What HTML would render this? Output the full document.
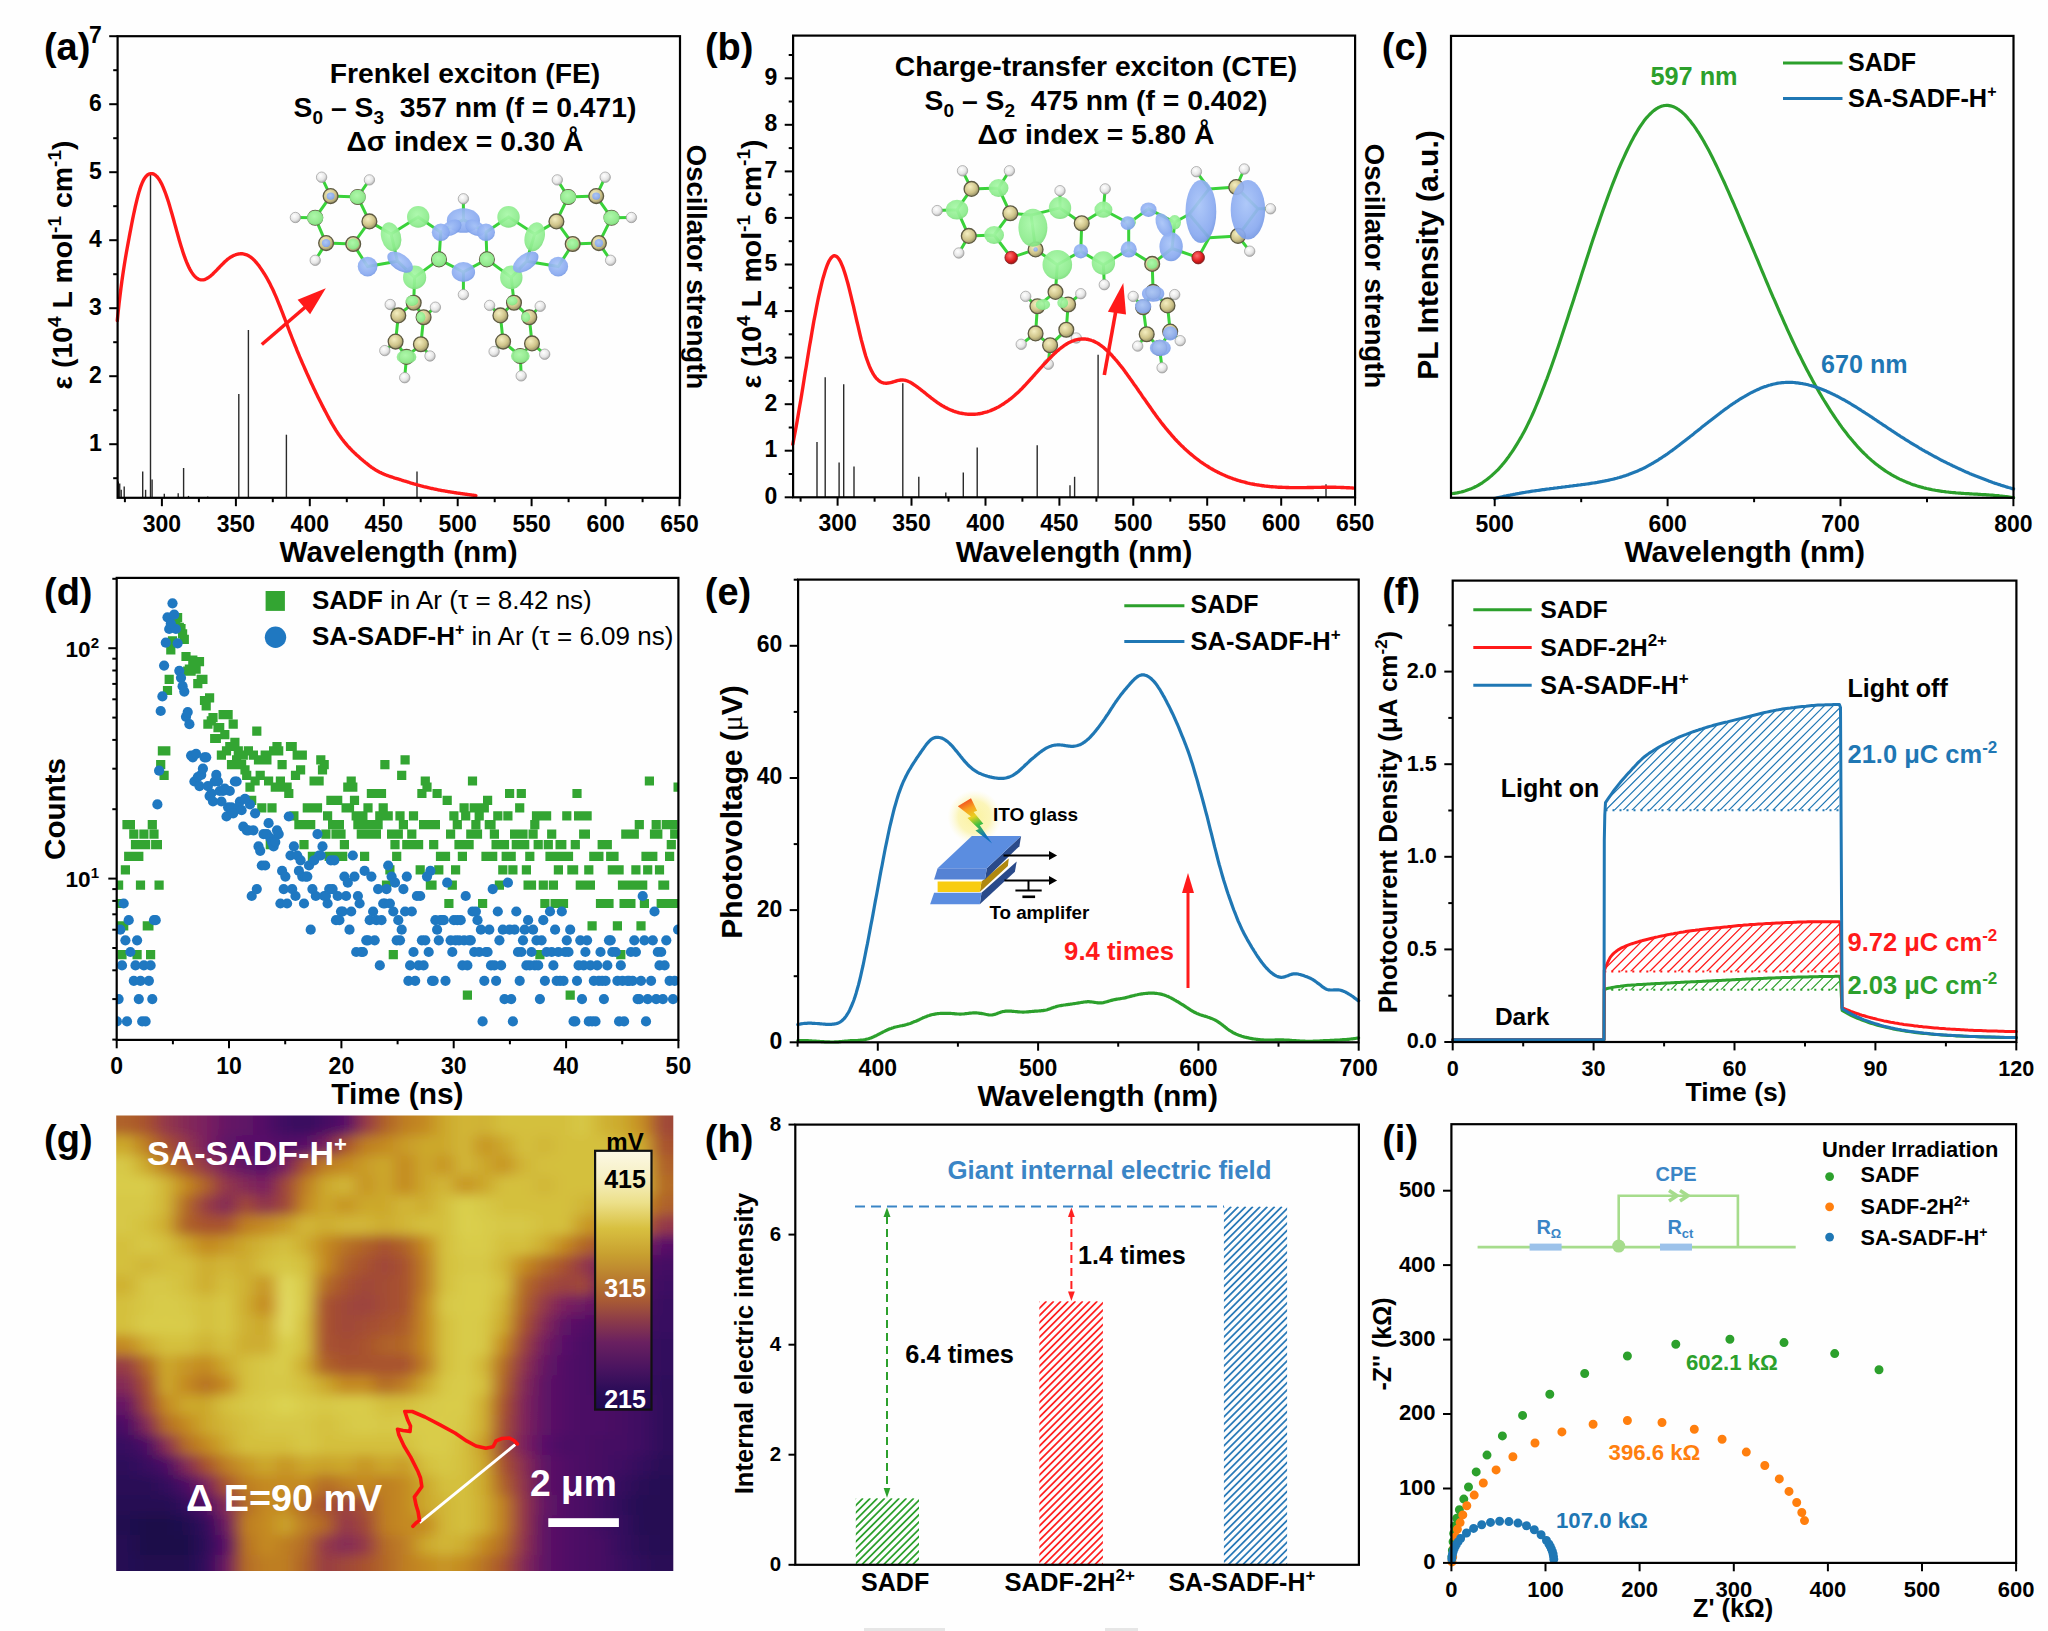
<!DOCTYPE html>
<html><head><meta charset="utf-8"><title>Figure</title>
<style>
html,body{margin:0;padding:0;background:#fff;overflow:hidden;}
svg{display:block;font-family:'Liberation Sans', Arial, sans-serif;}
</style></head>
<body>
<svg xmlns="http://www.w3.org/2000/svg" width="2048" height="1631" viewBox="0 0 2048 1631">
<rect width="2048" height="1631" fill="#fefefe"/>
<defs>
<radialGradient id="gC" cx="0.4" cy="0.35" r="0.7"><stop offset="0" stop-color="#f4eec0"/><stop offset="0.6" stop-color="#cfc48a"/><stop offset="1" stop-color="#8c8660"/></radialGradient>
<radialGradient id="gH" cx="0.4" cy="0.35" r="0.7"><stop offset="0" stop-color="#ffffff"/><stop offset="0.6" stop-color="#e6e6e6"/><stop offset="1" stop-color="#a8a8a8"/></radialGradient>
<radialGradient id="gO" cx="0.4" cy="0.35" r="0.7"><stop offset="0" stop-color="#ff7070"/><stop offset="0.6" stop-color="#e02020"/><stop offset="1" stop-color="#901010"/></radialGradient>
<radialGradient id="gG" cx="0.45" cy="0.4" r="0.65"><stop offset="0" stop-color="#a8f8a8"/><stop offset="0.75" stop-color="#8eec8e"/><stop offset="1" stop-color="#78d878"/></radialGradient>
<radialGradient id="gB" cx="0.45" cy="0.4" r="0.65"><stop offset="0" stop-color="#a8c4f8"/><stop offset="0.75" stop-color="#8aaaf0"/><stop offset="1" stop-color="#7094e0"/></radialGradient>
</defs>
<path d="M330.6,196.1L357.7,197.0M357.7,197.0L369.4,221.4M369.4,221.4L353.2,244.0M353.2,244.0L326.1,243.1M326.1,243.1L315.2,217.8M315.2,217.8L330.6,196.1M369.4,221.4L391.1,234.1M353.2,244.0L367.6,266.6M367.6,266.6L397.4,261.2M397.4,261.2L391.1,234.1M391.1,234.1L418.2,216.9M418.2,216.9L440.8,232.3M440.8,232.3L439.0,259.4M439.0,259.4L414.6,277.4M414.6,277.4L397.4,261.2M440.8,232.3L463.4,219.6M463.4,219.6L486.0,232.3M486.0,232.3L486.9,259.4M486.9,259.4L463.4,272.0M463.4,272.0L439.0,259.4M486.0,232.3L508.5,216.9M508.5,216.9L534.7,234.1M534.7,234.1L526.6,261.2M526.6,261.2L511.3,277.4M511.3,277.4L486.9,259.4M534.7,234.1L556.4,221.4M572.7,244.0L558.2,266.6M558.2,266.6L526.6,261.2M596.2,196.1L568.2,197.0M568.2,197.0L556.4,221.4M556.4,221.4L572.7,244.0M572.7,244.0L598.9,243.1M598.9,243.1L611.5,217.8M611.5,217.8L596.2,196.1M414.6,277.4L413.7,302.7M413.7,302.7L398.3,315.4M413.7,302.7L423.6,317.2M398.3,315.4L395.6,341.6M423.6,317.2L420.9,344.3M395.6,341.6L406.5,356.9M420.9,344.3L406.5,356.9M511.3,277.4L514.0,302.7M514.0,302.7L500.4,315.4M514.0,302.7L529.3,317.2M500.4,315.4L503.1,341.6M529.3,317.2L532.0,343.4M503.1,341.6L520.3,356.0M532.0,343.4L520.3,356.0M330.6,196.1L321.6,177.2M357.7,197.0L369.4,179.9M315.2,217.8L295.4,217.5M326.1,243.1L315.2,260.3M463.4,219.6L463.4,198.8M463.4,272.0L463.4,294.6M568.2,197.0L557.3,179.9M596.2,196.1L605.2,177.2M611.5,217.8L631.4,217.5M598.9,243.1L610.6,260.3M398.3,315.4L390.2,304.5M423.6,317.2L435.4,307.2M395.6,341.6L384.8,350.6M420.9,344.3L430.0,356.0M406.5,356.9L404.7,377.7M500.4,315.4L489.6,305.4M529.3,317.2L540.2,306.3M503.1,341.6L494.1,351.5M532.0,343.4L544.7,354.2M520.3,356.0L521.2,375.9" stroke="#3ad23a" stroke-width="3.0" fill="none" stroke-linecap="round"/>
<circle cx="321.6" cy="177.2" r="5.2" fill="url(#gH)" stroke="#9a9a9a" stroke-width="0.7"/>
<circle cx="369.4" cy="179.9" r="5.2" fill="url(#gH)" stroke="#9a9a9a" stroke-width="0.7"/>
<circle cx="295.4" cy="217.5" r="5.2" fill="url(#gH)" stroke="#9a9a9a" stroke-width="0.7"/>
<circle cx="315.2" cy="260.3" r="5.2" fill="url(#gH)" stroke="#9a9a9a" stroke-width="0.7"/>
<circle cx="463.4" cy="198.8" r="5.2" fill="url(#gH)" stroke="#9a9a9a" stroke-width="0.7"/>
<circle cx="463.4" cy="294.6" r="5.2" fill="url(#gH)" stroke="#9a9a9a" stroke-width="0.7"/>
<circle cx="557.3" cy="179.9" r="5.2" fill="url(#gH)" stroke="#9a9a9a" stroke-width="0.7"/>
<circle cx="605.2" cy="177.2" r="5.2" fill="url(#gH)" stroke="#9a9a9a" stroke-width="0.7"/>
<circle cx="631.4" cy="217.5" r="5.2" fill="url(#gH)" stroke="#9a9a9a" stroke-width="0.7"/>
<circle cx="610.6" cy="260.3" r="5.2" fill="url(#gH)" stroke="#9a9a9a" stroke-width="0.7"/>
<circle cx="390.2" cy="304.5" r="5.2" fill="url(#gH)" stroke="#9a9a9a" stroke-width="0.7"/>
<circle cx="435.4" cy="307.2" r="5.2" fill="url(#gH)" stroke="#9a9a9a" stroke-width="0.7"/>
<circle cx="384.8" cy="350.6" r="5.2" fill="url(#gH)" stroke="#9a9a9a" stroke-width="0.7"/>
<circle cx="430.0" cy="356.0" r="5.2" fill="url(#gH)" stroke="#9a9a9a" stroke-width="0.7"/>
<circle cx="404.7" cy="377.7" r="5.2" fill="url(#gH)" stroke="#9a9a9a" stroke-width="0.7"/>
<circle cx="489.6" cy="305.4" r="5.2" fill="url(#gH)" stroke="#9a9a9a" stroke-width="0.7"/>
<circle cx="540.2" cy="306.3" r="5.2" fill="url(#gH)" stroke="#9a9a9a" stroke-width="0.7"/>
<circle cx="494.1" cy="351.5" r="5.2" fill="url(#gH)" stroke="#9a9a9a" stroke-width="0.7"/>
<circle cx="544.7" cy="354.2" r="5.2" fill="url(#gH)" stroke="#9a9a9a" stroke-width="0.7"/>
<circle cx="521.2" cy="375.9" r="5.2" fill="url(#gH)" stroke="#9a9a9a" stroke-width="0.7"/>
<circle cx="330.6" cy="196.1" r="7.4" fill="url(#gC)" stroke="#5e5a42" stroke-width="1.3"/>
<circle cx="357.7" cy="197.0" r="7.4" fill="url(#gC)" stroke="#5e5a42" stroke-width="1.3"/>
<circle cx="369.4" cy="221.4" r="7.4" fill="url(#gC)" stroke="#5e5a42" stroke-width="1.3"/>
<circle cx="353.2" cy="244.0" r="7.4" fill="url(#gC)" stroke="#5e5a42" stroke-width="1.3"/>
<circle cx="326.1" cy="243.1" r="7.4" fill="url(#gC)" stroke="#5e5a42" stroke-width="1.3"/>
<circle cx="315.2" cy="217.8" r="7.4" fill="url(#gC)" stroke="#5e5a42" stroke-width="1.3"/>
<circle cx="439.0" cy="259.4" r="7.4" fill="url(#gC)" stroke="#5e5a42" stroke-width="1.3"/>
<circle cx="486.9" cy="259.4" r="7.4" fill="url(#gC)" stroke="#5e5a42" stroke-width="1.3"/>
<circle cx="596.2" cy="196.1" r="7.4" fill="url(#gC)" stroke="#5e5a42" stroke-width="1.3"/>
<circle cx="568.2" cy="197.0" r="7.4" fill="url(#gC)" stroke="#5e5a42" stroke-width="1.3"/>
<circle cx="556.4" cy="221.4" r="7.4" fill="url(#gC)" stroke="#5e5a42" stroke-width="1.3"/>
<circle cx="572.7" cy="244.0" r="7.4" fill="url(#gC)" stroke="#5e5a42" stroke-width="1.3"/>
<circle cx="598.9" cy="243.1" r="7.4" fill="url(#gC)" stroke="#5e5a42" stroke-width="1.3"/>
<circle cx="611.5" cy="217.8" r="7.4" fill="url(#gC)" stroke="#5e5a42" stroke-width="1.3"/>
<circle cx="413.7" cy="302.7" r="7.4" fill="url(#gC)" stroke="#5e5a42" stroke-width="1.3"/>
<circle cx="398.3" cy="315.4" r="7.4" fill="url(#gC)" stroke="#5e5a42" stroke-width="1.3"/>
<circle cx="423.6" cy="317.2" r="7.4" fill="url(#gC)" stroke="#5e5a42" stroke-width="1.3"/>
<circle cx="395.6" cy="341.6" r="7.4" fill="url(#gC)" stroke="#5e5a42" stroke-width="1.3"/>
<circle cx="420.9" cy="344.3" r="7.4" fill="url(#gC)" stroke="#5e5a42" stroke-width="1.3"/>
<circle cx="406.5" cy="356.9" r="7.4" fill="url(#gC)" stroke="#5e5a42" stroke-width="1.3"/>
<circle cx="514.0" cy="302.7" r="7.4" fill="url(#gC)" stroke="#5e5a42" stroke-width="1.3"/>
<circle cx="500.4" cy="315.4" r="7.4" fill="url(#gC)" stroke="#5e5a42" stroke-width="1.3"/>
<circle cx="529.3" cy="317.2" r="7.4" fill="url(#gC)" stroke="#5e5a42" stroke-width="1.3"/>
<circle cx="503.1" cy="341.6" r="7.4" fill="url(#gC)" stroke="#5e5a42" stroke-width="1.3"/>
<circle cx="532.0" cy="343.4" r="7.4" fill="url(#gC)" stroke="#5e5a42" stroke-width="1.3"/>
<circle cx="520.3" cy="356.0" r="7.4" fill="url(#gC)" stroke="#5e5a42" stroke-width="1.3"/>
<ellipse cx="418.2" cy="216.9" rx="11.2" ry="10.8" transform="rotate(0 418.2 216.9)" fill="url(#gG)" opacity="0.93"/>
<ellipse cx="508.5" cy="216.9" rx="11.2" ry="10.8" transform="rotate(0 508.5 216.9)" fill="url(#gG)" opacity="0.93"/>
<ellipse cx="391.1" cy="236.8" rx="9.9" ry="14.8" transform="rotate(-15 391.1 236.8)" fill="url(#gG)" opacity="0.93"/>
<ellipse cx="534.7" cy="236.8" rx="9.9" ry="14.8" transform="rotate(15 534.7 236.8)" fill="url(#gG)" opacity="0.93"/>
<ellipse cx="414.6" cy="277.4" rx="11.6" ry="11.9" transform="rotate(0 414.6 277.4)" fill="url(#gG)" opacity="0.93"/>
<ellipse cx="511.3" cy="277.4" rx="11.2" ry="11.9" transform="rotate(0 511.3 277.4)" fill="url(#gG)" opacity="0.93"/>
<ellipse cx="439.0" cy="259.4" rx="7.2" ry="7.2" transform="rotate(0 439.0 259.4)" fill="url(#gG)" opacity="0.93"/>
<ellipse cx="486.9" cy="259.4" rx="7.2" ry="7.2" transform="rotate(0 486.9 259.4)" fill="url(#gG)" opacity="0.93"/>
<ellipse cx="315.2" cy="217.8" rx="8.1" ry="7.2" transform="rotate(0 315.2 217.8)" fill="url(#gG)" opacity="0.93"/>
<ellipse cx="357.7" cy="197.0" rx="8.1" ry="7.2" transform="rotate(0 357.7 197.0)" fill="url(#gG)" opacity="0.93"/>
<ellipse cx="568.2" cy="197.0" rx="8.1" ry="7.2" transform="rotate(0 568.2 197.0)" fill="url(#gG)" opacity="0.93"/>
<ellipse cx="611.5" cy="217.8" rx="8.1" ry="7.2" transform="rotate(0 611.5 217.8)" fill="url(#gG)" opacity="0.93"/>
<ellipse cx="353.2" cy="244.0" rx="5.8" ry="5.4" transform="rotate(0 353.2 244.0)" fill="url(#gG)" opacity="0.93"/>
<ellipse cx="572.7" cy="244.0" rx="5.8" ry="5.4" transform="rotate(0 572.7 244.0)" fill="url(#gG)" opacity="0.93"/>
<ellipse cx="406.5" cy="356.9" rx="9.9" ry="6.9" transform="rotate(0 406.5 356.9)" fill="url(#gG)" opacity="0.93"/>
<ellipse cx="520.3" cy="356.0" rx="9.4" ry="6.9" transform="rotate(0 520.3 356.0)" fill="url(#gG)" opacity="0.93"/>
<ellipse cx="411.9" cy="300.9" rx="6.3" ry="5.1" transform="rotate(0 411.9 300.9)" fill="url(#gG)" opacity="0.93"/>
<ellipse cx="420.9" cy="317.2" rx="4.5" ry="5.4" transform="rotate(0 420.9 317.2)" fill="url(#gG)" opacity="0.93"/>
<ellipse cx="512.2" cy="300.9" rx="5.4" ry="4.5" transform="rotate(0 512.2 300.9)" fill="url(#gG)" opacity="0.93"/>
<ellipse cx="525.7" cy="317.2" rx="4.5" ry="5.1" transform="rotate(0 525.7 317.2)" fill="url(#gG)" opacity="0.93"/>
<ellipse cx="463.4" cy="220.5" rx="16.6" ry="12.3" transform="rotate(0 463.4 220.5)" fill="url(#gB)" opacity="0.93"/>
<ellipse cx="451.6" cy="227.8" rx="10.8" ry="7.2" transform="rotate(-30 451.6 227.8)" fill="url(#gB)" opacity="0.93"/>
<ellipse cx="475.1" cy="227.8" rx="10.8" ry="7.2" transform="rotate(30 475.1 227.8)" fill="url(#gB)" opacity="0.93"/>
<ellipse cx="440.8" cy="232.3" rx="9.0" ry="8.7" transform="rotate(0 440.8 232.3)" fill="url(#gB)" opacity="0.93"/>
<ellipse cx="486.0" cy="232.3" rx="9.0" ry="8.7" transform="rotate(0 486.0 232.3)" fill="url(#gB)" opacity="0.93"/>
<ellipse cx="463.4" cy="272.0" rx="11.7" ry="9.9" transform="rotate(0 463.4 272.0)" fill="url(#gB)" opacity="0.93"/>
<ellipse cx="400.1" cy="262.1" rx="14.5" ry="8.1" transform="rotate(35 400.1 262.1)" fill="url(#gB)" opacity="0.93"/>
<ellipse cx="525.7" cy="262.1" rx="14.5" ry="8.1" transform="rotate(-35 525.7 262.1)" fill="url(#gB)" opacity="0.93"/>
<ellipse cx="367.6" cy="266.6" rx="9.9" ry="9.9" transform="rotate(0 367.6 266.6)" fill="url(#gB)" opacity="0.93"/>
<ellipse cx="558.2" cy="266.6" rx="9.9" ry="9.9" transform="rotate(0 558.2 266.6)" fill="url(#gB)" opacity="0.93"/>
<ellipse cx="330.6" cy="196.1" rx="4.0" ry="3.6" transform="rotate(0 330.6 196.1)" fill="url(#gB)" opacity="0.93"/>
<ellipse cx="326.1" cy="243.1" rx="4.3" ry="4.0" transform="rotate(0 326.1 243.1)" fill="url(#gB)" opacity="0.93"/>
<ellipse cx="596.2" cy="196.1" rx="4.0" ry="3.6" transform="rotate(0 596.2 196.1)" fill="url(#gB)" opacity="0.93"/>
<ellipse cx="598.9" cy="243.1" rx="4.3" ry="4.0" transform="rotate(0 598.9 243.1)" fill="url(#gB)" opacity="0.93"/>
<line x1="118.3" y1="497.8" x2="118.3" y2="481.6" stroke="#2a2a2a" stroke-width="1.4" />
<line x1="119.7" y1="497.8" x2="119.7" y2="483.6" stroke="#2a2a2a" stroke-width="1.4" />
<line x1="121.2" y1="497.8" x2="121.2" y2="489.8" stroke="#2a2a2a" stroke-width="1.4" />
<line x1="124.2" y1="497.8" x2="124.2" y2="486.4" stroke="#2a2a2a" stroke-width="1.4" />
<line x1="142.7" y1="497.8" x2="142.7" y2="471.4" stroke="#2a2a2a" stroke-width="1.4" />
<line x1="145.6" y1="497.8" x2="145.6" y2="489.8" stroke="#2a2a2a" stroke-width="1.4" />
<line x1="150.5" y1="497.8" x2="150.5" y2="174.2" stroke="#2a2a2a" stroke-width="1.4" />
<line x1="152.1" y1="497.8" x2="152.1" y2="479.6" stroke="#2a2a2a" stroke-width="1.4" />
<line x1="164.3" y1="497.8" x2="164.3" y2="493.8" stroke="#2a2a2a" stroke-width="1.4" />
<line x1="178.2" y1="497.8" x2="178.2" y2="493.2" stroke="#2a2a2a" stroke-width="1.4" />
<line x1="183.6" y1="497.8" x2="183.6" y2="468" stroke="#2a2a2a" stroke-width="1.4" />
<line x1="188.5" y1="497.8" x2="188.5" y2="495.9" stroke="#2a2a2a" stroke-width="1.4" />
<line x1="207.7" y1="497.8" x2="207.7" y2="496.6" stroke="#2a2a2a" stroke-width="1.4" />
<line x1="238.8" y1="497.8" x2="238.8" y2="393.9" stroke="#2a2a2a" stroke-width="1.4" />
<line x1="248.4" y1="497.8" x2="248.4" y2="330" stroke="#2a2a2a" stroke-width="1.4" />
<line x1="286.4" y1="497.8" x2="286.4" y2="434.7" stroke="#2a2a2a" stroke-width="1.4" />
<line x1="417" y1="497.8" x2="417" y2="471.4" stroke="#2a2a2a" stroke-width="1.4" />
<path d="M117.3,320.5 L118.2,311.7 L119.1,303.4 L120.0,295.7 L120.9,288.5 L121.8,281.7 L122.7,275.4 L123.6,269.4 L124.5,263.7 L125.4,258.3 L126.3,253.0 L127.2,248.0 L128.1,243.1 L129.0,238.2 L129.9,233.4 L130.8,228.7 L131.7,224.0 L132.6,219.4 L133.5,215.0 L134.4,210.8 L135.3,206.7 L136.2,202.8 L137.1,199.1 L138.0,195.6 L138.9,192.4 L139.8,189.4 L140.7,186.7 L141.6,184.3 L142.5,182.2 L143.4,180.3 L144.3,178.7 L145.2,177.4 L146.1,176.3 L147.0,175.4 L147.9,174.7 L148.8,174.1 L149.7,173.8 L150.6,173.6 L151.5,173.6 L152.4,173.7 L153.2,173.9 L154.1,174.3 L155.0,174.9 L155.9,175.6 L156.8,176.5 L157.7,177.5 L158.6,178.7 L159.5,180.0 L160.4,181.6 L161.3,183.3 L162.2,185.1 L163.1,187.1 L164.0,189.3 L164.9,191.6 L165.8,194.0 L166.7,196.6 L167.6,199.3 L168.5,202.1 L169.4,205.0 L170.3,208.1 L171.2,211.2 L172.1,214.3 L173.0,217.5 L173.9,220.8 L174.8,224.1 L175.7,227.3 L176.6,230.6 L177.5,233.8 L178.4,237.0 L179.3,240.2 L180.2,243.2 L181.1,246.2 L182.0,249.1 L182.9,251.9 L183.8,254.6 L184.7,257.2 L185.6,259.6 L186.5,261.9 L187.4,264.0 L188.3,266.0 L189.2,267.9 L190.1,269.6 L191.0,271.2 L191.9,272.6 L192.8,273.9 L193.7,275.1 L194.6,276.1 L195.5,277.0 L196.4,277.8 L197.3,278.4 L198.2,279.0 L199.1,279.4 L200.0,279.7 L200.9,279.9 L201.8,279.9 L202.7,279.9 L203.6,279.8 L204.5,279.6 L205.4,279.2 L206.3,278.8 L207.2,278.3 L208.1,277.8 L209.0,277.2 L209.9,276.5 L210.8,275.8 L211.7,275.0 L212.6,274.2 L213.5,273.3 L214.4,272.4 L215.3,271.5 L216.2,270.6 L217.1,269.7 L218.0,268.7 L218.9,267.8 L219.8,266.8 L220.7,265.9 L221.6,265.0 L222.5,264.1 L223.4,263.2 L224.3,262.3 L225.1,261.5 L226.0,260.7 L226.9,259.9 L227.8,259.2 L228.7,258.5 L229.6,257.8 L230.5,257.2 L231.4,256.7 L232.3,256.2 L233.2,255.7 L234.1,255.3 L235.0,255.0 L235.9,254.6 L236.8,254.4 L237.7,254.2 L238.6,254.0 L239.5,253.9 L240.4,253.8 L241.3,253.8 L242.2,253.8 L243.1,253.9 L244.0,254.1 L244.9,254.3 L245.8,254.6 L246.7,254.9 L247.6,255.3 L248.5,255.8 L249.4,256.3 L250.3,256.9 L251.2,257.5 L252.1,258.3 L253.0,259.1 L253.9,259.9 L254.8,260.8 L255.7,261.8 L256.6,262.9 L257.5,264.0 L258.4,265.1 L259.3,266.3 L260.2,267.6 L261.1,268.9 L262.0,270.2 L262.9,271.6 L263.8,273.0 L264.7,274.4 L265.6,275.9 L266.5,277.4 L267.4,279.0 L268.3,280.7 L269.2,282.3 L270.1,284.1 L271.0,285.9 L271.9,287.7 L272.8,289.6 L273.7,291.5 L274.6,293.6 L275.5,295.6 L276.4,297.7 L277.3,299.9 L278.2,302.1 L279.1,304.3 L280.0,306.5 L280.9,308.8 L281.8,311.1 L282.7,313.4 L283.6,315.8 L284.5,318.1 L285.4,320.5 L286.3,322.9 L287.2,325.2 L288.1,327.6 L289.0,330.0 L289.9,332.3 L290.8,334.6 L291.7,337.0 L292.6,339.3 L293.5,341.5 L294.4,343.8 L295.3,346.0 L296.2,348.2 L297.0,350.4 L297.9,352.5 L298.8,354.7 L299.7,356.8 L300.6,358.9 L301.5,361.0 L302.4,363.1 L303.3,365.1 L304.2,367.2 L305.1,369.2 L306.0,371.2 L306.9,373.3 L307.8,375.3 L308.7,377.3 L309.6,379.2 L310.5,381.2 L311.4,383.2 L312.3,385.1 L313.2,387.0 L314.1,388.9 L315.0,390.8 L315.9,392.7 L316.8,394.5 L317.7,396.4 L318.6,398.2 L319.5,400.0 L320.4,401.8 L321.3,403.6 L322.2,405.4 L323.1,407.1 L324.0,408.9 L324.9,410.6 L325.8,412.3 L326.7,414.0 L327.6,415.7 L328.5,417.4 L329.4,419.1 L330.3,420.7 L331.2,422.3 L332.1,423.9 L333.0,425.4 L333.9,426.9 L334.8,428.4 L335.7,429.9 L336.6,431.3 L337.5,432.6 L338.4,434.0 L339.3,435.3 L340.2,436.5 L341.1,437.8 L342.0,439.0 L342.9,440.1 L343.8,441.3 L344.7,442.4 L345.6,443.5 L346.5,444.5 L347.4,445.6 L348.3,446.6 L349.2,447.5 L350.1,448.5 L351.0,449.4 L351.9,450.4 L352.8,451.2 L353.7,452.1 L354.6,453.0 L355.5,453.8 L356.4,454.7 L357.3,455.5 L358.2,456.3 L359.1,457.1 L360.0,457.9 L360.9,458.7 L361.8,459.5 L362.7,460.2 L363.6,461.0 L364.5,461.7 L365.4,462.5 L366.3,463.2 L367.2,463.9 L368.1,464.6 L368.9,465.3 L369.8,466.0 L370.7,466.6 L371.6,467.3 L372.5,467.9 L373.4,468.5 L374.3,469.1 L375.2,469.7 L376.1,470.2 L377.0,470.7 L377.9,471.2 L378.8,471.7 L379.7,472.2 L380.6,472.6 L381.5,473.1 L382.4,473.5 L383.3,473.9 L384.2,474.3 L385.1,474.6 L386.0,475.0 L386.9,475.3 L387.8,475.7 L388.7,476.0 L389.6,476.3 L390.5,476.6 L391.4,476.9 L392.3,477.2 L393.2,477.5 L394.1,477.8 L395.0,478.1 L395.9,478.3 L396.8,478.6 L397.7,478.9 L398.6,479.2 L399.5,479.5 L400.4,479.7 L401.3,480.0 L402.2,480.3 L403.1,480.6 L404.0,480.9 L404.9,481.1 L405.8,481.4 L406.7,481.7 L407.6,482.0 L408.5,482.2 L409.4,482.5 L410.3,482.8 L411.2,483.1 L412.1,483.3 L413.0,483.6 L413.9,483.9 L414.8,484.1 L415.7,484.4 L416.6,484.6 L417.5,484.9 L418.4,485.1 L419.3,485.4 L420.2,485.6 L421.1,485.9 L422.0,486.1 L422.9,486.3 L423.8,486.6 L424.7,486.8 L425.6,487.0 L426.5,487.2 L427.4,487.5 L428.3,487.7 L429.2,487.9 L430.1,488.1 L431.0,488.3 L431.9,488.5 L432.8,488.7 L433.7,488.9 L434.6,489.1 L435.5,489.2 L436.4,489.4 L437.3,489.6 L438.2,489.8 L439.1,490.0 L440.0,490.1 L440.8,490.3 L441.7,490.5 L442.6,490.6 L443.5,490.8 L444.4,490.9 L445.3,491.1 L446.2,491.3 L447.1,491.4 L448.0,491.6 L448.9,491.7 L449.8,491.9 L450.7,492.0 L451.6,492.1 L452.5,492.3 L453.4,492.4 L454.3,492.6 L455.2,492.7 L456.1,492.8 L457.0,493.0 L457.9,493.1 L458.8,493.2 L459.7,493.4 L460.6,493.5 L461.5,493.6 L462.4,493.7 L463.3,493.9 L464.2,494.0 L465.1,494.1 L466.0,494.2 L466.9,494.4 L467.8,494.5 L468.7,494.6 L469.6,494.7 L470.5,494.9 L471.4,495.0 L472.3,495.1 L473.2,495.2 L474.1,495.4 L475.0,495.5 L475.9,495.6" fill="none" stroke="#ff1a1a" stroke-width="3.4" stroke-linejoin="round" stroke-linecap="round" />
<rect x="117.6" y="36.2" width="562.4" height="461.6" fill="none" stroke="#000" stroke-width="2.2"/>
<line x1="161.9" y1="497.8" x2="161.9" y2="506.2" stroke="#000" stroke-width="2" />
<line x1="235.9" y1="497.8" x2="235.9" y2="506.2" stroke="#000" stroke-width="2" />
<line x1="309.8" y1="497.8" x2="309.8" y2="506.2" stroke="#000" stroke-width="2" />
<line x1="383.8" y1="497.8" x2="383.8" y2="506.2" stroke="#000" stroke-width="2" />
<line x1="457.7" y1="497.8" x2="457.7" y2="506.2" stroke="#000" stroke-width="2" />
<line x1="531.6" y1="497.8" x2="531.6" y2="506.2" stroke="#000" stroke-width="2" />
<line x1="605.6" y1="497.8" x2="605.6" y2="506.2" stroke="#000" stroke-width="2" />
<line x1="679.5" y1="497.8" x2="679.5" y2="506.2" stroke="#000" stroke-width="2" />
<line x1="124.9" y1="497.8" x2="124.9" y2="502.2" stroke="#000" stroke-width="2" />
<line x1="198.9" y1="497.8" x2="198.9" y2="502.2" stroke="#000" stroke-width="2" />
<line x1="272.8" y1="497.8" x2="272.8" y2="502.2" stroke="#000" stroke-width="2" />
<line x1="346.8" y1="497.8" x2="346.8" y2="502.2" stroke="#000" stroke-width="2" />
<line x1="420.7" y1="497.8" x2="420.7" y2="502.2" stroke="#000" stroke-width="2" />
<line x1="494.7" y1="497.8" x2="494.7" y2="502.2" stroke="#000" stroke-width="2" />
<line x1="568.6" y1="497.8" x2="568.6" y2="502.2" stroke="#000" stroke-width="2" />
<line x1="642.6" y1="497.8" x2="642.6" y2="502.2" stroke="#000" stroke-width="2" />
<text x="161.9" y="531.5" font-size="23" text-anchor="middle" font-weight="bold" fill="#000" >300</text>
<text x="235.9" y="531.5" font-size="23" text-anchor="middle" font-weight="bold" fill="#000" >350</text>
<text x="309.8" y="531.5" font-size="23" text-anchor="middle" font-weight="bold" fill="#000" >400</text>
<text x="383.8" y="531.5" font-size="23" text-anchor="middle" font-weight="bold" fill="#000" >450</text>
<text x="457.7" y="531.5" font-size="23" text-anchor="middle" font-weight="bold" fill="#000" >500</text>
<text x="531.6" y="531.5" font-size="23" text-anchor="middle" font-weight="bold" fill="#000" >550</text>
<text x="605.6" y="531.5" font-size="23" text-anchor="middle" font-weight="bold" fill="#000" >600</text>
<text x="679.5" y="531.5" font-size="23" text-anchor="middle" font-weight="bold" fill="#000" >650</text>
<line x1="109.2" y1="444.2" x2="117.6" y2="444.2" stroke="#000" stroke-width="2" />
<line x1="109.2" y1="376.2" x2="117.6" y2="376.2" stroke="#000" stroke-width="2" />
<line x1="109.2" y1="308.2" x2="117.6" y2="308.2" stroke="#000" stroke-width="2" />
<line x1="109.2" y1="240.2" x2="117.6" y2="240.2" stroke="#000" stroke-width="2" />
<line x1="109.2" y1="172.2" x2="117.6" y2="172.2" stroke="#000" stroke-width="2" />
<line x1="109.2" y1="104.2" x2="117.6" y2="104.2" stroke="#000" stroke-width="2" />
<line x1="109.2" y1="36.2" x2="117.6" y2="36.2" stroke="#000" stroke-width="2" />
<line x1="113.2" y1="478.2" x2="117.6" y2="478.2" stroke="#000" stroke-width="2" />
<line x1="113.2" y1="410.2" x2="117.6" y2="410.2" stroke="#000" stroke-width="2" />
<line x1="113.2" y1="342.2" x2="117.6" y2="342.2" stroke="#000" stroke-width="2" />
<line x1="113.2" y1="274.2" x2="117.6" y2="274.2" stroke="#000" stroke-width="2" />
<line x1="113.2" y1="206.2" x2="117.6" y2="206.2" stroke="#000" stroke-width="2" />
<line x1="113.2" y1="138.2" x2="117.6" y2="138.2" stroke="#000" stroke-width="2" />
<line x1="113.2" y1="70.2" x2="117.6" y2="70.2" stroke="#000" stroke-width="2" />
<text x="101.8" y="450.6" font-size="23" text-anchor="end" font-weight="bold" fill="#000" >1</text>
<text x="101.8" y="382.6" font-size="23" text-anchor="end" font-weight="bold" fill="#000" >2</text>
<text x="101.8" y="314.6" font-size="23" text-anchor="end" font-weight="bold" fill="#000" >3</text>
<text x="101.8" y="246.6" font-size="23" text-anchor="end" font-weight="bold" fill="#000" >4</text>
<text x="101.8" y="178.6" font-size="23" text-anchor="end" font-weight="bold" fill="#000" >5</text>
<text x="101.8" y="110.6" font-size="23" text-anchor="end" font-weight="bold" fill="#000" >6</text>
<text x="101.8" y="42.6" font-size="23" text-anchor="end" font-weight="bold" fill="#000" >7</text>
<text x="43.9" y="60" font-size="38" text-anchor="start" font-weight="bold" fill="#000" >(a)</text>
<text x="398.5" y="562" font-size="29.7" text-anchor="middle" font-weight="bold" fill="#000" >Wavelength (nm)</text>
<text transform="translate(72,265) rotate(-90)" font-size="28.5" font-weight="bold" text-anchor="middle">ε (10<tspan dy="-11" font-size="19">4</tspan><tspan dy="11"> L mol</tspan><tspan dy="-11" font-size="19">-1</tspan><tspan dy="11"> cm</tspan><tspan dy="-11" font-size="19">-1</tspan><tspan dy="11">)</tspan></text>
<text x="0" y="0" transform="translate(687,267) rotate(90)" font-size="27.5" text-anchor="middle" font-weight="bold" fill="#000">Oscillator strength</text>
<text x="465" y="82.6" font-size="28.3" text-anchor="middle" font-weight="bold" fill="#000" >Frenkel exciton (FE)</text>
<text x="465" y="117" font-size="28.3" font-weight="bold" text-anchor="middle">S<tspan dy="7" font-size="19">0</tspan><tspan dy="-7"> – S</tspan><tspan dy="7" font-size="19">3</tspan><tspan dy="-7">&#160; 357 nm (f = 0.471)</tspan></text>
<text x="465" y="151" font-size="28.3" text-anchor="middle" font-weight="bold" fill="#000" >Δσ index = 0.30 Å</text>
<line x1="261.8" y1="344.5" x2="306" y2="306.5" stroke="#ff1a1a" stroke-width="3.6"/>
<polygon points="325.8,288.2 297.6,299.7 310.1,314.3" fill="#ff1a1a"/>
<path d="M971.5,188.9L998.6,188.0M998.6,188.0L1010.3,213.3M1010.3,213.3L994.1,235.0M994.1,235.0L968.8,235.9M968.8,235.9L957.0,209.7M957.0,209.7L971.5,188.9M1010.3,213.3L1031.1,215.1M994.1,235.0L1011.2,257.6M1011.2,257.6L1035.6,249.4M1035.6,249.4L1031.1,215.1M1031.1,215.1L1060.0,207.9M1060.0,207.9L1081.7,223.2M1081.7,223.2L1080.8,251.2M1080.8,251.2L1057.3,264.8M1057.3,264.8L1035.6,249.4M1081.7,223.2L1103.4,209.7M1103.4,209.7L1128.7,223.2M1128.7,223.2L1128.7,249.4M1128.7,249.4L1103.4,264.8M1103.4,264.8L1080.8,251.2M1128.7,223.2L1148.5,208.8M1148.5,208.8L1174.7,222.3M1174.7,222.3L1172.0,248.5M1172.0,248.5L1152.2,263.9M1152.2,263.9L1128.7,249.4M1174.7,222.3L1189.2,214.2M1172.0,248.5L1198.2,257.6M1198.2,257.6L1209.1,237.7M1209.1,188.9L1236.2,187.1M1236.2,187.1L1257.9,208.8M1257.9,208.8L1238.0,235.9M1238.0,235.9L1209.1,237.7M1209.1,237.7L1189.2,214.2M1189.2,214.2L1209.1,188.9M1057.3,264.8L1055.5,291.9M1055.5,291.9L1037.4,306.3M1055.5,291.9L1068.1,304.5M1037.4,306.3L1035.6,333.4M1068.1,304.5L1066.3,329.8M1035.6,333.4L1050.1,345.2M1066.3,329.8L1050.1,345.2M1152.2,263.9L1153.1,291.9M1153.1,291.9L1143.1,307.2M1153.1,291.9L1167.5,305.4M1143.1,307.2L1146.7,334.3M1167.5,305.4L1170.2,331.6M1146.7,334.3L1159.4,347.9M1170.2,331.6L1159.4,347.9M971.5,188.9L962.5,170.8M998.6,188.0L1009.4,170.8M957.0,209.7L937.2,210.6M968.8,235.9L958.8,253.0M1060.0,207.9L1060.0,190.7M1103.4,209.7L1105.2,188.9M1103.4,264.8L1104.3,284.7M1209.1,188.9L1196.4,171.7M1236.2,187.1L1244.3,169.0M1257.9,208.8L1270.5,208.8M1238.0,235.9L1249.7,251.2M1037.4,306.3L1025.7,296.4M1068.1,304.5L1080.8,293.7M1035.6,333.4L1021.2,344.3M1066.3,329.8L1076.3,338.0M1050.1,345.2L1048.3,364.2M1143.1,307.2L1133.2,296.4M1167.5,305.4L1174.7,294.6M1146.7,334.3L1137.7,346.1M1170.2,331.6L1180.2,340.7M1159.4,347.9L1162.1,367.8" stroke="#3ad23a" stroke-width="3.0" fill="none" stroke-linecap="round"/>
<circle cx="962.5" cy="170.8" r="5.2" fill="url(#gH)" stroke="#9a9a9a" stroke-width="0.7"/>
<circle cx="1009.4" cy="170.8" r="5.2" fill="url(#gH)" stroke="#9a9a9a" stroke-width="0.7"/>
<circle cx="937.2" cy="210.6" r="5.2" fill="url(#gH)" stroke="#9a9a9a" stroke-width="0.7"/>
<circle cx="958.8" cy="253.0" r="5.2" fill="url(#gH)" stroke="#9a9a9a" stroke-width="0.7"/>
<circle cx="1060.0" cy="190.7" r="5.2" fill="url(#gH)" stroke="#9a9a9a" stroke-width="0.7"/>
<circle cx="1105.2" cy="188.9" r="5.2" fill="url(#gH)" stroke="#9a9a9a" stroke-width="0.7"/>
<circle cx="1104.3" cy="284.7" r="5.2" fill="url(#gH)" stroke="#9a9a9a" stroke-width="0.7"/>
<circle cx="1196.4" cy="171.7" r="5.2" fill="url(#gH)" stroke="#9a9a9a" stroke-width="0.7"/>
<circle cx="1244.3" cy="169.0" r="5.2" fill="url(#gH)" stroke="#9a9a9a" stroke-width="0.7"/>
<circle cx="1270.5" cy="208.8" r="5.2" fill="url(#gH)" stroke="#9a9a9a" stroke-width="0.7"/>
<circle cx="1249.7" cy="251.2" r="5.2" fill="url(#gH)" stroke="#9a9a9a" stroke-width="0.7"/>
<circle cx="1025.7" cy="296.4" r="5.2" fill="url(#gH)" stroke="#9a9a9a" stroke-width="0.7"/>
<circle cx="1080.8" cy="293.7" r="5.2" fill="url(#gH)" stroke="#9a9a9a" stroke-width="0.7"/>
<circle cx="1021.2" cy="344.3" r="5.2" fill="url(#gH)" stroke="#9a9a9a" stroke-width="0.7"/>
<circle cx="1076.3" cy="338.0" r="5.2" fill="url(#gH)" stroke="#9a9a9a" stroke-width="0.7"/>
<circle cx="1048.3" cy="364.2" r="5.2" fill="url(#gH)" stroke="#9a9a9a" stroke-width="0.7"/>
<circle cx="1133.2" cy="296.4" r="5.2" fill="url(#gH)" stroke="#9a9a9a" stroke-width="0.7"/>
<circle cx="1174.7" cy="294.6" r="5.2" fill="url(#gH)" stroke="#9a9a9a" stroke-width="0.7"/>
<circle cx="1137.7" cy="346.1" r="5.2" fill="url(#gH)" stroke="#9a9a9a" stroke-width="0.7"/>
<circle cx="1180.2" cy="340.7" r="5.2" fill="url(#gH)" stroke="#9a9a9a" stroke-width="0.7"/>
<circle cx="1162.1" cy="367.8" r="5.2" fill="url(#gH)" stroke="#9a9a9a" stroke-width="0.7"/>
<circle cx="971.5" cy="188.9" r="7.4" fill="url(#gC)" stroke="#5e5a42" stroke-width="1.3"/>
<circle cx="1010.3" cy="213.3" r="7.4" fill="url(#gC)" stroke="#5e5a42" stroke-width="1.3"/>
<circle cx="968.8" cy="235.9" r="7.4" fill="url(#gC)" stroke="#5e5a42" stroke-width="1.3"/>
<circle cx="1011.2" cy="257.6" r="6.3" fill="url(#gO)" stroke="#7a2020" stroke-width="0.8"/>
<circle cx="1035.6" cy="249.4" r="7.4" fill="url(#gC)" stroke="#5e5a42" stroke-width="1.3"/>
<circle cx="1081.7" cy="223.2" r="7.4" fill="url(#gC)" stroke="#5e5a42" stroke-width="1.3"/>
<circle cx="1152.2" cy="263.9" r="7.4" fill="url(#gC)" stroke="#5e5a42" stroke-width="1.3"/>
<circle cx="1236.2" cy="187.1" r="7.4" fill="url(#gC)" stroke="#5e5a42" stroke-width="1.3"/>
<circle cx="1238.0" cy="235.9" r="7.4" fill="url(#gC)" stroke="#5e5a42" stroke-width="1.3"/>
<circle cx="1198.2" cy="257.6" r="6.3" fill="url(#gO)" stroke="#7a2020" stroke-width="0.8"/>
<circle cx="1055.5" cy="291.9" r="7.4" fill="url(#gC)" stroke="#5e5a42" stroke-width="1.3"/>
<circle cx="1037.4" cy="306.3" r="7.4" fill="url(#gC)" stroke="#5e5a42" stroke-width="1.3"/>
<circle cx="1068.1" cy="304.5" r="7.4" fill="url(#gC)" stroke="#5e5a42" stroke-width="1.3"/>
<circle cx="1035.6" cy="333.4" r="7.4" fill="url(#gC)" stroke="#5e5a42" stroke-width="1.3"/>
<circle cx="1066.3" cy="329.8" r="7.4" fill="url(#gC)" stroke="#5e5a42" stroke-width="1.3"/>
<circle cx="1050.1" cy="345.2" r="7.4" fill="url(#gC)" stroke="#5e5a42" stroke-width="1.3"/>
<circle cx="1153.1" cy="291.9" r="7.4" fill="url(#gC)" stroke="#5e5a42" stroke-width="1.3"/>
<circle cx="1143.1" cy="307.2" r="7.4" fill="url(#gC)" stroke="#5e5a42" stroke-width="1.3"/>
<circle cx="1167.5" cy="305.4" r="7.4" fill="url(#gC)" stroke="#5e5a42" stroke-width="1.3"/>
<circle cx="1146.7" cy="334.3" r="7.4" fill="url(#gC)" stroke="#5e5a42" stroke-width="1.3"/>
<circle cx="1170.2" cy="331.6" r="7.4" fill="url(#gC)" stroke="#5e5a42" stroke-width="1.3"/>
<circle cx="1159.4" cy="347.9" r="7.4" fill="url(#gC)" stroke="#5e5a42" stroke-width="1.3"/>
<ellipse cx="998.6" cy="188.0" rx="9.9" ry="9.0" transform="rotate(0 998.6 188.0)" fill="url(#gG)" opacity="0.93"/>
<ellipse cx="957.0" cy="209.7" rx="11.2" ry="9.9" transform="rotate(0 957.0 209.7)" fill="url(#gG)" opacity="0.93"/>
<ellipse cx="994.1" cy="235.0" rx="9.9" ry="9.0" transform="rotate(0 994.1 235.0)" fill="url(#gG)" opacity="0.93"/>
<ellipse cx="1032.9" cy="227.8" rx="14.5" ry="19.0" transform="rotate(0 1032.9 227.8)" fill="url(#gG)" opacity="0.93"/>
<ellipse cx="1060.0" cy="207.9" rx="11.2" ry="11.2" transform="rotate(0 1060.0 207.9)" fill="url(#gG)" opacity="0.93"/>
<ellipse cx="1103.4" cy="209.7" rx="9.0" ry="8.1" transform="rotate(0 1103.4 209.7)" fill="url(#gG)" opacity="0.93"/>
<ellipse cx="1057.3" cy="264.8" rx="14.8" ry="14.8" transform="rotate(0 1057.3 264.8)" fill="url(#gG)" opacity="0.93"/>
<ellipse cx="1103.4" cy="263.0" rx="11.7" ry="11.7" transform="rotate(0 1103.4 263.0)" fill="url(#gG)" opacity="0.93"/>
<ellipse cx="1174.7" cy="222.3" rx="6.3" ry="7.2" transform="rotate(0 1174.7 222.3)" fill="url(#gG)" opacity="0.93"/>
<ellipse cx="1130.5" cy="222.3" rx="5.4" ry="5.4" transform="rotate(0 1130.5 222.3)" fill="url(#gG)" opacity="0.93"/>
<ellipse cx="1042.9" cy="304.5" rx="7.2" ry="5.4" transform="rotate(0 1042.9 304.5)" fill="url(#gG)" opacity="0.93"/>
<ellipse cx="1062.7" cy="302.7" rx="5.4" ry="5.4" transform="rotate(0 1062.7 302.7)" fill="url(#gG)" opacity="0.93"/>
<ellipse cx="1152.2" cy="263.9" rx="5.4" ry="5.1" transform="rotate(0 1152.2 263.9)" fill="url(#gG)" opacity="0.93"/>
<ellipse cx="1148.5" cy="209.7" rx="8.1" ry="7.2" transform="rotate(0 1148.5 209.7)" fill="url(#gB)" opacity="0.93"/>
<ellipse cx="1163.9" cy="225.0" rx="7.2" ry="12.6" transform="rotate(-25 1163.9 225.0)" fill="url(#gB)" opacity="0.93"/>
<ellipse cx="1171.1" cy="246.7" rx="11.7" ry="14.5" transform="rotate(0 1171.1 246.7)" fill="url(#gB)" opacity="0.93"/>
<ellipse cx="1200.9" cy="211.5" rx="15.4" ry="31.6" transform="rotate(0 1200.9 211.5)" fill="url(#gB)" opacity="0.93"/>
<ellipse cx="1247.9" cy="209.7" rx="17.2" ry="29.8" transform="rotate(0 1247.9 209.7)" fill="url(#gB)" opacity="0.93"/>
<ellipse cx="1080.8" cy="251.2" rx="7.2" ry="7.2" transform="rotate(0 1080.8 251.2)" fill="url(#gB)" opacity="0.93"/>
<ellipse cx="1128.7" cy="249.4" rx="8.1" ry="8.1" transform="rotate(0 1128.7 249.4)" fill="url(#gB)" opacity="0.93"/>
<ellipse cx="1127.8" cy="223.2" rx="7.2" ry="6.9" transform="rotate(0 1127.8 223.2)" fill="url(#gB)" opacity="0.93"/>
<ellipse cx="1035.6" cy="249.4" rx="2.2" ry="2.2" transform="rotate(0 1035.6 249.4)" fill="url(#gB)" opacity="0.93"/>
<ellipse cx="1153.1" cy="293.7" rx="11.2" ry="8.1" transform="rotate(0 1153.1 293.7)" fill="url(#gB)" opacity="0.93"/>
<ellipse cx="1143.1" cy="306.3" rx="8.1" ry="7.2" transform="rotate(0 1143.1 306.3)" fill="url(#gB)" opacity="0.93"/>
<ellipse cx="1170.2" cy="333.4" rx="7.2" ry="7.2" transform="rotate(0 1170.2 333.4)" fill="url(#gB)" opacity="0.93"/>
<ellipse cx="1160.3" cy="347.9" rx="10.5" ry="8.1" transform="rotate(0 1160.3 347.9)" fill="url(#gB)" opacity="0.93"/>
<line x1="817" y1="497.3" x2="817" y2="441.9" stroke="#2a2a2a" stroke-width="1.4" />
<line x1="825.2" y1="497.3" x2="825.2" y2="377.2" stroke="#2a2a2a" stroke-width="1.4" />
<line x1="839.1" y1="497.3" x2="839.1" y2="462.4" stroke="#2a2a2a" stroke-width="1.4" />
<line x1="843.7" y1="497.3" x2="843.7" y2="384.2" stroke="#2a2a2a" stroke-width="1.4" />
<line x1="854" y1="497.3" x2="854" y2="466.6" stroke="#2a2a2a" stroke-width="1.4" />
<line x1="902.8" y1="497.3" x2="902.8" y2="383.2" stroke="#2a2a2a" stroke-width="1.4" />
<line x1="918.8" y1="497.3" x2="918.8" y2="476.8" stroke="#2a2a2a" stroke-width="1.4" />
<line x1="945.8" y1="497.3" x2="945.8" y2="492.6" stroke="#2a2a2a" stroke-width="1.4" />
<line x1="963.3" y1="497.3" x2="963.3" y2="472.6" stroke="#2a2a2a" stroke-width="1.4" />
<line x1="977.2" y1="497.3" x2="977.2" y2="447.5" stroke="#2a2a2a" stroke-width="1.4" />
<line x1="1037.2" y1="497.3" x2="1037.2" y2="445.2" stroke="#2a2a2a" stroke-width="1.4" />
<line x1="1070" y1="497.3" x2="1070" y2="485.2" stroke="#2a2a2a" stroke-width="1.4" />
<line x1="1074.6" y1="497.3" x2="1074.6" y2="476.8" stroke="#2a2a2a" stroke-width="1.4" />
<line x1="1098.1" y1="497.3" x2="1098.1" y2="354.8" stroke="#2a2a2a" stroke-width="1.4" />
<line x1="1326" y1="497.3" x2="1326" y2="484.3" stroke="#2a2a2a" stroke-width="1.4" />
<path d="M792.8,444.2 L793.9,438.5 L795.0,432.6 L796.2,426.5 L797.3,420.2 L798.4,413.7 L799.5,407.2 L800.7,400.5 L801.8,393.7 L802.9,386.9 L804.0,380.0 L805.1,373.1 L806.3,366.2 L807.4,359.3 L808.5,352.5 L809.6,345.8 L810.8,339.1 L811.9,332.5 L813.0,326.1 L814.1,319.8 L815.3,313.8 L816.4,307.9 L817.5,302.2 L818.6,296.8 L819.8,291.6 L820.9,286.8 L822.0,282.2 L823.1,277.9 L824.3,273.9 L825.4,270.3 L826.5,267.1 L827.6,264.2 L828.7,261.7 L829.9,259.7 L831.0,258.0 L832.1,256.8 L833.2,256.0 L834.4,255.8 L835.5,255.9 L836.6,256.5 L837.7,257.5 L838.9,259.0 L840.0,260.8 L841.1,263.1 L842.2,265.7 L843.4,268.7 L844.5,272.0 L845.6,275.6 L846.7,279.4 L847.9,283.5 L849.0,287.8 L850.1,292.3 L851.2,296.9 L852.3,301.6 L853.5,306.4 L854.6,311.3 L855.7,316.2 L856.8,321.0 L858.0,325.9 L859.1,330.7 L860.2,335.3 L861.3,339.9 L862.5,344.3 L863.6,348.5 L864.7,352.5 L865.8,356.2 L867.0,359.7 L868.1,362.8 L869.2,365.7 L870.3,368.3 L871.5,370.7 L872.6,372.8 L873.7,374.7 L874.8,376.4 L875.9,377.8 L877.1,379.1 L878.2,380.1 L879.3,381.0 L880.4,381.7 L881.6,382.3 L882.7,382.7 L883.8,383.0 L884.9,383.1 L886.1,383.2 L887.2,383.2 L888.3,383.0 L889.4,382.9 L890.6,382.6 L891.7,382.3 L892.8,382.0 L893.9,381.7 L895.1,381.3 L896.2,381.0 L897.3,380.7 L898.4,380.4 L899.6,380.2 L900.7,380.0 L901.8,380.0 L902.9,380.0 L904.0,380.1 L905.2,380.3 L906.3,380.6 L907.4,381.0 L908.5,381.5 L909.7,382.0 L910.8,382.6 L911.9,383.3 L913.0,384.0 L914.2,384.8 L915.3,385.5 L916.4,386.3 L917.5,387.1 L918.7,388.0 L919.8,388.8 L920.9,389.7 L922.0,390.6 L923.2,391.5 L924.3,392.4 L925.4,393.3 L926.5,394.2 L927.6,395.1 L928.8,396.0 L929.9,396.9 L931.0,397.8 L932.1,398.6 L933.3,399.5 L934.4,400.4 L935.5,401.2 L936.6,402.0 L937.8,402.8 L938.9,403.5 L940.0,404.3 L941.1,405.0 L942.3,405.7 L943.4,406.3 L944.5,407.0 L945.6,407.6 L946.8,408.1 L947.9,408.7 L949.0,409.2 L950.1,409.7 L951.2,410.2 L952.4,410.6 L953.5,411.1 L954.6,411.5 L955.7,411.8 L956.9,412.2 L958.0,412.5 L959.1,412.8 L960.2,413.1 L961.4,413.3 L962.5,413.5 L963.6,413.7 L964.7,413.9 L965.9,414.0 L967.0,414.1 L968.1,414.2 L969.2,414.3 L970.4,414.3 L971.5,414.3 L972.6,414.3 L973.7,414.3 L974.9,414.2 L976.0,414.1 L977.1,414.0 L978.2,413.8 L979.3,413.7 L980.5,413.5 L981.6,413.3 L982.7,413.0 L983.8,412.7 L985.0,412.4 L986.1,412.1 L987.2,411.8 L988.3,411.4 L989.5,411.0 L990.6,410.6 L991.7,410.1 L992.8,409.6 L994.0,409.1 L995.1,408.6 L996.2,408.1 L997.3,407.5 L998.5,406.9 L999.6,406.3 L1000.7,405.6 L1001.8,404.9 L1002.9,404.2 L1004.1,403.5 L1005.2,402.7 L1006.3,401.9 L1007.4,401.1 L1008.6,400.3 L1009.7,399.4 L1010.8,398.6 L1011.9,397.7 L1013.1,396.7 L1014.2,395.8 L1015.3,394.8 L1016.4,393.8 L1017.6,392.7 L1018.7,391.7 L1019.8,390.6 L1020.9,389.5 L1022.1,388.4 L1023.2,387.2 L1024.3,386.0 L1025.4,384.9 L1026.5,383.7 L1027.7,382.4 L1028.8,381.2 L1029.9,380.0 L1031.0,378.7 L1032.2,377.5 L1033.3,376.2 L1034.4,375.0 L1035.5,373.7 L1036.7,372.4 L1037.8,371.2 L1038.9,369.9 L1040.0,368.7 L1041.2,367.4 L1042.3,366.2 L1043.4,364.9 L1044.5,363.7 L1045.7,362.5 L1046.8,361.3 L1047.9,360.1 L1049.0,358.9 L1050.2,357.8 L1051.3,356.7 L1052.4,355.5 L1053.5,354.5 L1054.6,353.4 L1055.8,352.4 L1056.9,351.3 L1058.0,350.4 L1059.1,349.4 L1060.3,348.5 L1061.4,347.6 L1062.5,346.8 L1063.6,346.0 L1064.8,345.2 L1065.9,344.5 L1067.0,343.8 L1068.1,343.1 L1069.3,342.5 L1070.4,342.0 L1071.5,341.5 L1072.6,341.0 L1073.8,340.6 L1074.9,340.2 L1076.0,339.9 L1077.1,339.6 L1078.2,339.4 L1079.4,339.2 L1080.5,339.1 L1081.6,339.0 L1082.7,339.0 L1083.9,339.0 L1085.0,339.0 L1086.1,339.2 L1087.2,339.3 L1088.4,339.5 L1089.5,339.8 L1090.6,340.1 L1091.7,340.5 L1092.9,340.9 L1094.0,341.4 L1095.1,341.9 L1096.2,342.5 L1097.4,343.1 L1098.5,343.8 L1099.6,344.5 L1100.7,345.3 L1101.8,346.1 L1103.0,347.0 L1104.1,347.9 L1105.2,348.9 L1106.3,349.9 L1107.5,351.0 L1108.6,352.0 L1109.7,353.2 L1110.8,354.3 L1112.0,355.5 L1113.1,356.8 L1114.2,358.0 L1115.3,359.3 L1116.5,360.6 L1117.6,362.0 L1118.7,363.4 L1119.8,364.8 L1121.0,366.2 L1122.1,367.6 L1123.2,369.1 L1124.3,370.6 L1125.4,372.1 L1126.6,373.6 L1127.7,375.2 L1128.8,376.7 L1129.9,378.3 L1131.1,379.9 L1132.2,381.5 L1133.3,383.1 L1134.4,384.7 L1135.6,386.3 L1136.7,387.9 L1137.8,389.5 L1138.9,391.2 L1140.1,392.8 L1141.2,394.4 L1142.3,396.1 L1143.4,397.7 L1144.6,399.3 L1145.7,400.9 L1146.8,402.5 L1147.9,404.1 L1149.1,405.7 L1150.2,407.3 L1151.3,408.9 L1152.4,410.5 L1153.5,412.1 L1154.7,413.6 L1155.8,415.2 L1156.9,416.7 L1158.0,418.2 L1159.2,419.7 L1160.3,421.2 L1161.4,422.7 L1162.5,424.1 L1163.7,425.6 L1164.8,427.0 L1165.9,428.4 L1167.0,429.7 L1168.2,431.1 L1169.3,432.4 L1170.4,433.7 L1171.5,435.0 L1172.7,436.3 L1173.8,437.5 L1174.9,438.8 L1176.0,440.0 L1177.1,441.2 L1178.3,442.3 L1179.4,443.5 L1180.5,444.6 L1181.6,445.7 L1182.8,446.8 L1183.9,447.9 L1185.0,448.9 L1186.1,450.0 L1187.3,451.0 L1188.4,452.0 L1189.5,453.0 L1190.6,453.9 L1191.8,454.9 L1192.9,455.8 L1194.0,456.7 L1195.1,457.6 L1196.3,458.5 L1197.4,459.3 L1198.5,460.2 L1199.6,461.0 L1200.7,461.8 L1201.9,462.6 L1203.0,463.4 L1204.1,464.1 L1205.2,464.9 L1206.4,465.6 L1207.5,466.3 L1208.6,467.0 L1209.7,467.7 L1210.9,468.4 L1212.0,469.0 L1213.1,469.7 L1214.2,470.3 L1215.4,470.9 L1216.5,471.5 L1217.6,472.1 L1218.7,472.6 L1219.9,473.2 L1221.0,473.7 L1222.1,474.3 L1223.2,474.8 L1224.4,475.3 L1225.5,475.8 L1226.6,476.2 L1227.7,476.7 L1228.8,477.2 L1230.0,477.6 L1231.1,478.0 L1232.2,478.4 L1233.3,478.8 L1234.5,479.2 L1235.6,479.6 L1236.7,480.0 L1237.8,480.3 L1239.0,480.7 L1240.1,481.0 L1241.2,481.3 L1242.3,481.6 L1243.5,481.9 L1244.6,482.2 L1245.7,482.5 L1246.8,482.8 L1248.0,483.1 L1249.1,483.3 L1250.2,483.6 L1251.3,483.8 L1252.4,484.0 L1253.6,484.2 L1254.7,484.5 L1255.8,484.7 L1256.9,484.9 L1258.1,485.0 L1259.2,485.2 L1260.3,485.4 L1261.4,485.5 L1262.6,485.7 L1263.7,485.8 L1264.8,486.0 L1265.9,486.1 L1267.1,486.2 L1268.2,486.4 L1269.3,486.5 L1270.4,486.6 L1271.6,486.7 L1272.7,486.8 L1273.8,486.9 L1274.9,486.9 L1276.0,487.0 L1277.2,487.1 L1278.3,487.2 L1279.4,487.2 L1280.5,487.3 L1281.7,487.3 L1282.8,487.4 L1283.9,487.4 L1285.0,487.4 L1286.2,487.5 L1287.3,487.5 L1288.4,487.5 L1289.5,487.6 L1290.7,487.6 L1291.8,487.6 L1292.9,487.6 L1294.0,487.6 L1295.2,487.6 L1296.3,487.6 L1297.4,487.6 L1298.5,487.6 L1299.6,487.6 L1300.8,487.6 L1301.9,487.6 L1303.0,487.6 L1304.1,487.6 L1305.3,487.6 L1306.4,487.6 L1307.5,487.5 L1308.6,487.5 L1309.8,487.5 L1310.9,487.5 L1312.0,487.5 L1313.1,487.5 L1314.3,487.4 L1315.4,487.4 L1316.5,487.4 L1317.6,487.4 L1318.8,487.4 L1319.9,487.4 L1321.0,487.4 L1322.1,487.3 L1323.3,487.3 L1324.4,487.3 L1325.5,487.3 L1326.6,487.3 L1327.7,487.3 L1328.9,487.3 L1330.0,487.3 L1331.1,487.3 L1332.2,487.3 L1333.4,487.3 L1334.5,487.3 L1335.6,487.3 L1336.7,487.4 L1337.9,487.4 L1339.0,487.4 L1340.1,487.4 L1341.2,487.5 L1342.4,487.5 L1343.5,487.5 L1344.6,487.6 L1345.7,487.6 L1346.9,487.7 L1348.0,487.7 L1349.1,487.8 L1350.2,487.9 L1351.3,487.9 L1352.5,488.0 L1353.6,488.1" fill="none" stroke="#ff1a1a" stroke-width="3.4" stroke-linejoin="round" stroke-linecap="round" />
<rect x="793.1" y="35.6" width="562" height="461.7" fill="none" stroke="#000" stroke-width="2.2"/>
<line x1="837.6" y1="497.3" x2="837.6" y2="505.7" stroke="#000" stroke-width="2" />
<line x1="911.5" y1="497.3" x2="911.5" y2="505.7" stroke="#000" stroke-width="2" />
<line x1="985.5" y1="497.3" x2="985.5" y2="505.7" stroke="#000" stroke-width="2" />
<line x1="1059.4" y1="497.3" x2="1059.4" y2="505.7" stroke="#000" stroke-width="2" />
<line x1="1133.3" y1="497.3" x2="1133.3" y2="505.7" stroke="#000" stroke-width="2" />
<line x1="1207.2" y1="497.3" x2="1207.2" y2="505.7" stroke="#000" stroke-width="2" />
<line x1="1281.2" y1="497.3" x2="1281.2" y2="505.7" stroke="#000" stroke-width="2" />
<line x1="1355.1" y1="497.3" x2="1355.1" y2="505.7" stroke="#000" stroke-width="2" />
<line x1="800.6" y1="497.3" x2="800.6" y2="501.7" stroke="#000" stroke-width="2" />
<line x1="874.6" y1="497.3" x2="874.6" y2="501.7" stroke="#000" stroke-width="2" />
<line x1="948.5" y1="497.3" x2="948.5" y2="501.7" stroke="#000" stroke-width="2" />
<line x1="1022.4" y1="497.3" x2="1022.4" y2="501.7" stroke="#000" stroke-width="2" />
<line x1="1096.4" y1="497.3" x2="1096.4" y2="501.7" stroke="#000" stroke-width="2" />
<line x1="1170.3" y1="497.3" x2="1170.3" y2="501.7" stroke="#000" stroke-width="2" />
<line x1="1244.2" y1="497.3" x2="1244.2" y2="501.7" stroke="#000" stroke-width="2" />
<line x1="1318.1" y1="497.3" x2="1318.1" y2="501.7" stroke="#000" stroke-width="2" />
<text x="837.6" y="531" font-size="23" text-anchor="middle" font-weight="bold" fill="#000" >300</text>
<text x="911.5" y="531" font-size="23" text-anchor="middle" font-weight="bold" fill="#000" >350</text>
<text x="985.5" y="531" font-size="23" text-anchor="middle" font-weight="bold" fill="#000" >400</text>
<text x="1059.4" y="531" font-size="23" text-anchor="middle" font-weight="bold" fill="#000" >450</text>
<text x="1133.3" y="531" font-size="23" text-anchor="middle" font-weight="bold" fill="#000" >500</text>
<text x="1207.2" y="531" font-size="23" text-anchor="middle" font-weight="bold" fill="#000" >550</text>
<text x="1281.2" y="531" font-size="23" text-anchor="middle" font-weight="bold" fill="#000" >600</text>
<text x="1355.1" y="531" font-size="23" text-anchor="middle" font-weight="bold" fill="#000" >650</text>
<line x1="784.7" y1="497.3" x2="793.1" y2="497.3" stroke="#000" stroke-width="2" />
<line x1="784.7" y1="450.7" x2="793.1" y2="450.7" stroke="#000" stroke-width="2" />
<line x1="784.7" y1="404.2" x2="793.1" y2="404.2" stroke="#000" stroke-width="2" />
<line x1="784.7" y1="357.6" x2="793.1" y2="357.6" stroke="#000" stroke-width="2" />
<line x1="784.7" y1="311.1" x2="793.1" y2="311.1" stroke="#000" stroke-width="2" />
<line x1="784.7" y1="264.5" x2="793.1" y2="264.5" stroke="#000" stroke-width="2" />
<line x1="784.7" y1="217.9" x2="793.1" y2="217.9" stroke="#000" stroke-width="2" />
<line x1="784.7" y1="171.4" x2="793.1" y2="171.4" stroke="#000" stroke-width="2" />
<line x1="784.7" y1="124.8" x2="793.1" y2="124.8" stroke="#000" stroke-width="2" />
<line x1="784.7" y1="78.3" x2="793.1" y2="78.3" stroke="#000" stroke-width="2" />
<line x1="788.7" y1="474" x2="793.1" y2="474" stroke="#000" stroke-width="2" />
<line x1="788.7" y1="427.5" x2="793.1" y2="427.5" stroke="#000" stroke-width="2" />
<line x1="788.7" y1="380.9" x2="793.1" y2="380.9" stroke="#000" stroke-width="2" />
<line x1="788.7" y1="334.3" x2="793.1" y2="334.3" stroke="#000" stroke-width="2" />
<line x1="788.7" y1="287.8" x2="793.1" y2="287.8" stroke="#000" stroke-width="2" />
<line x1="788.7" y1="241.2" x2="793.1" y2="241.2" stroke="#000" stroke-width="2" />
<line x1="788.7" y1="194.7" x2="793.1" y2="194.7" stroke="#000" stroke-width="2" />
<line x1="788.7" y1="148.1" x2="793.1" y2="148.1" stroke="#000" stroke-width="2" />
<line x1="788.7" y1="101.5" x2="793.1" y2="101.5" stroke="#000" stroke-width="2" />
<line x1="788.7" y1="55" x2="793.1" y2="55" stroke="#000" stroke-width="2" />
<text x="777.3" y="503.7" font-size="23" text-anchor="end" font-weight="bold" fill="#000" >0</text>
<text x="777.3" y="457.1" font-size="23" text-anchor="end" font-weight="bold" fill="#000" >1</text>
<text x="777.3" y="410.6" font-size="23" text-anchor="end" font-weight="bold" fill="#000" >2</text>
<text x="777.3" y="364" font-size="23" text-anchor="end" font-weight="bold" fill="#000" >3</text>
<text x="777.3" y="317.5" font-size="23" text-anchor="end" font-weight="bold" fill="#000" >4</text>
<text x="777.3" y="270.9" font-size="23" text-anchor="end" font-weight="bold" fill="#000" >5</text>
<text x="777.3" y="224.3" font-size="23" text-anchor="end" font-weight="bold" fill="#000" >6</text>
<text x="777.3" y="177.8" font-size="23" text-anchor="end" font-weight="bold" fill="#000" >7</text>
<text x="777.3" y="131.2" font-size="23" text-anchor="end" font-weight="bold" fill="#000" >8</text>
<text x="777.3" y="84.7" font-size="23" text-anchor="end" font-weight="bold" fill="#000" >9</text>
<text x="704.9" y="60" font-size="38" text-anchor="start" font-weight="bold" fill="#000" >(b)</text>
<text x="1074" y="562" font-size="29.5" text-anchor="middle" font-weight="bold" fill="#000" >Wavelength (nm)</text>
<text transform="translate(760.5,264) rotate(-90)" font-size="28.5" font-weight="bold" text-anchor="middle">ε (10<tspan dy="-11" font-size="19">4</tspan><tspan dy="11"> L mol</tspan><tspan dy="-11" font-size="19">-1</tspan><tspan dy="11"> cm</tspan><tspan dy="-11" font-size="19">-1</tspan><tspan dy="11">)</tspan></text>
<text x="0" y="0" transform="translate(1364.6,266) rotate(90)" font-size="27.5" text-anchor="middle" font-weight="bold" fill="#000">Oscillator strength</text>
<text x="1096" y="75.5" font-size="28.3" text-anchor="middle" font-weight="bold" fill="#000" >Charge-transfer exciton (CTE)</text>
<text x="1096" y="110" font-size="28.3" font-weight="bold" text-anchor="middle">S<tspan dy="7" font-size="19">0</tspan><tspan dy="-7"> – S</tspan><tspan dy="7" font-size="19">2</tspan><tspan dy="-7">&#160; 475 nm (f = 0.402)</tspan></text>
<text x="1096" y="144" font-size="28.3" text-anchor="middle" font-weight="bold" fill="#000" >Δσ index = 5.80 Å</text>
<line x1="1104.3" y1="375" x2="1116" y2="310" stroke="#ff1a1a" stroke-width="3.6"/>
<polygon points="1123.3,282.9 1107.9,311.8 1126,314.5" fill="#ff1a1a"/>
<path d="M1452.8,493.5 L1454.2,493.3 L1455.6,493.1 L1457.0,492.9 L1458.4,492.6 L1459.8,492.3 L1461.2,492.0 L1462.6,491.6 L1464.0,491.2 L1465.4,490.8 L1466.8,490.3 L1468.2,489.8 L1469.6,489.3 L1471.1,488.7 L1472.5,488.1 L1473.9,487.5 L1475.3,486.8 L1476.7,486.1 L1478.1,485.3 L1479.5,484.5 L1480.9,483.7 L1482.3,482.8 L1483.7,481.8 L1485.1,480.8 L1486.5,479.8 L1487.9,478.7 L1489.3,477.6 L1490.7,476.4 L1492.1,475.2 L1493.5,473.9 L1494.9,472.6 L1496.4,471.2 L1497.8,469.8 L1499.2,468.3 L1500.6,466.7 L1502.0,465.1 L1503.4,463.4 L1504.8,461.7 L1506.2,459.9 L1507.6,458.1 L1509.0,456.2 L1510.4,454.2 L1511.8,452.2 L1513.2,450.1 L1514.6,447.9 L1516.0,445.7 L1517.4,443.4 L1518.8,441.0 L1520.2,438.6 L1521.7,436.1 L1523.1,433.5 L1524.5,430.9 L1525.9,428.2 L1527.3,425.4 L1528.7,422.5 L1530.1,419.6 L1531.5,416.6 L1532.9,413.5 L1534.3,410.3 L1535.7,407.0 L1537.1,403.7 L1538.5,400.3 L1539.9,396.9 L1541.3,393.3 L1542.7,389.7 L1544.1,386.1 L1545.5,382.4 L1547.0,378.6 L1548.4,374.8 L1549.8,370.9 L1551.2,367.0 L1552.6,363.0 L1554.0,359.0 L1555.4,354.9 L1556.8,350.8 L1558.2,346.7 L1559.6,342.5 L1561.0,338.3 L1562.4,334.1 L1563.8,329.8 L1565.2,325.5 L1566.6,321.2 L1568.0,316.9 L1569.4,312.6 L1570.8,308.2 L1572.3,303.8 L1573.7,299.5 L1575.1,295.1 L1576.5,290.7 L1577.9,286.3 L1579.3,281.9 L1580.7,277.5 L1582.1,273.1 L1583.5,268.8 L1584.9,264.4 L1586.3,260.1 L1587.7,255.7 L1589.1,251.4 L1590.5,247.1 L1591.9,242.8 L1593.3,238.6 L1594.7,234.4 L1596.1,230.2 L1597.6,226.0 L1599.0,221.9 L1600.4,217.8 L1601.8,213.8 L1603.2,209.8 L1604.6,205.9 L1606.0,202.0 L1607.4,198.1 L1608.8,194.3 L1610.2,190.5 L1611.6,186.8 L1613.0,183.2 L1614.4,179.6 L1615.8,176.1 L1617.2,172.6 L1618.6,169.2 L1620.0,165.9 L1621.4,162.6 L1622.9,159.4 L1624.3,156.3 L1625.7,153.3 L1627.1,150.3 L1628.5,147.4 L1629.9,144.6 L1631.3,141.8 L1632.7,139.2 L1634.1,136.6 L1635.5,134.1 L1636.9,131.7 L1638.3,129.4 L1639.7,127.2 L1641.1,125.1 L1642.5,123.1 L1643.9,121.1 L1645.3,119.3 L1646.7,117.6 L1648.2,116.0 L1649.6,114.5 L1651.0,113.1 L1652.4,111.8 L1653.8,110.6 L1655.2,109.6 L1656.6,108.6 L1658.0,107.8 L1659.4,107.1 L1660.8,106.5 L1662.2,106.0 L1663.6,105.7 L1665.0,105.5 L1666.4,105.4 L1667.8,105.4 L1669.2,105.6 L1670.6,105.9 L1672.0,106.3 L1673.5,106.8 L1674.9,107.4 L1676.3,108.1 L1677.7,109.0 L1679.1,109.9 L1680.5,111.0 L1681.9,112.1 L1683.3,113.4 L1684.7,114.7 L1686.1,116.2 L1687.5,117.7 L1688.9,119.4 L1690.3,121.1 L1691.7,122.9 L1693.1,124.7 L1694.5,126.7 L1695.9,128.7 L1697.3,130.8 L1698.8,133.0 L1700.2,135.3 L1701.6,137.6 L1703.0,140.0 L1704.4,142.4 L1705.8,145.0 L1707.2,147.5 L1708.6,150.1 L1710.0,152.8 L1711.4,155.5 L1712.8,158.3 L1714.2,161.1 L1715.6,164.0 L1717.0,166.9 L1718.4,169.9 L1719.8,172.9 L1721.2,175.9 L1722.6,178.9 L1724.1,182.0 L1725.5,185.1 L1726.9,188.3 L1728.3,191.4 L1729.7,194.6 L1731.1,197.8 L1732.5,201.0 L1733.9,204.2 L1735.3,207.5 L1736.7,210.7 L1738.1,214.0 L1739.5,217.3 L1740.9,220.6 L1742.3,223.9 L1743.7,227.2 L1745.1,230.6 L1746.5,233.9 L1747.9,237.2 L1749.4,240.6 L1750.8,243.9 L1752.2,247.3 L1753.6,250.7 L1755.0,254.0 L1756.4,257.4 L1757.8,260.7 L1759.2,264.1 L1760.6,267.5 L1762.0,270.8 L1763.4,274.2 L1764.8,277.5 L1766.2,280.8 L1767.6,284.2 L1769.0,287.5 L1770.4,290.8 L1771.8,294.1 L1773.2,297.4 L1774.7,300.6 L1776.1,303.9 L1777.5,307.1 L1778.9,310.3 L1780.3,313.6 L1781.7,316.7 L1783.1,319.9 L1784.5,323.1 L1785.9,326.2 L1787.3,329.3 L1788.7,332.4 L1790.1,335.4 L1791.5,338.5 L1792.9,341.5 L1794.3,344.4 L1795.7,347.4 L1797.1,350.3 L1798.5,353.2 L1800.0,356.1 L1801.4,358.9 L1802.8,361.7 L1804.2,364.5 L1805.6,367.2 L1807.0,369.9 L1808.4,372.6 L1809.8,375.2 L1811.2,377.8 L1812.6,380.4 L1814.0,383.0 L1815.4,385.5 L1816.8,388.0 L1818.2,390.5 L1819.6,392.9 L1821.0,395.3 L1822.4,397.7 L1823.8,400.0 L1825.3,402.3 L1826.7,404.6 L1828.1,406.9 L1829.5,409.1 L1830.9,411.3 L1832.3,413.4 L1833.7,415.5 L1835.1,417.6 L1836.5,419.7 L1837.9,421.7 L1839.3,423.7 L1840.7,425.6 L1842.1,427.6 L1843.5,429.5 L1844.9,431.3 L1846.3,433.1 L1847.7,434.9 L1849.1,436.7 L1850.6,438.4 L1852.0,440.1 L1853.4,441.8 L1854.8,443.4 L1856.2,445.0 L1857.6,446.6 L1859.0,448.1 L1860.4,449.6 L1861.8,451.1 L1863.2,452.5 L1864.6,453.9 L1866.0,455.2 L1867.4,456.6 L1868.8,457.9 L1870.2,459.1 L1871.6,460.4 L1873.0,461.6 L1874.4,462.7 L1875.9,463.9 L1877.3,465.0 L1878.7,466.1 L1880.1,467.1 L1881.5,468.2 L1882.9,469.1 L1884.3,470.1 L1885.7,471.1 L1887.1,472.0 L1888.5,472.9 L1889.9,473.7 L1891.3,474.6 L1892.7,475.4 L1894.1,476.2 L1895.5,476.9 L1896.9,477.7 L1898.3,478.4 L1899.7,479.1 L1901.2,479.8 L1902.6,480.4 L1904.0,481.0 L1905.4,481.6 L1906.8,482.2 L1908.2,482.8 L1909.6,483.3 L1911.0,483.9 L1912.4,484.4 L1913.8,484.9 L1915.2,485.3 L1916.6,485.8 L1918.0,486.2 L1919.4,486.6 L1920.8,487.0 L1922.2,487.4 L1923.6,487.8 L1925.0,488.1 L1926.5,488.5 L1927.9,488.8 L1929.3,489.1 L1930.7,489.4 L1932.1,489.7 L1933.5,490.0 L1934.9,490.2 L1936.3,490.5 L1937.7,490.7 L1939.1,490.9 L1940.5,491.1 L1941.9,491.3 L1943.3,491.5 L1944.7,491.7 L1946.1,491.9 L1947.5,492.0 L1948.9,492.2 L1950.3,492.3 L1951.8,492.5 L1953.2,492.6 L1954.6,492.7 L1956.0,492.9 L1957.4,493.0 L1958.8,493.1 L1960.2,493.2 L1961.6,493.3 L1963.0,493.4 L1964.4,493.5 L1965.8,493.6 L1967.2,493.7 L1968.6,493.7 L1970.0,493.8 L1971.4,493.9 L1972.8,494.0 L1974.2,494.1 L1975.6,494.1 L1977.1,494.2 L1978.5,494.3 L1979.9,494.4 L1981.3,494.5 L1982.7,494.6 L1984.1,494.6 L1985.5,494.7 L1986.9,494.8 L1988.3,494.9 L1989.7,495.0 L1991.1,495.1 L1992.5,495.2 L1993.9,495.3 L1995.3,495.5 L1996.7,495.6 L1998.1,495.7 L1999.5,495.9 L2000.9,496.0 L2002.4,496.2 L2003.8,496.3 L2005.2,496.5 L2006.6,496.7 L2008.0,496.9 L2009.4,497.1 L2010.8,497.3 L2012.2,497.5 L2013.6,497.7" fill="none" stroke="#2ca02c" stroke-width="3.2" stroke-linejoin="round" stroke-linecap="round" />
<path d="M1494.5,498.6 L1495.8,498.2 L1497.1,497.9 L1498.4,497.6 L1499.7,497.3 L1501.0,497.0 L1502.3,496.7 L1503.6,496.4 L1504.9,496.1 L1506.2,495.9 L1507.5,495.6 L1508.8,495.3 L1510.1,495.1 L1511.4,494.8 L1512.7,494.6 L1514.0,494.3 L1515.3,494.1 L1516.6,493.8 L1517.9,493.6 L1519.2,493.4 L1520.5,493.1 L1521.9,492.9 L1523.2,492.7 L1524.5,492.5 L1525.8,492.2 L1527.1,492.0 L1528.4,491.8 L1529.7,491.6 L1531.0,491.4 L1532.3,491.2 L1533.6,491.0 L1534.9,490.8 L1536.2,490.6 L1537.5,490.5 L1538.8,490.3 L1540.1,490.1 L1541.4,489.9 L1542.7,489.7 L1544.0,489.6 L1545.3,489.4 L1546.6,489.2 L1547.9,489.0 L1549.2,488.9 L1550.5,488.7 L1551.8,488.5 L1553.1,488.4 L1554.4,488.2 L1555.7,488.0 L1557.0,487.9 L1558.3,487.7 L1559.6,487.5 L1560.9,487.4 L1562.2,487.2 L1563.5,487.0 L1564.8,486.9 L1566.1,486.7 L1567.4,486.5 L1568.7,486.4 L1570.0,486.2 L1571.3,486.0 L1572.6,485.9 L1573.9,485.7 L1575.2,485.5 L1576.5,485.4 L1577.8,485.2 L1579.1,485.0 L1580.4,484.9 L1581.7,484.7 L1583.0,484.5 L1584.3,484.3 L1585.6,484.2 L1586.9,484.0 L1588.2,483.8 L1589.5,483.6 L1590.8,483.4 L1592.1,483.2 L1593.4,483.0 L1594.7,482.8 L1596.0,482.6 L1597.3,482.4 L1598.6,482.1 L1599.9,481.9 L1601.2,481.7 L1602.5,481.4 L1603.8,481.2 L1605.1,480.9 L1606.4,480.6 L1607.7,480.4 L1609.0,480.1 L1610.3,479.8 L1611.6,479.5 L1612.9,479.2 L1614.2,478.9 L1615.5,478.5 L1616.8,478.2 L1618.1,477.8 L1619.4,477.5 L1620.7,477.1 L1622.0,476.7 L1623.3,476.3 L1624.6,475.9 L1625.9,475.5 L1627.2,475.0 L1628.5,474.6 L1629.8,474.1 L1631.1,473.6 L1632.4,473.1 L1633.7,472.6 L1635.0,472.1 L1636.3,471.6 L1637.6,471.0 L1638.9,470.4 L1640.2,469.8 L1641.5,469.2 L1642.8,468.6 L1644.1,468.0 L1645.4,467.3 L1646.7,466.6 L1648.0,465.9 L1649.3,465.2 L1650.6,464.5 L1651.9,463.7 L1653.2,463.0 L1654.5,462.2 L1655.8,461.4 L1657.1,460.6 L1658.4,459.8 L1659.7,458.9 L1661.0,458.1 L1662.3,457.2 L1663.6,456.3 L1665.0,455.5 L1666.3,454.6 L1667.6,453.7 L1668.9,452.7 L1670.2,451.8 L1671.5,450.9 L1672.8,449.9 L1674.1,449.0 L1675.4,448.0 L1676.7,447.0 L1678.0,446.0 L1679.3,445.1 L1680.6,444.1 L1681.9,443.1 L1683.2,442.1 L1684.5,441.1 L1685.8,440.0 L1687.1,439.0 L1688.4,438.0 L1689.7,437.0 L1691.0,435.9 L1692.3,434.9 L1693.6,433.9 L1694.9,432.8 L1696.2,431.8 L1697.5,430.8 L1698.8,429.7 L1700.1,428.7 L1701.4,427.6 L1702.7,426.6 L1704.0,425.6 L1705.3,424.5 L1706.6,423.5 L1707.9,422.5 L1709.2,421.4 L1710.5,420.4 L1711.8,419.4 L1713.1,418.4 L1714.4,417.4 L1715.7,416.4 L1717.0,415.4 L1718.3,414.4 L1719.6,413.4 L1720.9,412.4 L1722.2,411.5 L1723.5,410.5 L1724.8,409.5 L1726.1,408.6 L1727.4,407.7 L1728.7,406.7 L1730.0,405.8 L1731.3,404.9 L1732.6,404.0 L1733.9,403.1 L1735.2,402.3 L1736.5,401.4 L1737.8,400.6 L1739.1,399.7 L1740.4,398.9 L1741.7,398.1 L1743.0,397.3 L1744.3,396.6 L1745.6,395.8 L1746.9,395.1 L1748.2,394.3 L1749.5,393.6 L1750.8,392.9 L1752.1,392.3 L1753.4,391.6 L1754.7,391.0 L1756.0,390.4 L1757.3,389.8 L1758.6,389.2 L1759.9,388.6 L1761.2,388.1 L1762.5,387.6 L1763.8,387.1 L1765.1,386.6 L1766.4,386.2 L1767.7,385.7 L1769.0,385.3 L1770.3,385.0 L1771.6,384.6 L1772.9,384.3 L1774.2,384.0 L1775.5,383.7 L1776.8,383.4 L1778.1,383.2 L1779.4,383.0 L1780.7,382.8 L1782.0,382.7 L1783.3,382.6 L1784.6,382.5 L1785.9,382.4 L1787.2,382.4 L1788.5,382.4 L1789.8,382.4 L1791.1,382.4 L1792.4,382.4 L1793.7,382.5 L1795.0,382.6 L1796.3,382.8 L1797.6,382.9 L1798.9,383.1 L1800.2,383.3 L1801.5,383.5 L1802.8,383.7 L1804.1,384.0 L1805.4,384.2 L1806.8,384.5 L1808.1,384.8 L1809.4,385.2 L1810.7,385.5 L1812.0,385.9 L1813.3,386.3 L1814.6,386.7 L1815.9,387.1 L1817.2,387.6 L1818.5,388.0 L1819.8,388.5 L1821.1,389.0 L1822.4,389.5 L1823.7,390.0 L1825.0,390.6 L1826.3,391.1 L1827.6,391.7 L1828.9,392.3 L1830.2,392.9 L1831.5,393.5 L1832.8,394.1 L1834.1,394.7 L1835.4,395.4 L1836.7,396.0 L1838.0,396.7 L1839.3,397.4 L1840.6,398.1 L1841.9,398.8 L1843.2,399.5 L1844.5,400.2 L1845.8,401.0 L1847.1,401.7 L1848.4,402.5 L1849.7,403.2 L1851.0,404.0 L1852.3,404.8 L1853.6,405.6 L1854.9,406.4 L1856.2,407.2 L1857.5,408.0 L1858.8,408.8 L1860.1,409.6 L1861.4,410.5 L1862.7,411.3 L1864.0,412.1 L1865.3,413.0 L1866.6,413.8 L1867.9,414.7 L1869.2,415.5 L1870.5,416.4 L1871.8,417.2 L1873.1,418.1 L1874.4,419.0 L1875.7,419.8 L1877.0,420.7 L1878.3,421.6 L1879.6,422.5 L1880.9,423.3 L1882.2,424.2 L1883.5,425.1 L1884.8,425.9 L1886.1,426.8 L1887.4,427.7 L1888.7,428.6 L1890.0,429.4 L1891.3,430.3 L1892.6,431.1 L1893.9,432.0 L1895.2,432.9 L1896.5,433.7 L1897.8,434.6 L1899.1,435.4 L1900.4,436.3 L1901.7,437.1 L1903.0,437.9 L1904.3,438.7 L1905.6,439.6 L1906.9,440.4 L1908.2,441.2 L1909.5,442.0 L1910.8,442.8 L1912.1,443.6 L1913.4,444.4 L1914.7,445.2 L1916.0,445.9 L1917.3,446.7 L1918.6,447.5 L1919.9,448.3 L1921.2,449.0 L1922.5,449.8 L1923.8,450.5 L1925.1,451.3 L1926.4,452.0 L1927.7,452.7 L1929.0,453.5 L1930.3,454.2 L1931.6,454.9 L1932.9,455.6 L1934.2,456.3 L1935.5,457.0 L1936.8,457.7 L1938.1,458.4 L1939.4,459.1 L1940.7,459.8 L1942.0,460.5 L1943.3,461.1 L1944.6,461.8 L1945.9,462.4 L1947.2,463.1 L1948.6,463.7 L1949.9,464.4 L1951.2,465.0 L1952.5,465.7 L1953.8,466.3 L1955.1,466.9 L1956.4,467.5 L1957.7,468.1 L1959.0,468.7 L1960.3,469.3 L1961.6,469.9 L1962.9,470.5 L1964.2,471.1 L1965.5,471.7 L1966.8,472.2 L1968.1,472.8 L1969.4,473.4 L1970.7,473.9 L1972.0,474.5 L1973.3,475.0 L1974.6,475.5 L1975.9,476.1 L1977.2,476.6 L1978.5,477.1 L1979.8,477.6 L1981.1,478.1 L1982.4,478.6 L1983.7,479.1 L1985.0,479.6 L1986.3,480.1 L1987.6,480.6 L1988.9,481.1 L1990.2,481.5 L1991.5,482.0 L1992.8,482.5 L1994.1,482.9 L1995.4,483.4 L1996.7,483.8 L1998.0,484.2 L1999.3,484.6 L2000.6,485.1 L2001.9,485.5 L2003.2,485.9 L2004.5,486.3 L2005.8,486.7 L2007.1,487.1 L2008.4,487.5 L2009.7,487.8 L2011.0,488.2 L2012.3,488.6 L2013.6,488.9" fill="none" stroke="#1f77b4" stroke-width="3.2" stroke-linejoin="round" stroke-linecap="round" />
<rect x="1451" y="35.9" width="562.5" height="461.9" fill="none" stroke="#000" stroke-width="2.2"/>
<line x1="1494.7" y1="497.8" x2="1494.7" y2="506.2" stroke="#000" stroke-width="2" />
<line x1="1667.6" y1="497.8" x2="1667.6" y2="506.2" stroke="#000" stroke-width="2" />
<line x1="1840.5" y1="497.8" x2="1840.5" y2="506.2" stroke="#000" stroke-width="2" />
<line x1="2013.4" y1="497.8" x2="2013.4" y2="506.2" stroke="#000" stroke-width="2" />
<line x1="1581.2" y1="497.8" x2="1581.2" y2="502.2" stroke="#000" stroke-width="2" />
<line x1="1754.1" y1="497.8" x2="1754.1" y2="502.2" stroke="#000" stroke-width="2" />
<line x1="1927" y1="497.8" x2="1927" y2="502.2" stroke="#000" stroke-width="2" />
<text x="1494.7" y="531.5" font-size="23" text-anchor="middle" font-weight="bold" fill="#000" >500</text>
<text x="1667.6" y="531.5" font-size="23" text-anchor="middle" font-weight="bold" fill="#000" >600</text>
<text x="1840.5" y="531.5" font-size="23" text-anchor="middle" font-weight="bold" fill="#000" >700</text>
<text x="2013.4" y="531.5" font-size="23" text-anchor="middle" font-weight="bold" fill="#000" >800</text>
<text x="1381.8" y="60" font-size="38" text-anchor="start" font-weight="bold" fill="#000" >(c)</text>
<text x="1744.7" y="562" font-size="30" text-anchor="middle" font-weight="bold" fill="#000" >Wavelength (nm)</text>
<text x="0" y="0" transform="translate(1438.4,255) rotate(-90)" font-size="30" text-anchor="middle" font-weight="bold" fill="#000">PL Intensity (a.u.)</text>
<text x="1694" y="85.3" font-size="25.3" text-anchor="middle" font-weight="bold" fill="#2ca02c" >597 nm</text>
<text x="1864.3" y="373.4" font-size="25.1" text-anchor="middle" font-weight="bold" fill="#1f77b4" >670 nm</text>
<line x1="1783" y1="62.9" x2="1842.5" y2="62.9" stroke="#2ca02c" stroke-width="3" />
<line x1="1783" y1="98.5" x2="1842.5" y2="98.5" stroke="#1f77b4" stroke-width="3" />
<text x="1848" y="71.1" font-size="25" text-anchor="start" font-weight="bold" fill="#000" >SADF</text>
<text x="1848" y="106.7" font-size="25.3" font-weight="bold">SA-SADF-H<tspan dy="-10" font-size="16">+</tspan></text>
<g clip-path="url(#dclip)"><path d="M112.3,921.2h9.2v9.2h-9.2zM119.1,921.2h9.2v9.2h-9.2zM142.7,921.2h9.2v9.2h-9.2zM144.3,921.2h9.2v9.2h-9.2zM587.5,921.2h9.2v9.2h-9.2zM612.8,921.2h9.2v9.2h-9.2zM636.4,921.2h9.2v9.2h-9.2zM114.0,880.6h9.2v9.2h-9.2zM135.9,880.6h9.2v9.2h-9.2zM154.5,880.6h9.2v9.2h-9.2zM381.9,880.6h9.2v9.2h-9.2zM425.8,880.6h9.2v9.2h-9.2zM427.4,880.6h9.2v9.2h-9.2zM447.7,880.6h9.2v9.2h-9.2zM494.8,880.6h9.2v9.2h-9.2zM523.5,880.6h9.2v9.2h-9.2zM526.9,880.6h9.2v9.2h-9.2zM538.7,880.6h9.2v9.2h-9.2zM548.8,880.6h9.2v9.2h-9.2zM575.7,880.6h9.2v9.2h-9.2zM577.4,880.6h9.2v9.2h-9.2zM585.8,880.6h9.2v9.2h-9.2zM617.9,880.6h9.2v9.2h-9.2zM624.6,880.6h9.2v9.2h-9.2zM628.0,880.6h9.2v9.2h-9.2zM633.0,880.6h9.2v9.2h-9.2zM638.1,880.6h9.2v9.2h-9.2zM658.3,880.6h9.2v9.2h-9.2zM660.0,880.6h9.2v9.2h-9.2zM115.7,898.9h9.2v9.2h-9.2zM444.3,898.9h9.2v9.2h-9.2zM478.0,898.9h9.2v9.2h-9.2zM540.3,898.9h9.2v9.2h-9.2zM550.5,898.9h9.2v9.2h-9.2zM558.9,898.9h9.2v9.2h-9.2zM595.9,898.9h9.2v9.2h-9.2zM599.3,898.9h9.2v9.2h-9.2zM604.4,898.9h9.2v9.2h-9.2zM619.5,898.9h9.2v9.2h-9.2zM626.3,898.9h9.2v9.2h-9.2zM639.8,898.9h9.2v9.2h-9.2zM656.6,898.9h9.2v9.2h-9.2zM663.4,898.9h9.2v9.2h-9.2zM671.8,898.9h9.2v9.2h-9.2zM117.4,950.0h9.2v9.2h-9.2zM132.5,950.0h9.2v9.2h-9.2zM146.0,950.0h9.2v9.2h-9.2zM388.7,950.0h9.2v9.2h-9.2zM535.3,950.0h9.2v9.2h-9.2zM616.2,950.0h9.2v9.2h-9.2zM120.8,865.2h9.2v9.2h-9.2zM385.3,865.2h9.2v9.2h-9.2zM415.6,865.2h9.2v9.2h-9.2zM434.2,865.2h9.2v9.2h-9.2zM451.0,865.2h9.2v9.2h-9.2zM498.2,865.2h9.2v9.2h-9.2zM508.3,865.2h9.2v9.2h-9.2zM521.8,865.2h9.2v9.2h-9.2zM553.8,865.2h9.2v9.2h-9.2zM567.3,865.2h9.2v9.2h-9.2zM569.0,865.2h9.2v9.2h-9.2zM584.2,865.2h9.2v9.2h-9.2zM607.7,865.2h9.2v9.2h-9.2zM611.1,865.2h9.2v9.2h-9.2zM614.5,865.2h9.2v9.2h-9.2zM631.3,865.2h9.2v9.2h-9.2zM643.1,865.2h9.2v9.2h-9.2zM654.9,865.2h9.2v9.2h-9.2zM122.4,820.0h9.2v9.2h-9.2zM125.8,820.0h9.2v9.2h-9.2zM147.7,820.0h9.2v9.2h-9.2zM294.3,820.0h9.2v9.2h-9.2zM301.1,820.0h9.2v9.2h-9.2zM306.1,820.0h9.2v9.2h-9.2zM328.0,820.0h9.2v9.2h-9.2zM334.8,820.0h9.2v9.2h-9.2zM353.3,820.0h9.2v9.2h-9.2zM355.0,820.0h9.2v9.2h-9.2zM361.7,820.0h9.2v9.2h-9.2zM370.1,820.0h9.2v9.2h-9.2zM373.5,820.0h9.2v9.2h-9.2zM398.8,820.0h9.2v9.2h-9.2zM419.0,820.0h9.2v9.2h-9.2zM424.1,820.0h9.2v9.2h-9.2zM430.8,820.0h9.2v9.2h-9.2zM452.7,820.0h9.2v9.2h-9.2zM471.3,820.0h9.2v9.2h-9.2zM484.7,820.0h9.2v9.2h-9.2zM486.4,820.0h9.2v9.2h-9.2zM530.2,820.0h9.2v9.2h-9.2zM634.7,820.0h9.2v9.2h-9.2zM651.6,820.0h9.2v9.2h-9.2zM661.7,820.0h9.2v9.2h-9.2zM668.4,820.0h9.2v9.2h-9.2zM124.1,851.8h9.2v9.2h-9.2zM127.5,851.8h9.2v9.2h-9.2zM134.2,851.8h9.2v9.2h-9.2zM307.8,851.8h9.2v9.2h-9.2zM324.6,851.8h9.2v9.2h-9.2zM329.7,851.8h9.2v9.2h-9.2zM338.1,851.8h9.2v9.2h-9.2zM360.0,851.8h9.2v9.2h-9.2zM392.1,851.8h9.2v9.2h-9.2zM435.9,851.8h9.2v9.2h-9.2zM437.5,851.8h9.2v9.2h-9.2zM439.2,851.8h9.2v9.2h-9.2zM440.9,851.8h9.2v9.2h-9.2zM457.8,851.8h9.2v9.2h-9.2zM481.4,851.8h9.2v9.2h-9.2zM488.1,851.8h9.2v9.2h-9.2zM501.6,851.8h9.2v9.2h-9.2zM506.6,851.8h9.2v9.2h-9.2zM525.2,851.8h9.2v9.2h-9.2zM545.4,851.8h9.2v9.2h-9.2zM552.1,851.8h9.2v9.2h-9.2zM560.6,851.8h9.2v9.2h-9.2zM563.9,851.8h9.2v9.2h-9.2zM589.2,851.8h9.2v9.2h-9.2zM590.9,851.8h9.2v9.2h-9.2zM592.6,851.8h9.2v9.2h-9.2zM594.3,851.8h9.2v9.2h-9.2zM606.1,851.8h9.2v9.2h-9.2zM609.4,851.8h9.2v9.2h-9.2zM641.4,851.8h9.2v9.2h-9.2zM648.2,851.8h9.2v9.2h-9.2zM665.0,851.8h9.2v9.2h-9.2zM129.2,829.5h9.2v9.2h-9.2zM139.3,829.5h9.2v9.2h-9.2zM149.4,829.5h9.2v9.2h-9.2zM321.3,829.5h9.2v9.2h-9.2zM331.4,829.5h9.2v9.2h-9.2zM336.4,829.5h9.2v9.2h-9.2zM356.7,829.5h9.2v9.2h-9.2zM365.1,829.5h9.2v9.2h-9.2zM371.8,829.5h9.2v9.2h-9.2zM387.0,829.5h9.2v9.2h-9.2zM393.7,829.5h9.2v9.2h-9.2zM407.2,829.5h9.2v9.2h-9.2zM446.0,829.5h9.2v9.2h-9.2zM466.2,829.5h9.2v9.2h-9.2zM472.9,829.5h9.2v9.2h-9.2zM489.8,829.5h9.2v9.2h-9.2zM510.0,829.5h9.2v9.2h-9.2zM513.4,829.5h9.2v9.2h-9.2zM518.4,829.5h9.2v9.2h-9.2zM528.5,829.5h9.2v9.2h-9.2zM547.1,829.5h9.2v9.2h-9.2zM579.1,829.5h9.2v9.2h-9.2zM580.8,829.5h9.2v9.2h-9.2zM621.2,829.5h9.2v9.2h-9.2zM622.9,829.5h9.2v9.2h-9.2zM629.7,829.5h9.2v9.2h-9.2zM649.9,829.5h9.2v9.2h-9.2zM653.2,829.5h9.2v9.2h-9.2zM670.1,829.5h9.2v9.2h-9.2zM130.9,840.0h9.2v9.2h-9.2zM137.6,840.0h9.2v9.2h-9.2zM141.0,840.0h9.2v9.2h-9.2zM151.1,840.0h9.2v9.2h-9.2zM152.8,840.0h9.2v9.2h-9.2zM265.7,840.0h9.2v9.2h-9.2zM299.4,840.0h9.2v9.2h-9.2zM339.8,840.0h9.2v9.2h-9.2zM390.4,840.0h9.2v9.2h-9.2zM402.2,840.0h9.2v9.2h-9.2zM403.8,840.0h9.2v9.2h-9.2zM405.5,840.0h9.2v9.2h-9.2zM410.6,840.0h9.2v9.2h-9.2zM412.3,840.0h9.2v9.2h-9.2zM414.0,840.0h9.2v9.2h-9.2zM429.1,840.0h9.2v9.2h-9.2zM454.4,840.0h9.2v9.2h-9.2zM456.1,840.0h9.2v9.2h-9.2zM464.5,840.0h9.2v9.2h-9.2zM491.5,840.0h9.2v9.2h-9.2zM496.5,840.0h9.2v9.2h-9.2zM499.9,840.0h9.2v9.2h-9.2zM511.7,840.0h9.2v9.2h-9.2zM520.1,840.0h9.2v9.2h-9.2zM533.6,840.0h9.2v9.2h-9.2zM543.7,840.0h9.2v9.2h-9.2zM555.5,840.0h9.2v9.2h-9.2zM557.2,840.0h9.2v9.2h-9.2zM570.7,840.0h9.2v9.2h-9.2zM597.6,840.0h9.2v9.2h-9.2zM601.0,840.0h9.2v9.2h-9.2zM602.7,840.0h9.2v9.2h-9.2zM666.7,840.0h9.2v9.2h-9.2zM156.1,760.1h9.2v9.2h-9.2zM226.9,760.1h9.2v9.2h-9.2zM235.3,760.1h9.2v9.2h-9.2zM237.0,760.1h9.2v9.2h-9.2zM277.5,760.1h9.2v9.2h-9.2zM319.6,760.1h9.2v9.2h-9.2zM380.3,760.1h9.2v9.2h-9.2zM157.8,746.2h9.2v9.2h-9.2zM161.2,746.2h9.2v9.2h-9.2zM221.9,746.2h9.2v9.2h-9.2zM233.7,746.2h9.2v9.2h-9.2zM243.8,746.2h9.2v9.2h-9.2zM269.0,746.2h9.2v9.2h-9.2zM274.1,746.2h9.2v9.2h-9.2zM159.5,770.7h9.2v9.2h-9.2zM242.1,770.7h9.2v9.2h-9.2zM255.6,770.7h9.2v9.2h-9.2zM290.9,770.7h9.2v9.2h-9.2zM397.1,770.7h9.2v9.2h-9.2zM162.9,685.9h9.2v9.2h-9.2zM164.6,674.7h9.2v9.2h-9.2zM196.6,674.7h9.2v9.2h-9.2zM198.3,674.7h9.2v9.2h-9.2zM166.2,645.3h9.2v9.2h-9.2zM167.9,636.2h9.2v9.2h-9.2zM169.6,617.7h9.2v9.2h-9.2zM171.3,620.2h9.2v9.2h-9.2zM173.0,613.0h9.2v9.2h-9.2zM174.7,622.7h9.2v9.2h-9.2zM176.4,624.0h9.2v9.2h-9.2zM178.0,629.2h9.2v9.2h-9.2zM179.7,634.8h9.2v9.2h-9.2zM181.4,651.9h9.2v9.2h-9.2zM183.1,666.5h9.2v9.2h-9.2zM186.5,666.5h9.2v9.2h-9.2zM184.8,664.5h9.2v9.2h-9.2zM191.5,664.5h9.2v9.2h-9.2zM188.2,655.4h9.2v9.2h-9.2zM189.8,658.9h9.2v9.2h-9.2zM193.2,679.0h9.2v9.2h-9.2zM194.9,657.1h9.2v9.2h-9.2zM199.9,695.9h9.2v9.2h-9.2zM201.6,701.3h9.2v9.2h-9.2zM203.3,719.6h9.2v9.2h-9.2zM228.6,719.6h9.2v9.2h-9.2zM205.0,693.3h9.2v9.2h-9.2zM206.7,716.3h9.2v9.2h-9.2zM208.4,713.1h9.2v9.2h-9.2zM210.1,733.9h9.2v9.2h-9.2zM211.7,733.9h9.2v9.2h-9.2zM213.4,723.0h9.2v9.2h-9.2zM215.1,723.0h9.2v9.2h-9.2zM216.8,750.6h9.2v9.2h-9.2zM238.7,750.6h9.2v9.2h-9.2zM248.8,750.6h9.2v9.2h-9.2zM260.6,750.6h9.2v9.2h-9.2zM292.6,750.6h9.2v9.2h-9.2zM297.7,750.6h9.2v9.2h-9.2zM218.5,710.0h9.2v9.2h-9.2zM223.5,710.0h9.2v9.2h-9.2zM220.2,730.1h9.2v9.2h-9.2zM225.2,741.9h9.2v9.2h-9.2zM272.4,741.9h9.2v9.2h-9.2zM285.9,741.9h9.2v9.2h-9.2zM287.6,741.9h9.2v9.2h-9.2zM230.3,737.8h9.2v9.2h-9.2zM232.0,755.3h9.2v9.2h-9.2zM253.9,755.3h9.2v9.2h-9.2zM258.9,755.3h9.2v9.2h-9.2zM262.3,755.3h9.2v9.2h-9.2zM316.2,755.3h9.2v9.2h-9.2zM400.5,755.3h9.2v9.2h-9.2zM240.4,765.3h9.2v9.2h-9.2zM296.0,765.3h9.2v9.2h-9.2zM317.9,765.3h9.2v9.2h-9.2zM245.4,782.5h9.2v9.2h-9.2zM270.7,782.5h9.2v9.2h-9.2zM279.1,782.5h9.2v9.2h-9.2zM280.8,782.5h9.2v9.2h-9.2zM282.5,782.5h9.2v9.2h-9.2zM343.2,782.5h9.2v9.2h-9.2zM348.2,782.5h9.2v9.2h-9.2zM422.4,782.5h9.2v9.2h-9.2zM673.5,782.5h9.2v9.2h-9.2zM247.1,795.8h9.2v9.2h-9.2zM326.3,795.8h9.2v9.2h-9.2zM333.1,795.8h9.2v9.2h-9.2zM349.9,795.8h9.2v9.2h-9.2zM442.6,795.8h9.2v9.2h-9.2zM483.0,795.8h9.2v9.2h-9.2zM250.5,776.4h9.2v9.2h-9.2zM264.0,776.4h9.2v9.2h-9.2zM275.8,776.4h9.2v9.2h-9.2zM309.5,776.4h9.2v9.2h-9.2zM311.2,776.4h9.2v9.2h-9.2zM314.5,776.4h9.2v9.2h-9.2zM346.6,776.4h9.2v9.2h-9.2zM420.7,776.4h9.2v9.2h-9.2zM467.9,776.4h9.2v9.2h-9.2zM644.8,776.4h9.2v9.2h-9.2zM252.2,726.5h9.2v9.2h-9.2zM257.2,803.3h9.2v9.2h-9.2zM267.4,803.3h9.2v9.2h-9.2zM302.7,803.3h9.2v9.2h-9.2zM304.4,803.3h9.2v9.2h-9.2zM312.9,803.3h9.2v9.2h-9.2zM341.5,803.3h9.2v9.2h-9.2zM344.9,803.3h9.2v9.2h-9.2zM363.4,803.3h9.2v9.2h-9.2zM378.6,803.3h9.2v9.2h-9.2zM459.5,803.3h9.2v9.2h-9.2zM469.6,803.3h9.2v9.2h-9.2zM476.3,803.3h9.2v9.2h-9.2zM479.7,803.3h9.2v9.2h-9.2zM515.1,803.3h9.2v9.2h-9.2zM284.2,788.9h9.2v9.2h-9.2zM366.8,788.9h9.2v9.2h-9.2zM368.5,788.9h9.2v9.2h-9.2zM376.9,788.9h9.2v9.2h-9.2zM417.3,788.9h9.2v9.2h-9.2zM432.5,788.9h9.2v9.2h-9.2zM505.0,788.9h9.2v9.2h-9.2zM516.7,788.9h9.2v9.2h-9.2zM572.4,788.9h9.2v9.2h-9.2zM289.3,811.3h9.2v9.2h-9.2zM323.0,811.3h9.2v9.2h-9.2zM351.6,811.3h9.2v9.2h-9.2zM358.3,811.3h9.2v9.2h-9.2zM375.2,811.3h9.2v9.2h-9.2zM383.6,811.3h9.2v9.2h-9.2zM395.4,811.3h9.2v9.2h-9.2zM408.9,811.3h9.2v9.2h-9.2zM449.3,811.3h9.2v9.2h-9.2zM461.1,811.3h9.2v9.2h-9.2zM474.6,811.3h9.2v9.2h-9.2zM493.2,811.3h9.2v9.2h-9.2zM503.3,811.3h9.2v9.2h-9.2zM531.9,811.3h9.2v9.2h-9.2zM537.0,811.3h9.2v9.2h-9.2zM542.0,811.3h9.2v9.2h-9.2zM562.2,811.3h9.2v9.2h-9.2zM574.0,811.3h9.2v9.2h-9.2zM582.5,811.3h9.2v9.2h-9.2zM462.8,990.5h9.2v9.2h-9.2zM565.6,990.5h9.2v9.2h-9.2z" fill="#33a532"/>
<g fill="#1f78c1"><rect x="111.8" y="1016.3" width="10.2" height="10.2" rx="5.1"/><rect x="121.9" y="1016.3" width="10.2" height="10.2" rx="5.1"/><rect x="137.1" y="1016.3" width="10.2" height="10.2" rx="5.1"/><rect x="140.5" y="1016.3" width="10.2" height="10.2" rx="5.1"/><rect x="477.5" y="1016.3" width="10.2" height="10.2" rx="5.1"/><rect x="507.8" y="1016.3" width="10.2" height="10.2" rx="5.1"/><rect x="568.5" y="1016.3" width="10.2" height="10.2" rx="5.1"/><rect x="570.2" y="1016.3" width="10.2" height="10.2" rx="5.1"/><rect x="583.7" y="1016.3" width="10.2" height="10.2" rx="5.1"/><rect x="587.0" y="1016.3" width="10.2" height="10.2" rx="5.1"/><rect x="590.4" y="1016.3" width="10.2" height="10.2" rx="5.1"/><rect x="614.0" y="1016.3" width="10.2" height="10.2" rx="5.1"/><rect x="619.0" y="1016.3" width="10.2" height="10.2" rx="5.1"/><rect x="640.9" y="1016.3" width="10.2" height="10.2" rx="5.1"/><rect x="113.5" y="994.0" width="10.2" height="10.2" rx="5.1"/><rect x="133.7" y="994.0" width="10.2" height="10.2" rx="5.1"/><rect x="147.2" y="994.0" width="10.2" height="10.2" rx="5.1"/><rect x="499.4" y="994.0" width="10.2" height="10.2" rx="5.1"/><rect x="506.1" y="994.0" width="10.2" height="10.2" rx="5.1"/><rect x="534.8" y="994.0" width="10.2" height="10.2" rx="5.1"/><rect x="576.9" y="994.0" width="10.2" height="10.2" rx="5.1"/><rect x="598.8" y="994.0" width="10.2" height="10.2" rx="5.1"/><rect x="632.5" y="994.0" width="10.2" height="10.2" rx="5.1"/><rect x="634.2" y="994.0" width="10.2" height="10.2" rx="5.1"/><rect x="642.6" y="994.0" width="10.2" height="10.2" rx="5.1"/><rect x="651.1" y="994.0" width="10.2" height="10.2" rx="5.1"/><rect x="657.8" y="994.0" width="10.2" height="10.2" rx="5.1"/><rect x="667.9" y="994.0" width="10.2" height="10.2" rx="5.1"/><rect x="115.2" y="924.6" width="10.2" height="10.2" rx="5.1"/><rect x="305.6" y="924.6" width="10.2" height="10.2" rx="5.1"/><rect x="344.4" y="924.6" width="10.2" height="10.2" rx="5.1"/><rect x="396.6" y="924.6" width="10.2" height="10.2" rx="5.1"/><rect x="432.0" y="924.6" width="10.2" height="10.2" rx="5.1"/><rect x="475.8" y="924.6" width="10.2" height="10.2" rx="5.1"/><rect x="484.2" y="924.6" width="10.2" height="10.2" rx="5.1"/><rect x="497.7" y="924.6" width="10.2" height="10.2" rx="5.1"/><rect x="504.5" y="924.6" width="10.2" height="10.2" rx="5.1"/><rect x="509.5" y="924.6" width="10.2" height="10.2" rx="5.1"/><rect x="519.6" y="924.6" width="10.2" height="10.2" rx="5.1"/><rect x="528.0" y="924.6" width="10.2" height="10.2" rx="5.1"/><rect x="550.0" y="924.6" width="10.2" height="10.2" rx="5.1"/><rect x="565.1" y="924.6" width="10.2" height="10.2" rx="5.1"/><rect x="673.0" y="924.6" width="10.2" height="10.2" rx="5.1"/><rect x="116.9" y="960.3" width="10.2" height="10.2" rx="5.1"/><rect x="130.4" y="960.3" width="10.2" height="10.2" rx="5.1"/><rect x="138.8" y="960.3" width="10.2" height="10.2" rx="5.1"/><rect x="145.5" y="960.3" width="10.2" height="10.2" rx="5.1"/><rect x="374.7" y="960.3" width="10.2" height="10.2" rx="5.1"/><rect x="405.0" y="960.3" width="10.2" height="10.2" rx="5.1"/><rect x="413.5" y="960.3" width="10.2" height="10.2" rx="5.1"/><rect x="418.5" y="960.3" width="10.2" height="10.2" rx="5.1"/><rect x="457.3" y="960.3" width="10.2" height="10.2" rx="5.1"/><rect x="462.3" y="960.3" width="10.2" height="10.2" rx="5.1"/><rect x="485.9" y="960.3" width="10.2" height="10.2" rx="5.1"/><rect x="489.3" y="960.3" width="10.2" height="10.2" rx="5.1"/><rect x="496.0" y="960.3" width="10.2" height="10.2" rx="5.1"/><rect x="521.3" y="960.3" width="10.2" height="10.2" rx="5.1"/><rect x="524.7" y="960.3" width="10.2" height="10.2" rx="5.1"/><rect x="529.7" y="960.3" width="10.2" height="10.2" rx="5.1"/><rect x="533.1" y="960.3" width="10.2" height="10.2" rx="5.1"/><rect x="548.3" y="960.3" width="10.2" height="10.2" rx="5.1"/><rect x="573.5" y="960.3" width="10.2" height="10.2" rx="5.1"/><rect x="578.6" y="960.3" width="10.2" height="10.2" rx="5.1"/><rect x="585.3" y="960.3" width="10.2" height="10.2" rx="5.1"/><rect x="592.1" y="960.3" width="10.2" height="10.2" rx="5.1"/><rect x="602.2" y="960.3" width="10.2" height="10.2" rx="5.1"/><rect x="615.7" y="960.3" width="10.2" height="10.2" rx="5.1"/><rect x="654.4" y="960.3" width="10.2" height="10.2" rx="5.1"/><rect x="659.5" y="960.3" width="10.2" height="10.2" rx="5.1"/><rect x="118.6" y="898.4" width="10.2" height="10.2" rx="5.1"/><rect x="275.3" y="898.4" width="10.2" height="10.2" rx="5.1"/><rect x="282.0" y="898.4" width="10.2" height="10.2" rx="5.1"/><rect x="298.9" y="898.4" width="10.2" height="10.2" rx="5.1"/><rect x="322.5" y="898.4" width="10.2" height="10.2" rx="5.1"/><rect x="354.5" y="898.4" width="10.2" height="10.2" rx="5.1"/><rect x="378.1" y="898.4" width="10.2" height="10.2" rx="5.1"/><rect x="379.8" y="898.4" width="10.2" height="10.2" rx="5.1"/><rect x="384.8" y="898.4" width="10.2" height="10.2" rx="5.1"/><rect x="120.3" y="935.2" width="10.2" height="10.2" rx="5.1"/><rect x="132.0" y="935.2" width="10.2" height="10.2" rx="5.1"/><rect x="361.2" y="935.2" width="10.2" height="10.2" rx="5.1"/><rect x="362.9" y="935.2" width="10.2" height="10.2" rx="5.1"/><rect x="369.6" y="935.2" width="10.2" height="10.2" rx="5.1"/><rect x="391.6" y="935.2" width="10.2" height="10.2" rx="5.1"/><rect x="394.9" y="935.2" width="10.2" height="10.2" rx="5.1"/><rect x="416.8" y="935.2" width="10.2" height="10.2" rx="5.1"/><rect x="420.2" y="935.2" width="10.2" height="10.2" rx="5.1"/><rect x="433.7" y="935.2" width="10.2" height="10.2" rx="5.1"/><rect x="445.5" y="935.2" width="10.2" height="10.2" rx="5.1"/><rect x="450.5" y="935.2" width="10.2" height="10.2" rx="5.1"/><rect x="453.9" y="935.2" width="10.2" height="10.2" rx="5.1"/><rect x="459.0" y="935.2" width="10.2" height="10.2" rx="5.1"/><rect x="464.0" y="935.2" width="10.2" height="10.2" rx="5.1"/><rect x="465.7" y="935.2" width="10.2" height="10.2" rx="5.1"/><rect x="494.3" y="935.2" width="10.2" height="10.2" rx="5.1"/><rect x="517.9" y="935.2" width="10.2" height="10.2" rx="5.1"/><rect x="531.4" y="935.2" width="10.2" height="10.2" rx="5.1"/><rect x="536.5" y="935.2" width="10.2" height="10.2" rx="5.1"/><rect x="561.7" y="935.2" width="10.2" height="10.2" rx="5.1"/><rect x="575.2" y="935.2" width="10.2" height="10.2" rx="5.1"/><rect x="582.0" y="935.2" width="10.2" height="10.2" rx="5.1"/><rect x="603.9" y="935.2" width="10.2" height="10.2" rx="5.1"/><rect x="605.6" y="935.2" width="10.2" height="10.2" rx="5.1"/><rect x="629.2" y="935.2" width="10.2" height="10.2" rx="5.1"/><rect x="639.3" y="935.2" width="10.2" height="10.2" rx="5.1"/><rect x="647.7" y="935.2" width="10.2" height="10.2" rx="5.1"/><rect x="661.2" y="935.2" width="10.2" height="10.2" rx="5.1"/><rect x="123.6" y="915.1" width="10.2" height="10.2" rx="5.1"/><rect x="148.9" y="915.1" width="10.2" height="10.2" rx="5.1"/><rect x="150.6" y="915.1" width="10.2" height="10.2" rx="5.1"/><rect x="330.9" y="915.1" width="10.2" height="10.2" rx="5.1"/><rect x="334.3" y="915.1" width="10.2" height="10.2" rx="5.1"/><rect x="364.6" y="915.1" width="10.2" height="10.2" rx="5.1"/><rect x="371.3" y="915.1" width="10.2" height="10.2" rx="5.1"/><rect x="376.4" y="915.1" width="10.2" height="10.2" rx="5.1"/><rect x="393.2" y="915.1" width="10.2" height="10.2" rx="5.1"/><rect x="430.3" y="915.1" width="10.2" height="10.2" rx="5.1"/><rect x="435.4" y="915.1" width="10.2" height="10.2" rx="5.1"/><rect x="437.0" y="915.1" width="10.2" height="10.2" rx="5.1"/><rect x="438.7" y="915.1" width="10.2" height="10.2" rx="5.1"/><rect x="448.8" y="915.1" width="10.2" height="10.2" rx="5.1"/><rect x="452.2" y="915.1" width="10.2" height="10.2" rx="5.1"/><rect x="455.6" y="915.1" width="10.2" height="10.2" rx="5.1"/><rect x="472.4" y="915.1" width="10.2" height="10.2" rx="5.1"/><rect x="523.0" y="915.1" width="10.2" height="10.2" rx="5.1"/><rect x="538.2" y="915.1" width="10.2" height="10.2" rx="5.1"/><rect x="125.3" y="946.9" width="10.2" height="10.2" rx="5.1"/><rect x="351.1" y="946.9" width="10.2" height="10.2" rx="5.1"/><rect x="356.2" y="946.9" width="10.2" height="10.2" rx="5.1"/><rect x="357.8" y="946.9" width="10.2" height="10.2" rx="5.1"/><rect x="408.4" y="946.9" width="10.2" height="10.2" rx="5.1"/><rect x="423.6" y="946.9" width="10.2" height="10.2" rx="5.1"/><rect x="447.2" y="946.9" width="10.2" height="10.2" rx="5.1"/><rect x="469.1" y="946.9" width="10.2" height="10.2" rx="5.1"/><rect x="474.1" y="946.9" width="10.2" height="10.2" rx="5.1"/><rect x="480.9" y="946.9" width="10.2" height="10.2" rx="5.1"/><rect x="482.5" y="946.9" width="10.2" height="10.2" rx="5.1"/><rect x="512.9" y="946.9" width="10.2" height="10.2" rx="5.1"/><rect x="516.2" y="946.9" width="10.2" height="10.2" rx="5.1"/><rect x="526.4" y="946.9" width="10.2" height="10.2" rx="5.1"/><rect x="541.5" y="946.9" width="10.2" height="10.2" rx="5.1"/><rect x="546.6" y="946.9" width="10.2" height="10.2" rx="5.1"/><rect x="553.3" y="946.9" width="10.2" height="10.2" rx="5.1"/><rect x="560.1" y="946.9" width="10.2" height="10.2" rx="5.1"/><rect x="563.4" y="946.9" width="10.2" height="10.2" rx="5.1"/><rect x="580.3" y="946.9" width="10.2" height="10.2" rx="5.1"/><rect x="595.4" y="946.9" width="10.2" height="10.2" rx="5.1"/><rect x="607.2" y="946.9" width="10.2" height="10.2" rx="5.1"/><rect x="610.6" y="946.9" width="10.2" height="10.2" rx="5.1"/><rect x="625.8" y="946.9" width="10.2" height="10.2" rx="5.1"/><rect x="630.8" y="946.9" width="10.2" height="10.2" rx="5.1"/><rect x="652.7" y="946.9" width="10.2" height="10.2" rx="5.1"/><rect x="656.1" y="946.9" width="10.2" height="10.2" rx="5.1"/><rect x="128.7" y="975.7" width="10.2" height="10.2" rx="5.1"/><rect x="135.4" y="975.7" width="10.2" height="10.2" rx="5.1"/><rect x="143.8" y="975.7" width="10.2" height="10.2" rx="5.1"/><rect x="403.3" y="975.7" width="10.2" height="10.2" rx="5.1"/><rect x="410.1" y="975.7" width="10.2" height="10.2" rx="5.1"/><rect x="426.9" y="975.7" width="10.2" height="10.2" rx="5.1"/><rect x="428.6" y="975.7" width="10.2" height="10.2" rx="5.1"/><rect x="440.4" y="975.7" width="10.2" height="10.2" rx="5.1"/><rect x="479.2" y="975.7" width="10.2" height="10.2" rx="5.1"/><rect x="491.0" y="975.7" width="10.2" height="10.2" rx="5.1"/><rect x="514.6" y="975.7" width="10.2" height="10.2" rx="5.1"/><rect x="539.8" y="975.7" width="10.2" height="10.2" rx="5.1"/><rect x="551.6" y="975.7" width="10.2" height="10.2" rx="5.1"/><rect x="555.0" y="975.7" width="10.2" height="10.2" rx="5.1"/><rect x="558.4" y="975.7" width="10.2" height="10.2" rx="5.1"/><rect x="571.9" y="975.7" width="10.2" height="10.2" rx="5.1"/><rect x="588.7" y="975.7" width="10.2" height="10.2" rx="5.1"/><rect x="593.8" y="975.7" width="10.2" height="10.2" rx="5.1"/><rect x="597.1" y="975.7" width="10.2" height="10.2" rx="5.1"/><rect x="600.5" y="975.7" width="10.2" height="10.2" rx="5.1"/><rect x="612.3" y="975.7" width="10.2" height="10.2" rx="5.1"/><rect x="617.4" y="975.7" width="10.2" height="10.2" rx="5.1"/><rect x="622.4" y="975.7" width="10.2" height="10.2" rx="5.1"/><rect x="624.1" y="975.7" width="10.2" height="10.2" rx="5.1"/><rect x="627.5" y="975.7" width="10.2" height="10.2" rx="5.1"/><rect x="635.9" y="975.7" width="10.2" height="10.2" rx="5.1"/><rect x="646.0" y="975.7" width="10.2" height="10.2" rx="5.1"/><rect x="664.5" y="975.7" width="10.2" height="10.2" rx="5.1"/><rect x="669.6" y="975.7" width="10.2" height="10.2" rx="5.1"/><rect x="152.3" y="799.3" width="10.2" height="10.2" rx="5.1"/><rect x="244.9" y="799.3" width="10.2" height="10.2" rx="5.1"/><rect x="154.0" y="765.6" width="10.2" height="10.2" rx="5.1"/><rect x="155.6" y="705.9" width="10.2" height="10.2" rx="5.1"/><rect x="157.3" y="691.3" width="10.2" height="10.2" rx="5.1"/><rect x="159.0" y="660.5" width="10.2" height="10.2" rx="5.1"/><rect x="160.7" y="637.6" width="10.2" height="10.2" rx="5.1"/><rect x="162.4" y="612.2" width="10.2" height="10.2" rx="5.1"/><rect x="164.1" y="623.9" width="10.2" height="10.2" rx="5.1"/><rect x="170.8" y="623.9" width="10.2" height="10.2" rx="5.1"/><rect x="165.7" y="618.6" width="10.2" height="10.2" rx="5.1"/><rect x="167.4" y="598.2" width="10.2" height="10.2" rx="5.1"/><rect x="169.1" y="609.6" width="10.2" height="10.2" rx="5.1"/><rect x="172.5" y="638.2" width="10.2" height="10.2" rx="5.1"/><rect x="174.2" y="665.7" width="10.2" height="10.2" rx="5.1"/><rect x="175.9" y="672.7" width="10.2" height="10.2" rx="5.1"/><rect x="177.5" y="681.1" width="10.2" height="10.2" rx="5.1"/><rect x="179.2" y="686.5" width="10.2" height="10.2" rx="5.1"/><rect x="180.9" y="711.7" width="10.2" height="10.2" rx="5.1"/><rect x="182.6" y="707.0" width="10.2" height="10.2" rx="5.1"/><rect x="184.3" y="719.1" width="10.2" height="10.2" rx="5.1"/><rect x="186.0" y="750.5" width="10.2" height="10.2" rx="5.1"/><rect x="187.7" y="752.2" width="10.2" height="10.2" rx="5.1"/><rect x="199.4" y="752.2" width="10.2" height="10.2" rx="5.1"/><rect x="201.1" y="752.2" width="10.2" height="10.2" rx="5.1"/><rect x="189.3" y="776.4" width="10.2" height="10.2" rx="5.1"/><rect x="209.6" y="776.4" width="10.2" height="10.2" rx="5.1"/><rect x="212.9" y="776.4" width="10.2" height="10.2" rx="5.1"/><rect x="229.8" y="776.4" width="10.2" height="10.2" rx="5.1"/><rect x="231.5" y="776.4" width="10.2" height="10.2" rx="5.1"/><rect x="191.0" y="748.7" width="10.2" height="10.2" rx="5.1"/><rect x="192.7" y="771.9" width="10.2" height="10.2" rx="5.1"/><rect x="194.4" y="781.0" width="10.2" height="10.2" rx="5.1"/><rect x="202.8" y="781.0" width="10.2" height="10.2" rx="5.1"/><rect x="196.1" y="769.8" width="10.2" height="10.2" rx="5.1"/><rect x="211.2" y="769.8" width="10.2" height="10.2" rx="5.1"/><rect x="197.8" y="763.6" width="10.2" height="10.2" rx="5.1"/><rect x="204.5" y="791.0" width="10.2" height="10.2" rx="5.1"/><rect x="206.2" y="788.4" width="10.2" height="10.2" rx="5.1"/><rect x="207.9" y="796.4" width="10.2" height="10.2" rx="5.1"/><rect x="216.3" y="796.4" width="10.2" height="10.2" rx="5.1"/><rect x="234.8" y="796.4" width="10.2" height="10.2" rx="5.1"/><rect x="214.6" y="785.9" width="10.2" height="10.2" rx="5.1"/><rect x="218.0" y="785.9" width="10.2" height="10.2" rx="5.1"/><rect x="224.7" y="785.9" width="10.2" height="10.2" rx="5.1"/><rect x="219.7" y="783.4" width="10.2" height="10.2" rx="5.1"/><rect x="221.4" y="811.4" width="10.2" height="10.2" rx="5.1"/><rect x="283.7" y="811.4" width="10.2" height="10.2" rx="5.1"/><rect x="223.0" y="802.2" width="10.2" height="10.2" rx="5.1"/><rect x="226.4" y="802.2" width="10.2" height="10.2" rx="5.1"/><rect x="233.2" y="802.2" width="10.2" height="10.2" rx="5.1"/><rect x="228.1" y="808.2" width="10.2" height="10.2" rx="5.1"/><rect x="250.0" y="808.2" width="10.2" height="10.2" rx="5.1"/><rect x="236.5" y="805.1" width="10.2" height="10.2" rx="5.1"/><rect x="238.2" y="821.6" width="10.2" height="10.2" rx="5.1"/><rect x="239.9" y="793.7" width="10.2" height="10.2" rx="5.1"/><rect x="241.6" y="825.2" width="10.2" height="10.2" rx="5.1"/><rect x="243.3" y="825.2" width="10.2" height="10.2" rx="5.1"/><rect x="248.3" y="825.2" width="10.2" height="10.2" rx="5.1"/><rect x="271.9" y="825.2" width="10.2" height="10.2" rx="5.1"/><rect x="246.6" y="890.9" width="10.2" height="10.2" rx="5.1"/><rect x="290.4" y="890.9" width="10.2" height="10.2" rx="5.1"/><rect x="310.7" y="890.9" width="10.2" height="10.2" rx="5.1"/><rect x="319.1" y="890.9" width="10.2" height="10.2" rx="5.1"/><rect x="320.8" y="890.9" width="10.2" height="10.2" rx="5.1"/><rect x="332.6" y="890.9" width="10.2" height="10.2" rx="5.1"/><rect x="341.0" y="890.9" width="10.2" height="10.2" rx="5.1"/><rect x="352.8" y="890.9" width="10.2" height="10.2" rx="5.1"/><rect x="411.8" y="890.9" width="10.2" height="10.2" rx="5.1"/><rect x="415.1" y="890.9" width="10.2" height="10.2" rx="5.1"/><rect x="460.6" y="890.9" width="10.2" height="10.2" rx="5.1"/><rect x="637.6" y="890.9" width="10.2" height="10.2" rx="5.1"/><rect x="251.7" y="884.0" width="10.2" height="10.2" rx="5.1"/><rect x="278.6" y="884.0" width="10.2" height="10.2" rx="5.1"/><rect x="287.1" y="884.0" width="10.2" height="10.2" rx="5.1"/><rect x="307.3" y="884.0" width="10.2" height="10.2" rx="5.1"/><rect x="324.1" y="884.0" width="10.2" height="10.2" rx="5.1"/><rect x="327.5" y="884.0" width="10.2" height="10.2" rx="5.1"/><rect x="373.0" y="884.0" width="10.2" height="10.2" rx="5.1"/><rect x="381.4" y="884.0" width="10.2" height="10.2" rx="5.1"/><rect x="398.3" y="884.0" width="10.2" height="10.2" rx="5.1"/><rect x="487.6" y="884.0" width="10.2" height="10.2" rx="5.1"/><rect x="253.4" y="841.3" width="10.2" height="10.2" rx="5.1"/><rect x="268.5" y="841.3" width="10.2" height="10.2" rx="5.1"/><rect x="288.8" y="841.3" width="10.2" height="10.2" rx="5.1"/><rect x="317.4" y="841.3" width="10.2" height="10.2" rx="5.1"/><rect x="255.1" y="845.7" width="10.2" height="10.2" rx="5.1"/><rect x="256.7" y="860.4" width="10.2" height="10.2" rx="5.1"/><rect x="260.1" y="860.4" width="10.2" height="10.2" rx="5.1"/><rect x="303.9" y="860.4" width="10.2" height="10.2" rx="5.1"/><rect x="383.1" y="860.4" width="10.2" height="10.2" rx="5.1"/><rect x="258.4" y="829.0" width="10.2" height="10.2" rx="5.1"/><rect x="261.8" y="829.0" width="10.2" height="10.2" rx="5.1"/><rect x="273.6" y="829.0" width="10.2" height="10.2" rx="5.1"/><rect x="312.4" y="829.0" width="10.2" height="10.2" rx="5.1"/><rect x="263.5" y="818.1" width="10.2" height="10.2" rx="5.1"/><rect x="265.2" y="832.9" width="10.2" height="10.2" rx="5.1"/><rect x="266.9" y="837.0" width="10.2" height="10.2" rx="5.1"/><rect x="270.2" y="837.0" width="10.2" height="10.2" rx="5.1"/><rect x="277.0" y="865.8" width="10.2" height="10.2" rx="5.1"/><rect x="293.8" y="865.8" width="10.2" height="10.2" rx="5.1"/><rect x="359.5" y="865.8" width="10.2" height="10.2" rx="5.1"/><rect x="425.3" y="865.8" width="10.2" height="10.2" rx="5.1"/><rect x="280.3" y="871.5" width="10.2" height="10.2" rx="5.1"/><rect x="297.2" y="871.5" width="10.2" height="10.2" rx="5.1"/><rect x="300.6" y="871.5" width="10.2" height="10.2" rx="5.1"/><rect x="302.2" y="871.5" width="10.2" height="10.2" rx="5.1"/><rect x="339.3" y="871.5" width="10.2" height="10.2" rx="5.1"/><rect x="349.4" y="871.5" width="10.2" height="10.2" rx="5.1"/><rect x="366.3" y="871.5" width="10.2" height="10.2" rx="5.1"/><rect x="386.5" y="871.5" width="10.2" height="10.2" rx="5.1"/><rect x="401.7" y="871.5" width="10.2" height="10.2" rx="5.1"/><rect x="421.9" y="871.5" width="10.2" height="10.2" rx="5.1"/><rect x="285.4" y="850.4" width="10.2" height="10.2" rx="5.1"/><rect x="292.1" y="850.4" width="10.2" height="10.2" rx="5.1"/><rect x="314.0" y="850.4" width="10.2" height="10.2" rx="5.1"/><rect x="315.7" y="850.4" width="10.2" height="10.2" rx="5.1"/><rect x="347.7" y="850.4" width="10.2" height="10.2" rx="5.1"/><rect x="295.5" y="855.3" width="10.2" height="10.2" rx="5.1"/><rect x="309.0" y="855.3" width="10.2" height="10.2" rx="5.1"/><rect x="325.8" y="855.3" width="10.2" height="10.2" rx="5.1"/><rect x="329.2" y="855.3" width="10.2" height="10.2" rx="5.1"/><rect x="335.9" y="906.4" width="10.2" height="10.2" rx="5.1"/><rect x="337.6" y="906.4" width="10.2" height="10.2" rx="5.1"/><rect x="346.1" y="906.4" width="10.2" height="10.2" rx="5.1"/><rect x="368.0" y="906.4" width="10.2" height="10.2" rx="5.1"/><rect x="388.2" y="906.4" width="10.2" height="10.2" rx="5.1"/><rect x="400.0" y="906.4" width="10.2" height="10.2" rx="5.1"/><rect x="406.7" y="906.4" width="10.2" height="10.2" rx="5.1"/><rect x="467.4" y="906.4" width="10.2" height="10.2" rx="5.1"/><rect x="470.8" y="906.4" width="10.2" height="10.2" rx="5.1"/><rect x="492.7" y="906.4" width="10.2" height="10.2" rx="5.1"/><rect x="511.2" y="906.4" width="10.2" height="10.2" rx="5.1"/><rect x="544.9" y="906.4" width="10.2" height="10.2" rx="5.1"/><rect x="556.7" y="906.4" width="10.2" height="10.2" rx="5.1"/><rect x="649.4" y="906.4" width="10.2" height="10.2" rx="5.1"/><rect x="342.7" y="877.6" width="10.2" height="10.2" rx="5.1"/><rect x="389.9" y="877.6" width="10.2" height="10.2" rx="5.1"/><rect x="442.1" y="877.6" width="10.2" height="10.2" rx="5.1"/><rect x="502.8" y="877.6" width="10.2" height="10.2" rx="5.1"/></g></g>
<defs><clipPath id="dclip"><rect x="116.7" y="577.9" width="561.6999999999999" height="462.0000000000001"/></clipPath></defs>
<rect x="116.7" y="577.9" width="561.7" height="462" fill="none" stroke="#000" stroke-width="2.2"/>
<line x1="116.7" y1="1039.9" x2="116.7" y2="1048.3" stroke="#000" stroke-width="2" />
<line x1="229" y1="1039.9" x2="229" y2="1048.3" stroke="#000" stroke-width="2" />
<line x1="341.4" y1="1039.9" x2="341.4" y2="1048.3" stroke="#000" stroke-width="2" />
<line x1="453.7" y1="1039.9" x2="453.7" y2="1048.3" stroke="#000" stroke-width="2" />
<line x1="566.1" y1="1039.9" x2="566.1" y2="1048.3" stroke="#000" stroke-width="2" />
<line x1="678.4" y1="1039.9" x2="678.4" y2="1048.3" stroke="#000" stroke-width="2" />
<line x1="172.9" y1="1039.9" x2="172.9" y2="1044.3" stroke="#000" stroke-width="2" />
<line x1="285.2" y1="1039.9" x2="285.2" y2="1044.3" stroke="#000" stroke-width="2" />
<line x1="397.6" y1="1039.9" x2="397.6" y2="1044.3" stroke="#000" stroke-width="2" />
<line x1="509.9" y1="1039.9" x2="509.9" y2="1044.3" stroke="#000" stroke-width="2" />
<line x1="622.2" y1="1039.9" x2="622.2" y2="1044.3" stroke="#000" stroke-width="2" />
<text x="116.7" y="1073.6" font-size="23" text-anchor="middle" font-weight="bold" fill="#000" >0</text>
<text x="229" y="1073.6" font-size="23" text-anchor="middle" font-weight="bold" fill="#000" >10</text>
<text x="341.4" y="1073.6" font-size="23" text-anchor="middle" font-weight="bold" fill="#000" >20</text>
<text x="453.7" y="1073.6" font-size="23" text-anchor="middle" font-weight="bold" fill="#000" >30</text>
<text x="566.1" y="1073.6" font-size="23" text-anchor="middle" font-weight="bold" fill="#000" >40</text>
<text x="678.4" y="1073.6" font-size="23" text-anchor="middle" font-weight="bold" fill="#000" >50</text>
<line x1="108.3" y1="878.6" x2="116.7" y2="878.6" stroke="#000" stroke-width="2" />
<line x1="108.3" y1="648.2" x2="116.7" y2="648.2" stroke="#000" stroke-width="2" />
<line x1="112.3" y1="1039.6" x2="116.7" y2="1039.6" stroke="#000" stroke-width="2" />
<line x1="112.3" y1="999.1" x2="116.7" y2="999.1" stroke="#000" stroke-width="2" />
<line x1="112.3" y1="970.3" x2="116.7" y2="970.3" stroke="#000" stroke-width="2" />
<line x1="112.3" y1="948" x2="116.7" y2="948" stroke="#000" stroke-width="2" />
<line x1="112.3" y1="929.7" x2="116.7" y2="929.7" stroke="#000" stroke-width="2" />
<line x1="112.3" y1="914.3" x2="116.7" y2="914.3" stroke="#000" stroke-width="2" />
<line x1="112.3" y1="900.9" x2="116.7" y2="900.9" stroke="#000" stroke-width="2" />
<line x1="112.3" y1="889.1" x2="116.7" y2="889.1" stroke="#000" stroke-width="2" />
<line x1="112.3" y1="809.2" x2="116.7" y2="809.2" stroke="#000" stroke-width="2" />
<line x1="112.3" y1="768.7" x2="116.7" y2="768.7" stroke="#000" stroke-width="2" />
<line x1="112.3" y1="739.9" x2="116.7" y2="739.9" stroke="#000" stroke-width="2" />
<line x1="112.3" y1="717.6" x2="116.7" y2="717.6" stroke="#000" stroke-width="2" />
<line x1="112.3" y1="699.3" x2="116.7" y2="699.3" stroke="#000" stroke-width="2" />
<line x1="112.3" y1="683.9" x2="116.7" y2="683.9" stroke="#000" stroke-width="2" />
<line x1="112.3" y1="670.5" x2="116.7" y2="670.5" stroke="#000" stroke-width="2" />
<line x1="112.3" y1="658.7" x2="116.7" y2="658.7" stroke="#000" stroke-width="2" />
<line x1="112.3" y1="578.8" x2="116.7" y2="578.8" stroke="#000" stroke-width="2" />
<text x="99" y="887" font-size="22.6" font-weight="bold" text-anchor="end">10<tspan dy="-9" font-size="15">1</tspan></text>
<text x="99" y="656.5" font-size="22.6" font-weight="bold" text-anchor="end">10<tspan dy="-9" font-size="15">2</tspan></text>
<text x="44" y="605" font-size="38" text-anchor="start" font-weight="bold" fill="#000" >(d)</text>
<text x="397.4" y="1104" font-size="29.9" text-anchor="middle" font-weight="bold" fill="#000" >Time (ns)</text>
<text x="0" y="0" transform="translate(64.8,809) rotate(-90)" font-size="29.6" text-anchor="middle" font-weight="bold" fill="#000">Counts</text>
<rect x="265.6" y="591" width="19.3" height="19.9" fill="#33a532"/>
<circle cx="275.5" cy="637.2" r="10.7" fill="#1f78c1"/>
<text x="312" y="609" font-size="26"><tspan font-weight="bold">SADF</tspan> in Ar (τ = 8.42 ns)</text>
<text x="312" y="645" font-size="26"><tspan font-weight="bold">SA-SADF-H<tspan dy="-10" font-size="16">+</tspan></tspan><tspan dy="10"> in Ar (τ = 6.09 ns)</tspan></text>
<path d="M797.8,1040.7 L798.9,1040.7 L800.0,1040.7 L801.2,1040.6 L802.3,1040.6 L803.4,1040.6 L804.5,1040.6 L805.7,1040.7 L806.8,1040.7 L807.9,1040.7 L809.0,1040.8 L810.1,1040.9 L811.3,1040.9 L812.4,1041.0 L813.5,1041.0 L814.6,1041.1 L815.8,1041.2 L816.9,1041.3 L818.0,1041.3 L819.1,1041.4 L820.3,1041.5 L821.4,1041.6 L822.5,1041.6 L823.6,1041.7 L824.8,1041.8 L825.9,1041.8 L827.0,1041.9 L828.1,1041.9 L829.3,1041.9 L830.4,1042.0 L831.5,1042.0 L832.6,1042.0 L833.7,1042.0 L834.9,1041.9 L836.0,1041.9 L837.1,1041.8 L838.2,1041.8 L839.4,1041.7 L840.5,1041.6 L841.6,1041.5 L842.7,1041.4 L843.9,1041.3 L845.0,1041.2 L846.1,1041.1 L847.2,1041.0 L848.4,1040.9 L849.5,1040.8 L850.6,1040.7 L851.7,1040.7 L852.9,1040.6 L854.0,1040.6 L855.1,1040.6 L856.2,1040.5 L857.3,1040.5 L858.5,1040.4 L859.6,1040.3 L860.7,1040.2 L861.8,1040.1 L863.0,1040.0 L864.1,1039.8 L865.2,1039.6 L866.3,1039.3 L867.5,1039.0 L868.6,1038.7 L869.7,1038.3 L870.8,1037.9 L872.0,1037.4 L873.1,1037.0 L874.2,1036.5 L875.3,1035.9 L876.5,1035.4 L877.6,1034.8 L878.7,1034.2 L879.8,1033.7 L880.9,1033.1 L882.1,1032.5 L883.2,1031.9 L884.3,1031.4 L885.4,1030.8 L886.6,1030.3 L887.7,1029.8 L888.8,1029.3 L889.9,1028.8 L891.1,1028.4 L892.2,1028.0 L893.3,1027.7 L894.4,1027.3 L895.6,1027.0 L896.7,1026.8 L897.8,1026.5 L898.9,1026.3 L900.1,1026.0 L901.2,1025.8 L902.3,1025.6 L903.4,1025.3 L904.6,1025.1 L905.7,1024.8 L906.8,1024.5 L907.9,1024.1 L909.0,1023.8 L910.2,1023.4 L911.3,1023.0 L912.4,1022.5 L913.5,1022.1 L914.7,1021.6 L915.8,1021.2 L916.9,1020.7 L918.0,1020.2 L919.2,1019.7 L920.3,1019.1 L921.4,1018.6 L922.5,1018.1 L923.7,1017.6 L924.8,1017.1 L925.9,1016.7 L927.0,1016.2 L928.2,1015.8 L929.3,1015.5 L930.4,1015.1 L931.5,1014.8 L932.6,1014.5 L933.8,1014.3 L934.9,1014.1 L936.0,1013.9 L937.1,1013.7 L938.3,1013.6 L939.4,1013.5 L940.5,1013.4 L941.6,1013.3 L942.8,1013.3 L943.9,1013.3 L945.0,1013.3 L946.1,1013.3 L947.3,1013.3 L948.4,1013.3 L949.5,1013.4 L950.6,1013.4 L951.8,1013.5 L952.9,1013.6 L954.0,1013.7 L955.1,1013.8 L956.2,1013.9 L957.4,1014.0 L958.5,1014.0 L959.6,1014.1 L960.7,1014.1 L961.9,1014.0 L963.0,1014.0 L964.1,1013.9 L965.2,1013.7 L966.4,1013.6 L967.5,1013.5 L968.6,1013.3 L969.7,1013.2 L970.9,1013.1 L972.0,1013.0 L973.1,1012.9 L974.2,1012.9 L975.4,1012.9 L976.5,1012.9 L977.6,1013.0 L978.7,1013.1 L979.9,1013.3 L981.0,1013.4 L982.1,1013.6 L983.2,1013.8 L984.3,1014.0 L985.5,1014.3 L986.6,1014.5 L987.7,1014.7 L988.8,1014.9 L990.0,1015.0 L991.1,1015.0 L992.2,1014.9 L993.3,1014.7 L994.5,1014.4 L995.6,1014.1 L996.7,1013.7 L997.8,1013.2 L999.0,1012.8 L1000.1,1012.4 L1001.2,1012.0 L1002.3,1011.7 L1003.5,1011.5 L1004.6,1011.3 L1005.7,1011.2 L1006.8,1011.1 L1007.9,1011.1 L1009.1,1011.1 L1010.2,1011.1 L1011.3,1011.2 L1012.4,1011.3 L1013.6,1011.4 L1014.7,1011.5 L1015.8,1011.6 L1016.9,1011.7 L1018.1,1011.8 L1019.2,1011.9 L1020.3,1012.0 L1021.4,1012.0 L1022.6,1012.1 L1023.7,1012.1 L1024.8,1012.0 L1025.9,1012.0 L1027.1,1011.9 L1028.2,1011.8 L1029.3,1011.7 L1030.4,1011.6 L1031.5,1011.5 L1032.7,1011.4 L1033.8,1011.3 L1034.9,1011.2 L1036.0,1011.1 L1037.2,1011.1 L1038.3,1011.0 L1039.4,1010.9 L1040.5,1010.8 L1041.7,1010.7 L1042.8,1010.6 L1043.9,1010.4 L1045.0,1010.2 L1046.2,1010.0 L1047.3,1009.7 L1048.4,1009.3 L1049.5,1008.9 L1050.7,1008.5 L1051.8,1008.1 L1052.9,1007.7 L1054.0,1007.3 L1055.2,1007.0 L1056.3,1006.6 L1057.4,1006.3 L1058.5,1006.0 L1059.6,1005.8 L1060.8,1005.6 L1061.9,1005.4 L1063.0,1005.2 L1064.1,1005.0 L1065.3,1004.9 L1066.4,1004.7 L1067.5,1004.6 L1068.6,1004.4 L1069.8,1004.3 L1070.9,1004.1 L1072.0,1004.0 L1073.1,1003.8 L1074.3,1003.6 L1075.4,1003.5 L1076.5,1003.3 L1077.6,1003.1 L1078.8,1002.9 L1079.9,1002.7 L1081.0,1002.5 L1082.1,1002.3 L1083.2,1002.2 L1084.4,1002.0 L1085.5,1001.9 L1086.6,1001.8 L1087.7,1001.7 L1088.9,1001.7 L1090.0,1001.8 L1091.1,1001.9 L1092.2,1002.0 L1093.4,1002.2 L1094.5,1002.3 L1095.6,1002.5 L1096.7,1002.7 L1097.9,1002.8 L1099.0,1002.9 L1100.1,1002.9 L1101.2,1002.9 L1102.4,1002.8 L1103.5,1002.6 L1104.6,1002.3 L1105.7,1002.0 L1106.8,1001.7 L1108.0,1001.4 L1109.1,1001.0 L1110.2,1000.7 L1111.3,1000.4 L1112.5,1000.1 L1113.6,999.8 L1114.7,999.6 L1115.8,999.4 L1117.0,999.2 L1118.1,999.0 L1119.2,998.8 L1120.3,998.7 L1121.5,998.5 L1122.6,998.3 L1123.7,998.1 L1124.8,997.9 L1126.0,997.6 L1127.1,997.3 L1128.2,997.0 L1129.3,996.7 L1130.4,996.4 L1131.6,996.1 L1132.7,995.8 L1133.8,995.6 L1134.9,995.3 L1136.1,995.0 L1137.2,994.8 L1138.3,994.5 L1139.4,994.3 L1140.6,994.1 L1141.7,993.9 L1142.8,993.8 L1143.9,993.6 L1145.1,993.5 L1146.2,993.4 L1147.3,993.3 L1148.4,993.2 L1149.6,993.2 L1150.7,993.1 L1151.8,993.1 L1152.9,993.1 L1154.1,993.2 L1155.2,993.3 L1156.3,993.4 L1157.4,993.5 L1158.5,993.7 L1159.7,993.9 L1160.8,994.1 L1161.9,994.4 L1163.0,994.7 L1164.2,995.0 L1165.3,995.4 L1166.4,995.9 L1167.5,996.3 L1168.7,996.8 L1169.8,997.4 L1170.9,997.9 L1172.0,998.5 L1173.2,999.1 L1174.3,999.8 L1175.4,1000.4 L1176.5,1001.1 L1177.7,1001.7 L1178.8,1002.4 L1179.9,1003.1 L1181.0,1003.8 L1182.1,1004.5 L1183.3,1005.2 L1184.4,1005.9 L1185.5,1006.7 L1186.6,1007.4 L1187.8,1008.1 L1188.9,1008.9 L1190.0,1009.6 L1191.1,1010.3 L1192.3,1011.0 L1193.4,1011.6 L1194.5,1012.3 L1195.6,1012.8 L1196.8,1013.4 L1197.9,1013.8 L1199.0,1014.3 L1200.1,1014.7 L1201.3,1015.1 L1202.4,1015.4 L1203.5,1015.8 L1204.6,1016.1 L1205.7,1016.4 L1206.9,1016.8 L1208.0,1017.2 L1209.1,1017.5 L1210.2,1017.9 L1211.4,1018.4 L1212.5,1018.9 L1213.6,1019.4 L1214.7,1019.9 L1215.9,1020.5 L1217.0,1021.2 L1218.1,1021.9 L1219.2,1022.6 L1220.4,1023.4 L1221.5,1024.3 L1222.6,1025.1 L1223.7,1026.0 L1224.9,1026.9 L1226.0,1027.8 L1227.1,1028.7 L1228.2,1029.5 L1229.4,1030.3 L1230.5,1031.0 L1231.6,1031.7 L1232.7,1032.4 L1233.8,1033.0 L1235.0,1033.5 L1236.1,1034.1 L1237.2,1034.6 L1238.3,1035.0 L1239.5,1035.4 L1240.6,1035.8 L1241.7,1036.2 L1242.8,1036.5 L1244.0,1036.9 L1245.1,1037.2 L1246.2,1037.4 L1247.3,1037.7 L1248.5,1037.9 L1249.6,1038.2 L1250.7,1038.4 L1251.8,1038.6 L1253.0,1038.8 L1254.1,1039.0 L1255.2,1039.1 L1256.3,1039.3 L1257.4,1039.4 L1258.6,1039.6 L1259.7,1039.7 L1260.8,1039.8 L1261.9,1039.9 L1263.1,1039.9 L1264.2,1040.0 L1265.3,1040.0 L1266.4,1040.0 L1267.6,1040.0 L1268.7,1040.0 L1269.8,1040.0 L1270.9,1040.0 L1272.1,1040.0 L1273.2,1040.0 L1274.3,1040.0 L1275.4,1039.9 L1276.6,1039.9 L1277.7,1039.9 L1278.8,1039.9 L1279.9,1039.9 L1281.0,1039.9 L1282.2,1039.9 L1283.3,1039.9 L1284.4,1040.0 L1285.5,1040.0 L1286.7,1040.1 L1287.8,1040.2 L1288.9,1040.2 L1290.0,1040.3 L1291.2,1040.4 L1292.3,1040.5 L1293.4,1040.6 L1294.5,1040.6 L1295.7,1040.7 L1296.8,1040.8 L1297.9,1040.9 L1299.0,1040.9 L1300.2,1041.0 L1301.3,1041.1 L1302.4,1041.1 L1303.5,1041.2 L1304.6,1041.2 L1305.8,1041.3 L1306.9,1041.3 L1308.0,1041.3 L1309.1,1041.3 L1310.3,1041.3 L1311.4,1041.3 L1312.5,1041.3 L1313.6,1041.2 L1314.8,1041.2 L1315.9,1041.1 L1317.0,1041.1 L1318.1,1041.0 L1319.3,1041.0 L1320.4,1040.9 L1321.5,1040.9 L1322.6,1040.8 L1323.8,1040.7 L1324.9,1040.7 L1326.0,1040.6 L1327.1,1040.6 L1328.3,1040.5 L1329.4,1040.5 L1330.5,1040.4 L1331.6,1040.4 L1332.7,1040.3 L1333.9,1040.3 L1335.0,1040.2 L1336.1,1040.2 L1337.2,1040.1 L1338.4,1040.0 L1339.5,1040.0 L1340.6,1039.9 L1341.7,1039.8 L1342.9,1039.7 L1344.0,1039.7 L1345.1,1039.6 L1346.2,1039.5 L1347.4,1039.4 L1348.5,1039.3 L1349.6,1039.2 L1350.7,1039.0 L1351.9,1038.9 L1353.0,1038.8 L1354.1,1038.6 L1355.2,1038.5 L1356.3,1038.3 L1357.5,1038.1 L1358.6,1038.0" fill="none" stroke="#2ca02c" stroke-width="3.2" stroke-linejoin="round" stroke-linecap="round" />
<path d="M797.8,1024.6 L798.9,1024.3 L800.0,1024.1 L801.2,1023.8 L802.3,1023.7 L803.4,1023.5 L804.5,1023.4 L805.7,1023.3 L806.8,1023.3 L807.9,1023.2 L809.0,1023.2 L810.1,1023.2 L811.3,1023.2 L812.4,1023.3 L813.5,1023.3 L814.6,1023.4 L815.8,1023.5 L816.9,1023.5 L818.0,1023.6 L819.1,1023.7 L820.3,1023.8 L821.4,1023.9 L822.5,1024.0 L823.6,1024.1 L824.8,1024.2 L825.9,1024.3 L827.0,1024.3 L828.1,1024.3 L829.3,1024.4 L830.4,1024.3 L831.5,1024.3 L832.6,1024.2 L833.7,1024.1 L834.9,1023.9 L836.0,1023.7 L837.1,1023.4 L838.2,1023.0 L839.4,1022.4 L840.5,1021.8 L841.6,1021.0 L842.7,1020.0 L843.9,1018.9 L845.0,1017.6 L846.1,1016.1 L847.2,1014.4 L848.4,1012.5 L849.5,1010.4 L850.6,1008.0 L851.7,1005.5 L852.9,1002.7 L854.0,999.7 L855.1,996.4 L856.2,992.9 L857.3,989.0 L858.5,984.9 L859.6,980.5 L860.7,975.8 L861.8,970.9 L863.0,965.7 L864.1,960.3 L865.2,954.8 L866.3,949.1 L867.5,943.4 L868.6,937.5 L869.7,931.6 L870.8,925.6 L872.0,919.6 L873.1,913.6 L874.2,907.5 L875.3,901.4 L876.5,895.3 L877.6,889.2 L878.7,883.2 L879.8,877.1 L880.9,871.1 L882.1,865.2 L883.2,859.3 L884.3,853.5 L885.4,847.8 L886.6,842.2 L887.7,836.8 L888.8,831.5 L889.9,826.4 L891.1,821.5 L892.2,816.8 L893.3,812.3 L894.4,808.0 L895.6,804.0 L896.7,800.1 L897.8,796.5 L898.9,793.1 L900.1,789.9 L901.2,786.9 L902.3,784.1 L903.4,781.5 L904.6,779.1 L905.7,776.8 L906.8,774.6 L907.9,772.5 L909.0,770.5 L910.2,768.6 L911.3,766.7 L912.4,764.9 L913.5,763.1 L914.7,761.4 L915.8,759.7 L916.9,757.9 L918.0,756.3 L919.2,754.6 L920.3,753.0 L921.4,751.4 L922.5,749.8 L923.7,748.2 L924.8,746.6 L925.9,745.1 L927.0,743.7 L928.2,742.4 L929.3,741.2 L930.4,740.1 L931.5,739.2 L932.6,738.5 L933.8,738.0 L934.9,737.6 L936.0,737.4 L937.1,737.3 L938.3,737.4 L939.4,737.5 L940.5,737.8 L941.6,738.1 L942.8,738.6 L943.9,739.2 L945.0,739.8 L946.1,740.6 L947.3,741.4 L948.4,742.4 L949.5,743.4 L950.6,744.5 L951.8,745.7 L952.9,746.9 L954.0,748.2 L955.1,749.6 L956.2,750.9 L957.4,752.3 L958.5,753.7 L959.6,755.1 L960.7,756.5 L961.9,757.9 L963.0,759.3 L964.1,760.6 L965.2,761.9 L966.4,763.2 L967.5,764.4 L968.6,765.5 L969.7,766.6 L970.9,767.6 L972.0,768.5 L973.1,769.4 L974.2,770.2 L975.4,771.0 L976.5,771.6 L977.6,772.3 L978.7,772.9 L979.9,773.4 L981.0,773.9 L982.1,774.4 L983.2,774.8 L984.3,775.2 L985.5,775.6 L986.6,775.9 L987.7,776.3 L988.8,776.6 L990.0,776.9 L991.1,777.1 L992.2,777.4 L993.3,777.6 L994.5,777.8 L995.6,778.0 L996.7,778.1 L997.8,778.3 L999.0,778.4 L1000.1,778.4 L1001.2,778.4 L1002.3,778.4 L1003.5,778.3 L1004.6,778.2 L1005.7,778.0 L1006.8,777.7 L1007.9,777.4 L1009.1,777.1 L1010.2,776.6 L1011.3,776.1 L1012.4,775.6 L1013.6,774.9 L1014.7,774.2 L1015.8,773.4 L1016.9,772.6 L1018.1,771.7 L1019.2,770.7 L1020.3,769.7 L1021.4,768.7 L1022.6,767.6 L1023.7,766.6 L1024.8,765.5 L1025.9,764.4 L1027.1,763.4 L1028.2,762.4 L1029.3,761.3 L1030.4,760.3 L1031.5,759.3 L1032.7,758.4 L1033.8,757.4 L1034.9,756.5 L1036.0,755.5 L1037.2,754.6 L1038.3,753.7 L1039.4,752.8 L1040.5,752.0 L1041.7,751.1 L1042.8,750.3 L1043.9,749.6 L1045.0,748.9 L1046.2,748.2 L1047.3,747.6 L1048.4,747.1 L1049.5,746.6 L1050.7,746.2 L1051.8,745.8 L1052.9,745.5 L1054.0,745.3 L1055.2,745.1 L1056.3,745.0 L1057.4,744.9 L1058.5,744.9 L1059.6,744.9 L1060.8,745.0 L1061.9,745.1 L1063.0,745.2 L1064.1,745.4 L1065.3,745.6 L1066.4,745.8 L1067.5,745.9 L1068.6,746.1 L1069.8,746.2 L1070.9,746.3 L1072.0,746.3 L1073.1,746.3 L1074.3,746.2 L1075.4,746.0 L1076.5,745.8 L1077.6,745.5 L1078.8,745.1 L1079.9,744.7 L1081.0,744.2 L1082.1,743.6 L1083.2,742.9 L1084.4,742.2 L1085.5,741.3 L1086.6,740.4 L1087.7,739.4 L1088.9,738.4 L1090.0,737.3 L1091.1,736.1 L1092.2,734.9 L1093.4,733.6 L1094.5,732.3 L1095.6,730.9 L1096.7,729.5 L1097.9,728.1 L1099.0,726.6 L1100.1,725.1 L1101.2,723.6 L1102.4,722.0 L1103.5,720.4 L1104.6,718.8 L1105.7,717.1 L1106.8,715.5 L1108.0,713.8 L1109.1,712.1 L1110.2,710.3 L1111.3,708.6 L1112.5,706.9 L1113.6,705.2 L1114.7,703.5 L1115.8,701.8 L1117.0,700.2 L1118.1,698.6 L1119.2,697.1 L1120.3,695.6 L1121.5,694.1 L1122.6,692.7 L1123.7,691.3 L1124.8,689.9 L1126.0,688.6 L1127.1,687.3 L1128.2,686.0 L1129.3,684.7 L1130.4,683.4 L1131.6,682.1 L1132.7,680.9 L1133.8,679.8 L1134.9,678.7 L1136.1,677.7 L1137.2,676.9 L1138.3,676.1 L1139.4,675.6 L1140.6,675.2 L1141.7,674.9 L1142.8,674.9 L1143.9,674.9 L1145.1,675.2 L1146.2,675.5 L1147.3,676.0 L1148.4,676.7 L1149.6,677.4 L1150.7,678.3 L1151.8,679.3 L1152.9,680.4 L1154.1,681.6 L1155.2,682.9 L1156.3,684.3 L1157.4,685.9 L1158.5,687.6 L1159.7,689.3 L1160.8,691.2 L1161.9,693.1 L1163.0,695.1 L1164.2,697.1 L1165.3,699.2 L1166.4,701.3 L1167.5,703.5 L1168.7,705.7 L1169.8,707.9 L1170.9,710.2 L1172.0,712.5 L1173.2,714.9 L1174.3,717.3 L1175.4,719.9 L1176.5,722.4 L1177.7,725.0 L1178.8,727.7 L1179.9,730.4 L1181.0,733.1 L1182.1,735.8 L1183.3,738.6 L1184.4,741.5 L1185.5,744.3 L1186.6,747.3 L1187.8,750.4 L1188.9,753.5 L1190.0,756.8 L1191.1,760.2 L1192.3,763.8 L1193.4,767.4 L1194.5,771.2 L1195.6,775.0 L1196.8,778.9 L1197.9,782.8 L1199.0,786.8 L1200.1,790.8 L1201.3,794.8 L1202.4,798.9 L1203.5,803.0 L1204.6,807.2 L1205.7,811.4 L1206.9,815.7 L1208.0,820.1 L1209.1,824.6 L1210.2,829.1 L1211.4,833.6 L1212.5,838.2 L1213.6,842.7 L1214.7,847.2 L1215.9,851.6 L1217.0,856.0 L1218.1,860.3 L1219.2,864.5 L1220.4,868.6 L1221.5,872.6 L1222.6,876.5 L1223.7,880.3 L1224.9,883.9 L1226.0,887.5 L1227.1,891.0 L1228.2,894.3 L1229.4,897.6 L1230.5,900.8 L1231.6,903.9 L1232.7,907.0 L1233.8,910.0 L1235.0,912.9 L1236.1,915.8 L1237.2,918.6 L1238.3,921.3 L1239.5,923.9 L1240.6,926.4 L1241.7,928.8 L1242.8,931.1 L1244.0,933.4 L1245.1,935.5 L1246.2,937.6 L1247.3,939.6 L1248.5,941.6 L1249.6,943.5 L1250.7,945.4 L1251.8,947.3 L1253.0,949.1 L1254.1,951.0 L1255.2,952.7 L1256.3,954.5 L1257.4,956.2 L1258.6,957.8 L1259.7,959.5 L1260.8,961.0 L1261.9,962.5 L1263.1,964.0 L1264.2,965.4 L1265.3,966.7 L1266.4,968.0 L1267.6,969.2 L1268.7,970.3 L1269.8,971.4 L1270.9,972.4 L1272.1,973.3 L1273.2,974.1 L1274.3,974.9 L1275.4,975.5 L1276.6,976.1 L1277.7,976.6 L1278.8,976.9 L1279.9,977.2 L1281.0,977.3 L1282.2,977.3 L1283.3,977.1 L1284.4,976.9 L1285.5,976.5 L1286.7,976.1 L1287.8,975.7 L1288.9,975.2 L1290.0,974.8 L1291.2,974.4 L1292.3,974.1 L1293.4,973.9 L1294.5,973.8 L1295.7,973.8 L1296.8,973.9 L1297.9,974.0 L1299.0,974.3 L1300.2,974.5 L1301.3,974.9 L1302.4,975.2 L1303.5,975.6 L1304.6,976.0 L1305.8,976.4 L1306.9,976.8 L1308.0,977.3 L1309.1,977.7 L1310.3,978.2 L1311.4,978.8 L1312.5,979.4 L1313.6,980.1 L1314.8,980.9 L1315.9,981.7 L1317.0,982.5 L1318.1,983.4 L1319.3,984.2 L1320.4,985.1 L1321.5,986.0 L1322.6,986.9 L1323.8,987.7 L1324.9,988.4 L1326.0,989.0 L1327.1,989.4 L1328.3,989.8 L1329.4,989.9 L1330.5,990.0 L1331.6,990.0 L1332.7,990.0 L1333.9,989.9 L1335.0,989.8 L1336.1,989.8 L1337.2,989.8 L1338.4,989.9 L1339.5,990.0 L1340.6,990.3 L1341.7,990.6 L1342.9,991.0 L1344.0,991.4 L1345.1,991.9 L1346.2,992.5 L1347.4,993.1 L1348.5,993.8 L1349.6,994.5 L1350.7,995.2 L1351.9,996.0 L1353.0,996.7 L1354.1,997.6 L1355.2,998.4 L1356.3,999.2 L1357.5,1000.1 L1358.6,1000.9" fill="none" stroke="#1f77b4" stroke-width="3.2" stroke-linejoin="round" stroke-linecap="round" />
<rect x="798.1" y="579.6" width="560.6" height="462.7" fill="none" stroke="#000" stroke-width="2.2"/>
<line x1="877.8" y1="1042.3" x2="877.8" y2="1050.7" stroke="#000" stroke-width="2" />
<line x1="1038.1" y1="1042.3" x2="1038.1" y2="1050.7" stroke="#000" stroke-width="2" />
<line x1="1198.4" y1="1042.3" x2="1198.4" y2="1050.7" stroke="#000" stroke-width="2" />
<line x1="1358.7" y1="1042.3" x2="1358.7" y2="1050.7" stroke="#000" stroke-width="2" />
<line x1="797.6" y1="1042.3" x2="797.6" y2="1046.7" stroke="#000" stroke-width="2" />
<line x1="957.9" y1="1042.3" x2="957.9" y2="1046.7" stroke="#000" stroke-width="2" />
<line x1="1118.2" y1="1042.3" x2="1118.2" y2="1046.7" stroke="#000" stroke-width="2" />
<line x1="1278.5" y1="1042.3" x2="1278.5" y2="1046.7" stroke="#000" stroke-width="2" />
<text x="877.8" y="1076" font-size="23" text-anchor="middle" font-weight="bold" fill="#000" >400</text>
<text x="1038.1" y="1076" font-size="23" text-anchor="middle" font-weight="bold" fill="#000" >500</text>
<text x="1198.4" y="1076" font-size="23" text-anchor="middle" font-weight="bold" fill="#000" >600</text>
<text x="1358.7" y="1076" font-size="23" text-anchor="middle" font-weight="bold" fill="#000" >700</text>
<line x1="789.7" y1="1042.3" x2="798.1" y2="1042.3" stroke="#000" stroke-width="2" />
<line x1="789.7" y1="910.1" x2="798.1" y2="910.1" stroke="#000" stroke-width="2" />
<line x1="789.7" y1="778" x2="798.1" y2="778" stroke="#000" stroke-width="2" />
<line x1="789.7" y1="645.8" x2="798.1" y2="645.8" stroke="#000" stroke-width="2" />
<line x1="793.7" y1="976.2" x2="798.1" y2="976.2" stroke="#000" stroke-width="2" />
<line x1="793.7" y1="844.1" x2="798.1" y2="844.1" stroke="#000" stroke-width="2" />
<line x1="793.7" y1="711.9" x2="798.1" y2="711.9" stroke="#000" stroke-width="2" />
<line x1="793.7" y1="579.7" x2="798.1" y2="579.7" stroke="#000" stroke-width="2" />
<text x="782.3" y="1048.7" font-size="23" text-anchor="end" font-weight="bold" fill="#000" >0</text>
<text x="782.3" y="916.5" font-size="23" text-anchor="end" font-weight="bold" fill="#000" >20</text>
<text x="782.3" y="784.4" font-size="23" text-anchor="end" font-weight="bold" fill="#000" >40</text>
<text x="782.3" y="652.2" font-size="23" text-anchor="end" font-weight="bold" fill="#000" >60</text>
<text x="704.8" y="604.8" font-size="38" text-anchor="start" font-weight="bold" fill="#000" >(e)</text>
<text x="1097.7" y="1105.8" font-size="30" text-anchor="middle" font-weight="bold" fill="#000" >Wavelength (nm)</text>
<text transform="translate(742,812) rotate(-90)" font-size="29.9" font-weight="bold" text-anchor="middle">Photovoltage (<tspan font-family="Liberation Serif" font-weight="normal">μ</tspan>V)</text>
<line x1="1124.3" y1="605.7" x2="1184.4" y2="605.7" stroke="#2ca02c" stroke-width="3" />
<line x1="1124.3" y1="641.4" x2="1184.4" y2="641.4" stroke="#1f77b4" stroke-width="3" />
<text x="1190.5" y="613.2" font-size="25" text-anchor="start" font-weight="bold" fill="#000" >SADF</text>
<text x="1190.5" y="650" font-size="25.5" font-weight="bold">SA-SADF-H<tspan dy="-10" font-size="17">+</tspan></text>
<text x="1119.1" y="960" font-size="25.7" text-anchor="middle" font-weight="bold" fill="#ff1a1a" >9.4 times</text>
<line x1="1188" y1="988" x2="1188" y2="890" stroke="#ff1a1a" stroke-width="3"/>
<polygon points="1188,873 1182,893 1194,893" fill="#ff1a1a"/>
<defs><radialGradient id="glow" cx="0.5" cy="0.5" r="0.5"><stop offset="0" stop-color="#fbf3a0" stop-opacity="1"/><stop offset="0.6" stop-color="#fbf3a8" stop-opacity="0.8"/><stop offset="1" stop-color="#fdf8d0" stop-opacity="0"/></radialGradient><linearGradient id="bolt" x1="0" y1="0" x2="0.35" y2="1"><stop offset="0" stop-color="#ee2020"/><stop offset="0.3" stop-color="#f8a020"/><stop offset="0.5" stop-color="#e8d020"/><stop offset="0.7" stop-color="#40c040"/><stop offset="1" stop-color="#1070c0"/></linearGradient></defs>
<circle cx="974.5" cy="817" r="27" fill="url(#glow)"/>
<polygon points="981.5,892.8 1016.7,861.6 1014.9,871.7 979.8,904.3" fill="#2a4a8a"/>
<polygon points="934.1,892.8 981.5,892.8 979.8,904.3 930.1,904.3" fill="#5b8de0"/>
<polygon points="981.5,881.4 1008.8,858.6 1007.9,866 979.8,892" fill="#b08810"/>
<polygon points="937.6,881.4 981.5,881.4 979.8,892 937.6,892" fill="#f8cc10"/>
<polygon points="986.8,868.2 1021.1,836.1 1019.4,846.2 985,879.6" fill="#2a4a8a"/>
<polygon points="937.6,868.2 986.8,868.2 985,879.6 934.1,879.6" fill="#5582d4"/>
<polygon points="937.6,868.2 971.9,836.1 1021.1,836.1 986.8,868.2" fill="#5b8de0"/>
<polygon points="957.8,806.3 971,798.3 977.1,810.7 973.6,812 983.3,823.8 979.8,825.2 992.1,843.6 975.4,830.4 978.9,829.1 967.5,818.1 971,816.4" fill="url(#bolt)"/>
<path d="M1003.5,855.5H1050M1004.4,880.5H1050M1028.5,880.5V890.6M1015.4,890.6H1041.7" stroke="#000" stroke-width="2" fill="none"/>
<path d="M1022.4,896.8H1035.1" stroke="#000" stroke-width="2.6"/>
<polygon points="1057.1,855.5 1049,851 1049,860" fill="#000"/><polygon points="1057.1,880.5 1049,876 1049,885" fill="#000"/>
<text x="993" y="820.8" font-size="19" text-anchor="start" font-weight="bold" fill="#000" >ITO glass</text>
<text x="989.4" y="918.8" font-size="18.8" text-anchor="start" font-weight="bold" fill="#000" >To amplifer</text>
<defs><clipPath id="hg"><polygon points="1604.3,989.1 1606.3,988.7 1608.3,988.3 1610.2,987.9 1612.2,987.5 1614.2,987.1 1616.2,986.7 1618.1,986.4 1620.1,986.2 1622.1,985.9 1624.1,985.7 1626.0,985.5 1628.0,985.3 1630.0,985.2 1632.0,985.0 1633.9,984.9 1635.9,984.8 1637.9,984.6 1639.9,984.5 1641.8,984.4 1643.8,984.3 1645.8,984.2 1647.8,984.1 1649.7,984.0 1651.7,983.8 1653.7,983.7 1655.7,983.6 1657.6,983.5 1659.6,983.4 1661.6,983.3 1663.6,983.2 1665.5,983.1 1667.5,983.0 1669.5,982.9 1671.5,982.8 1673.4,982.7 1675.4,982.6 1677.4,982.5 1679.4,982.4 1681.3,982.3 1683.3,982.2 1685.3,982.1 1687.3,982.0 1689.3,981.9 1691.2,981.8 1693.2,981.8 1695.2,981.7 1697.2,981.6 1699.1,981.5 1701.1,981.4 1703.1,981.3 1705.1,981.2 1707.0,981.1 1709.0,981.0 1711.0,980.9 1713.0,980.8 1714.9,980.7 1716.9,980.6 1718.9,980.5 1720.9,980.4 1722.8,980.3 1724.8,980.2 1726.8,980.1 1728.8,980.0 1730.7,979.9 1732.7,979.8 1734.7,979.7 1736.7,979.6 1738.6,979.5 1740.6,979.4 1742.6,979.3 1744.6,979.2 1746.5,979.1 1748.5,979.0 1750.5,978.9 1752.5,978.8 1754.4,978.7 1756.4,978.7 1758.4,978.6 1760.4,978.5 1762.4,978.4 1764.3,978.3 1766.3,978.2 1768.3,978.1 1770.3,978.1 1772.2,978.0 1774.2,977.9 1776.2,977.8 1778.2,977.7 1780.1,977.7 1782.1,977.6 1784.1,977.5 1786.1,977.5 1788.0,977.4 1790.0,977.4 1792.0,977.3 1794.0,977.3 1795.9,977.2 1797.9,977.1 1799.9,977.1 1801.9,977.0 1803.8,977.0 1805.8,976.9 1807.8,976.9 1809.8,976.8 1811.7,976.8 1813.7,976.7 1815.7,976.7 1817.7,976.7 1819.6,976.6 1821.6,976.6 1823.6,976.5 1825.6,976.5 1827.5,976.5 1829.5,976.4 1831.5,976.4 1833.5,976.4 1835.4,976.3 1837.4,976.3 1839.4,976.3 1839.4,989.8 1604.3,989.8"/></clipPath></defs>
<path d="M1590.8,989.8L1604.3,976.3M1600.8,989.8L1614.3,976.3M1610.8,989.8L1624.3,976.3M1620.8,989.8L1634.3,976.3M1630.8,989.8L1644.3,976.3M1640.8,989.8L1654.3,976.3M1650.8,989.8L1664.3,976.3M1660.8,989.8L1674.3,976.3M1670.8,989.8L1684.3,976.3M1680.8,989.8L1694.3,976.3M1690.8,989.8L1704.3,976.3M1700.8,989.8L1714.3,976.3M1710.8,989.8L1724.3,976.3M1720.8,989.8L1734.3,976.3M1730.8,989.8L1744.3,976.3M1740.8,989.8L1754.3,976.3M1750.8,989.8L1764.3,976.3M1760.8,989.8L1774.3,976.3M1770.8,989.8L1784.3,976.3M1780.8,989.8L1794.3,976.3M1790.8,989.8L1804.3,976.3M1800.8,989.8L1814.3,976.3M1810.8,989.8L1824.3,976.3M1820.8,989.8L1834.3,976.3M1830.8,989.8L1844.3,976.3" stroke="#2ca02c" stroke-width="1.2" clip-path="url(#hg)"/>
<line x1="1604.3" y1="989.8" x2="1839.4" y2="989.8" stroke="#2ca02c" stroke-width="2" stroke-dasharray="2,5"/>
<defs><clipPath id="hr"><polygon points="1604.3,970.4 1606.3,965.5 1608.3,961.1 1610.2,957.4 1612.2,954.8 1614.2,952.9 1616.2,951.3 1618.1,949.9 1620.1,948.7 1622.1,947.7 1624.1,946.8 1626.0,945.9 1628.0,945.1 1630.0,944.4 1632.0,943.7 1633.9,943.1 1635.9,942.5 1637.9,941.9 1639.9,941.3 1641.8,940.8 1643.8,940.2 1645.8,939.7 1647.8,939.2 1649.7,938.7 1651.7,938.2 1653.7,937.8 1655.7,937.3 1657.6,936.9 1659.6,936.4 1661.6,936.0 1663.6,935.6 1665.5,935.2 1667.5,934.8 1669.5,934.4 1671.5,934.0 1673.4,933.7 1675.4,933.3 1677.4,933.0 1679.4,932.6 1681.3,932.3 1683.3,932.0 1685.3,931.6 1687.3,931.3 1689.3,931.0 1691.2,930.7 1693.2,930.4 1695.2,930.2 1697.2,929.9 1699.1,929.7 1701.1,929.4 1703.1,929.2 1705.1,929.0 1707.0,928.8 1709.0,928.6 1711.0,928.4 1713.0,928.2 1714.9,928.0 1716.9,927.8 1718.9,927.7 1720.9,927.5 1722.8,927.3 1724.8,927.1 1726.8,926.9 1728.8,926.6 1730.7,926.4 1732.7,926.2 1734.7,926.0 1736.7,925.8 1738.6,925.6 1740.6,925.4 1742.6,925.3 1744.6,925.1 1746.5,924.9 1748.5,924.8 1750.5,924.6 1752.5,924.5 1754.4,924.4 1756.4,924.2 1758.4,924.1 1760.4,924.0 1762.4,923.9 1764.3,923.7 1766.3,923.6 1768.3,923.5 1770.3,923.4 1772.2,923.3 1774.2,923.2 1776.2,923.1 1778.2,923.0 1780.1,922.9 1782.1,922.8 1784.1,922.7 1786.1,922.6 1788.0,922.5 1790.0,922.4 1792.0,922.4 1794.0,922.3 1795.9,922.2 1797.9,922.1 1799.9,922.0 1801.9,922.0 1803.8,921.9 1805.8,921.9 1807.8,921.8 1809.8,921.8 1811.7,921.8 1813.7,921.8 1815.7,921.8 1817.7,921.8 1819.6,921.8 1821.6,921.8 1823.6,921.8 1825.6,921.8 1827.5,921.8 1829.5,921.8 1831.5,921.8 1833.5,921.8 1835.4,921.8 1837.4,921.8 1839.4,921.8 1839.4,971.5 1604.3,971.5"/></clipPath></defs>
<path d="M1554.6,971.5L1604.3,921.8M1564.1,971.5L1613.8,921.8M1573.6,971.5L1623.3,921.8M1583.1,971.5L1632.8,921.8M1592.6,971.5L1642.3,921.8M1602.1,971.5L1651.8,921.8M1611.6,971.5L1661.3,921.8M1621.1,971.5L1670.8,921.8M1630.6,971.5L1680.3,921.8M1640.1,971.5L1689.8,921.8M1649.6,971.5L1699.3,921.8M1659.1,971.5L1708.8,921.8M1668.6,971.5L1718.3,921.8M1678.1,971.5L1727.8,921.8M1687.6,971.5L1737.3,921.8M1697.1,971.5L1746.8,921.8M1706.6,971.5L1756.3,921.8M1716.1,971.5L1765.8,921.8M1725.6,971.5L1775.3,921.8M1735.1,971.5L1784.8,921.8M1744.6,971.5L1794.3,921.8M1754.1,971.5L1803.8,921.8M1763.6,971.5L1813.3,921.8M1773.1,971.5L1822.8,921.8M1782.6,971.5L1832.3,921.8M1792.1,971.5L1841.8,921.8M1801.6,971.5L1851.3,921.8M1811.1,971.5L1860.8,921.8M1820.6,971.5L1870.3,921.8M1830.1,971.5L1879.8,921.8M1839.6,971.5L1889.3,921.8" stroke="#ff1a1a" stroke-width="1.2" clip-path="url(#hr)"/>
<line x1="1604.3" y1="971.5" x2="1839.4" y2="971.5" stroke="#ff1a1a" stroke-width="2" stroke-dasharray="2,5"/>
<defs><clipPath id="hb"><polygon points="1605.5,802.6 1607.5,799.6 1609.4,796.8 1611.4,794.0 1613.4,791.2 1615.3,788.6 1617.3,786.1 1619.3,783.6 1621.2,781.3 1623.2,779.0 1625.2,776.7 1627.1,774.5 1629.1,772.4 1631.1,770.2 1633.0,768.1 1635.0,766.0 1636.9,763.9 1638.9,761.9 1640.9,760.0 1642.8,758.2 1644.8,756.5 1646.8,755.0 1648.7,753.6 1650.7,752.2 1652.7,751.0 1654.6,749.8 1656.6,748.6 1658.6,747.4 1660.5,746.3 1662.5,745.2 1664.5,744.2 1666.4,743.1 1668.4,742.1 1670.4,741.2 1672.3,740.2 1674.3,739.3 1676.3,738.4 1678.2,737.5 1680.2,736.7 1682.2,735.9 1684.1,735.1 1686.1,734.4 1688.1,733.6 1690.0,732.9 1692.0,732.2 1693.9,731.5 1695.9,730.8 1697.9,730.2 1699.8,729.5 1701.8,728.9 1703.8,728.2 1705.7,727.6 1707.7,727.0 1709.7,726.4 1711.6,725.9 1713.6,725.3 1715.6,724.8 1717.5,724.3 1719.5,723.8 1721.5,723.3 1723.4,722.8 1725.4,722.3 1727.4,721.9 1729.3,721.4 1731.3,720.9 1733.3,720.4 1735.2,719.9 1737.2,719.4 1739.2,718.9 1741.1,718.5 1743.1,718.0 1745.1,717.5 1747.0,717.0 1749.0,716.5 1751.0,716.0 1752.9,715.5 1754.9,715.0 1756.8,714.5 1758.8,714.0 1760.8,713.5 1762.7,713.0 1764.7,712.5 1766.7,712.1 1768.6,711.7 1770.6,711.3 1772.6,710.9 1774.5,710.5 1776.5,710.1 1778.5,709.8 1780.4,709.4 1782.4,709.1 1784.4,708.8 1786.3,708.5 1788.3,708.2 1790.3,708.0 1792.2,707.7 1794.2,707.5 1796.2,707.2 1798.1,707.0 1800.1,706.8 1802.1,706.6 1804.0,706.4 1806.0,706.2 1808.0,705.9 1809.9,705.7 1811.9,705.5 1813.8,705.4 1815.8,705.2 1817.8,705.1 1819.7,705.0 1821.7,704.9 1823.7,704.9 1825.6,704.8 1827.6,704.8 1829.6,704.7 1831.5,704.7 1833.5,704.6 1835.5,704.6 1837.4,704.6 1839.4,704.6 1839.4,810.3 1605.5,810.3"/></clipPath></defs>
<path d="M1499.8,810.3L1605.5,704.6M1508.6,810.3L1614.3,704.6M1517.4,810.3L1623.1,704.6M1526.2,810.3L1631.9,704.6M1535.0,810.3L1640.7,704.6M1543.8,810.3L1649.5,704.6M1552.6,810.3L1658.3,704.6M1561.4,810.3L1667.1,704.6M1570.2,810.3L1675.9,704.6M1579.0,810.3L1684.7,704.6M1587.8,810.3L1693.5,704.6M1596.6,810.3L1702.3,704.6M1605.4,810.3L1711.1,704.6M1614.2,810.3L1719.9,704.6M1623.0,810.3L1728.7,704.6M1631.8,810.3L1737.5,704.6M1640.6,810.3L1746.3,704.6M1649.4,810.3L1755.1,704.6M1658.2,810.3L1763.9,704.6M1667.0,810.3L1772.7,704.6M1675.8,810.3L1781.5,704.6M1684.6,810.3L1790.3,704.6M1693.4,810.3L1799.1,704.6M1702.2,810.3L1807.9,704.6M1711.0,810.3L1816.7,704.6M1719.8,810.3L1825.5,704.6M1728.6,810.3L1834.3,704.6M1737.4,810.3L1843.1,704.6M1746.2,810.3L1851.9,704.6M1755.0,810.3L1860.7,704.6M1763.8,810.3L1869.5,704.6M1772.6,810.3L1878.3,704.6M1781.4,810.3L1887.1,704.6M1790.2,810.3L1895.9,704.6M1799.0,810.3L1904.7,704.6M1807.8,810.3L1913.5,704.6M1816.6,810.3L1922.3,704.6M1825.4,810.3L1931.1,704.6M1834.2,810.3L1939.9,704.6" stroke="#1f77b4" stroke-width="1.2" clip-path="url(#hb)"/>
<line x1="1605.5" y1="810.3" x2="1839.4" y2="810.3" stroke="#1f77b4" stroke-width="2" stroke-dasharray="2,5"/>
<path d="M1452.7,1039.8 L1457.9,1039.8 L1463.1,1039.8 L1468.2,1039.8 L1473.4,1039.8 L1478.6,1039.8 L1483.8,1039.8 L1489.0,1039.8 L1494.2,1039.8 L1499.3,1039.8 L1504.5,1039.8 L1509.7,1039.8 L1514.9,1039.8 L1520.1,1039.8 L1525.3,1039.8 L1530.4,1039.8 L1535.6,1039.8 L1540.8,1039.8 L1546.0,1039.8 L1551.2,1039.8 L1556.4,1039.8 L1561.5,1039.8 L1566.7,1039.8 L1571.9,1039.8 L1577.1,1039.8 L1582.3,1039.8 L1587.5,1039.8 L1592.6,1039.8 L1597.8,1039.8 L1603.0,1039.8 L1604.0,1039.8 L1604.3,989.1 L1606.3,988.7 L1608.3,988.3 L1610.2,987.9 L1612.2,987.5 L1614.2,987.1 L1616.2,986.7 L1618.1,986.4 L1620.1,986.2 L1622.1,985.9 L1624.1,985.7 L1626.0,985.5 L1628.0,985.3 L1630.0,985.2 L1632.0,985.0 L1633.9,984.9 L1635.9,984.8 L1637.9,984.6 L1639.9,984.5 L1641.8,984.4 L1643.8,984.3 L1645.8,984.2 L1647.8,984.1 L1649.7,984.0 L1651.7,983.8 L1653.7,983.7 L1655.7,983.6 L1657.6,983.5 L1659.6,983.4 L1661.6,983.3 L1663.6,983.2 L1665.5,983.1 L1667.5,983.0 L1669.5,982.9 L1671.5,982.8 L1673.4,982.7 L1675.4,982.6 L1677.4,982.5 L1679.4,982.4 L1681.3,982.3 L1683.3,982.2 L1685.3,982.1 L1687.3,982.0 L1689.3,981.9 L1691.2,981.8 L1693.2,981.8 L1695.2,981.7 L1697.2,981.6 L1699.1,981.5 L1701.1,981.4 L1703.1,981.3 L1705.1,981.2 L1707.0,981.1 L1709.0,981.0 L1711.0,980.9 L1713.0,980.8 L1714.9,980.7 L1716.9,980.6 L1718.9,980.5 L1720.9,980.4 L1722.8,980.3 L1724.8,980.2 L1726.8,980.1 L1728.8,980.0 L1730.7,979.9 L1732.7,979.8 L1734.7,979.7 L1736.7,979.6 L1738.6,979.5 L1740.6,979.4 L1742.6,979.3 L1744.6,979.2 L1746.5,979.1 L1748.5,979.0 L1750.5,978.9 L1752.5,978.8 L1754.4,978.7 L1756.4,978.7 L1758.4,978.6 L1760.4,978.5 L1762.4,978.4 L1764.3,978.3 L1766.3,978.2 L1768.3,978.1 L1770.3,978.1 L1772.2,978.0 L1774.2,977.9 L1776.2,977.8 L1778.2,977.7 L1780.1,977.7 L1782.1,977.6 L1784.1,977.5 L1786.1,977.5 L1788.0,977.4 L1790.0,977.4 L1792.0,977.3 L1794.0,977.3 L1795.9,977.2 L1797.9,977.1 L1799.9,977.1 L1801.9,977.0 L1803.8,977.0 L1805.8,976.9 L1807.8,976.9 L1809.8,976.8 L1811.7,976.8 L1813.7,976.7 L1815.7,976.7 L1817.7,976.7 L1819.6,976.6 L1821.6,976.6 L1823.6,976.5 L1825.6,976.5 L1827.5,976.5 L1829.5,976.4 L1831.5,976.4 L1833.5,976.4 L1835.4,976.3 L1837.4,976.3 L1839.4,976.3 L1840.5,979.3 L1842.1,1010.5 L1844.3,1011.8 L1846.5,1013.0 L1848.7,1014.2 L1850.9,1015.3 L1853.1,1016.3 L1855.3,1017.3 L1857.5,1018.3 L1859.7,1019.2 L1861.9,1020.1 L1864.1,1020.9 L1866.3,1021.7 L1868.6,1022.5 L1870.8,1023.2 L1873.0,1023.9 L1875.2,1024.6 L1877.4,1025.2 L1879.6,1025.8 L1881.8,1026.4 L1884.0,1026.9 L1886.2,1027.4 L1888.4,1027.9 L1890.6,1028.4 L1892.8,1028.9 L1895.0,1029.3 L1897.2,1029.7 L1899.4,1030.1 L1901.6,1030.5 L1903.8,1030.8 L1906.0,1031.2 L1908.3,1031.5 L1910.5,1031.8 L1912.7,1032.1 L1914.9,1032.4 L1917.1,1032.7 L1919.3,1032.9 L1921.5,1033.2 L1923.7,1033.4 L1925.9,1033.6 L1928.1,1033.8 L1930.3,1034.1 L1932.5,1034.2 L1934.7,1034.4 L1936.9,1034.6 L1939.1,1034.8 L1941.3,1034.9 L1943.5,1035.1 L1945.8,1035.2 L1948.0,1035.4 L1950.2,1035.5 L1952.4,1035.6 L1954.6,1035.8 L1956.8,1035.9 L1959.0,1036.0 L1961.2,1036.1 L1963.4,1036.2 L1965.6,1036.3 L1967.8,1036.4 L1970.0,1036.5 L1972.2,1036.6 L1974.4,1036.6 L1976.6,1036.7 L1978.8,1036.8 L1981.0,1036.9 L1983.3,1036.9 L1985.5,1037.0 L1987.7,1037.0 L1989.9,1037.1 L1992.1,1037.2 L1994.3,1037.2 L1996.5,1037.3 L1998.7,1037.3 L2000.9,1037.4 L2003.1,1037.4 L2005.3,1037.4 L2007.5,1037.5 L2009.7,1037.5 L2011.9,1037.5 L2014.1,1037.6 L2016.3,1037.6" fill="none" stroke="#2ca02c" stroke-width="3" stroke-linejoin="round" stroke-linecap="round" />
<path d="M1452.7,1039.8 L1457.9,1039.8 L1463.1,1039.8 L1468.2,1039.8 L1473.4,1039.8 L1478.6,1039.8 L1483.8,1039.8 L1489.0,1039.8 L1494.2,1039.8 L1499.3,1039.8 L1504.5,1039.8 L1509.7,1039.8 L1514.9,1039.8 L1520.1,1039.8 L1525.3,1039.8 L1530.4,1039.8 L1535.6,1039.8 L1540.8,1039.8 L1546.0,1039.8 L1551.2,1039.8 L1556.4,1039.8 L1561.5,1039.8 L1566.7,1039.8 L1571.9,1039.8 L1577.1,1039.8 L1582.3,1039.8 L1587.5,1039.8 L1592.6,1039.8 L1597.8,1039.8 L1603.0,1039.8 L1604.0,1039.8 L1604.3,970.4 L1606.3,965.5 L1608.3,961.1 L1610.2,957.4 L1612.2,954.8 L1614.2,952.9 L1616.2,951.3 L1618.1,949.9 L1620.1,948.7 L1622.1,947.7 L1624.1,946.8 L1626.0,945.9 L1628.0,945.1 L1630.0,944.4 L1632.0,943.7 L1633.9,943.1 L1635.9,942.5 L1637.9,941.9 L1639.9,941.3 L1641.8,940.8 L1643.8,940.2 L1645.8,939.7 L1647.8,939.2 L1649.7,938.7 L1651.7,938.2 L1653.7,937.8 L1655.7,937.3 L1657.6,936.9 L1659.6,936.4 L1661.6,936.0 L1663.6,935.6 L1665.5,935.2 L1667.5,934.8 L1669.5,934.4 L1671.5,934.0 L1673.4,933.7 L1675.4,933.3 L1677.4,933.0 L1679.4,932.6 L1681.3,932.3 L1683.3,932.0 L1685.3,931.6 L1687.3,931.3 L1689.3,931.0 L1691.2,930.7 L1693.2,930.4 L1695.2,930.2 L1697.2,929.9 L1699.1,929.7 L1701.1,929.4 L1703.1,929.2 L1705.1,929.0 L1707.0,928.8 L1709.0,928.6 L1711.0,928.4 L1713.0,928.2 L1714.9,928.0 L1716.9,927.8 L1718.9,927.7 L1720.9,927.5 L1722.8,927.3 L1724.8,927.1 L1726.8,926.9 L1728.8,926.6 L1730.7,926.4 L1732.7,926.2 L1734.7,926.0 L1736.7,925.8 L1738.6,925.6 L1740.6,925.4 L1742.6,925.3 L1744.6,925.1 L1746.5,924.9 L1748.5,924.8 L1750.5,924.6 L1752.5,924.5 L1754.4,924.4 L1756.4,924.2 L1758.4,924.1 L1760.4,924.0 L1762.4,923.9 L1764.3,923.7 L1766.3,923.6 L1768.3,923.5 L1770.3,923.4 L1772.2,923.3 L1774.2,923.2 L1776.2,923.1 L1778.2,923.0 L1780.1,922.9 L1782.1,922.8 L1784.1,922.7 L1786.1,922.6 L1788.0,922.5 L1790.0,922.4 L1792.0,922.4 L1794.0,922.3 L1795.9,922.2 L1797.9,922.1 L1799.9,922.0 L1801.9,922.0 L1803.8,921.9 L1805.8,921.9 L1807.8,921.8 L1809.8,921.8 L1811.7,921.8 L1813.7,921.8 L1815.7,921.8 L1817.7,921.8 L1819.6,921.8 L1821.6,921.8 L1823.6,921.8 L1825.6,921.8 L1827.5,921.8 L1829.5,921.8 L1831.5,921.8 L1833.5,921.8 L1835.4,921.8 L1837.4,921.8 L1839.4,921.8 L1840.5,924.8 L1842.1,1007.7 L1844.3,1008.7 L1846.5,1009.6 L1848.7,1010.5 L1850.9,1011.4 L1853.1,1012.2 L1855.3,1013.0 L1857.5,1013.7 L1859.7,1014.5 L1861.9,1015.2 L1864.1,1015.8 L1866.3,1016.5 L1868.6,1017.1 L1870.8,1017.7 L1873.0,1018.3 L1875.2,1018.8 L1877.4,1019.4 L1879.6,1019.9 L1881.8,1020.4 L1884.0,1020.9 L1886.2,1021.3 L1888.4,1021.7 L1890.6,1022.2 L1892.8,1022.6 L1895.0,1023.0 L1897.2,1023.3 L1899.4,1023.7 L1901.6,1024.0 L1903.8,1024.4 L1906.0,1024.7 L1908.3,1025.0 L1910.5,1025.3 L1912.7,1025.6 L1914.9,1025.9 L1917.1,1026.1 L1919.3,1026.4 L1921.5,1026.6 L1923.7,1026.9 L1925.9,1027.1 L1928.1,1027.3 L1930.3,1027.5 L1932.5,1027.7 L1934.7,1027.9 L1936.9,1028.1 L1939.1,1028.3 L1941.3,1028.4 L1943.5,1028.6 L1945.8,1028.8 L1948.0,1028.9 L1950.2,1029.1 L1952.4,1029.2 L1954.6,1029.3 L1956.8,1029.5 L1959.0,1029.6 L1961.2,1029.7 L1963.4,1029.8 L1965.6,1029.9 L1967.8,1030.1 L1970.0,1030.2 L1972.2,1030.3 L1974.4,1030.4 L1976.6,1030.4 L1978.8,1030.5 L1981.0,1030.6 L1983.3,1030.7 L1985.5,1030.8 L1987.7,1030.9 L1989.9,1030.9 L1992.1,1031.0 L1994.3,1031.1 L1996.5,1031.1 L1998.7,1031.2 L2000.9,1031.2 L2003.1,1031.3 L2005.3,1031.4 L2007.5,1031.4 L2009.7,1031.5 L2011.9,1031.5 L2014.1,1031.6 L2016.3,1031.6" fill="none" stroke="#ff1a1a" stroke-width="3" stroke-linejoin="round" stroke-linecap="round" />
<path d="M1452.7,1039.8 L1457.9,1039.8 L1463.1,1039.8 L1468.2,1039.8 L1473.4,1039.8 L1478.6,1039.8 L1483.8,1039.8 L1489.0,1039.8 L1494.2,1039.8 L1499.3,1039.8 L1504.5,1039.8 L1509.7,1039.8 L1514.9,1039.8 L1520.1,1039.8 L1525.3,1039.8 L1530.4,1039.8 L1535.6,1039.8 L1540.8,1039.8 L1546.0,1039.8 L1551.2,1039.8 L1556.4,1039.8 L1561.5,1039.8 L1566.7,1039.8 L1571.9,1039.8 L1577.1,1039.8 L1582.3,1039.8 L1587.5,1039.8 L1592.6,1039.8 L1597.8,1039.8 L1603.0,1039.8 L1604.0,1039.8 L1604.3,840.0 L1604.8,815.0 L1605.5,802.6 L1607.5,799.6 L1609.4,796.8 L1611.4,794.0 L1613.4,791.2 L1615.3,788.6 L1617.3,786.1 L1619.3,783.6 L1621.2,781.3 L1623.2,779.0 L1625.2,776.7 L1627.1,774.5 L1629.1,772.4 L1631.1,770.2 L1633.0,768.1 L1635.0,766.0 L1636.9,763.9 L1638.9,761.9 L1640.9,760.0 L1642.8,758.2 L1644.8,756.5 L1646.8,755.0 L1648.7,753.6 L1650.7,752.2 L1652.7,751.0 L1654.6,749.8 L1656.6,748.6 L1658.6,747.4 L1660.5,746.3 L1662.5,745.2 L1664.5,744.2 L1666.4,743.1 L1668.4,742.1 L1670.4,741.2 L1672.3,740.2 L1674.3,739.3 L1676.3,738.4 L1678.2,737.5 L1680.2,736.7 L1682.2,735.9 L1684.1,735.1 L1686.1,734.4 L1688.1,733.6 L1690.0,732.9 L1692.0,732.2 L1693.9,731.5 L1695.9,730.8 L1697.9,730.2 L1699.8,729.5 L1701.8,728.9 L1703.8,728.2 L1705.7,727.6 L1707.7,727.0 L1709.7,726.4 L1711.6,725.9 L1713.6,725.3 L1715.6,724.8 L1717.5,724.3 L1719.5,723.8 L1721.5,723.3 L1723.4,722.8 L1725.4,722.3 L1727.4,721.9 L1729.3,721.4 L1731.3,720.9 L1733.3,720.4 L1735.2,719.9 L1737.2,719.4 L1739.2,718.9 L1741.1,718.5 L1743.1,718.0 L1745.1,717.5 L1747.0,717.0 L1749.0,716.5 L1751.0,716.0 L1752.9,715.5 L1754.9,715.0 L1756.8,714.5 L1758.8,714.0 L1760.8,713.5 L1762.7,713.0 L1764.7,712.5 L1766.7,712.1 L1768.6,711.7 L1770.6,711.3 L1772.6,710.9 L1774.5,710.5 L1776.5,710.1 L1778.5,709.8 L1780.4,709.4 L1782.4,709.1 L1784.4,708.8 L1786.3,708.5 L1788.3,708.2 L1790.3,708.0 L1792.2,707.7 L1794.2,707.5 L1796.2,707.2 L1798.1,707.0 L1800.1,706.8 L1802.1,706.6 L1804.0,706.4 L1806.0,706.2 L1808.0,705.9 L1809.9,705.7 L1811.9,705.5 L1813.8,705.4 L1815.8,705.2 L1817.8,705.1 L1819.7,705.0 L1821.7,704.9 L1823.7,704.9 L1825.6,704.8 L1827.6,704.8 L1829.6,704.7 L1831.5,704.7 L1833.5,704.6 L1835.5,704.6 L1837.4,704.6 L1839.4,704.6 L1840.5,707.6 L1842.1,1008.7 L1844.3,1010.0 L1846.5,1011.3 L1848.7,1012.6 L1850.9,1013.7 L1853.1,1014.9 L1855.3,1015.9 L1857.5,1017.0 L1859.7,1017.9 L1861.9,1018.9 L1864.1,1019.8 L1866.3,1020.6 L1868.6,1021.4 L1870.8,1022.2 L1873.0,1022.9 L1875.2,1023.6 L1877.4,1024.3 L1879.6,1025.0 L1881.8,1025.6 L1884.0,1026.2 L1886.2,1026.7 L1888.4,1027.2 L1890.6,1027.8 L1892.8,1028.2 L1895.0,1028.7 L1897.2,1029.1 L1899.4,1029.6 L1901.6,1030.0 L1903.8,1030.3 L1906.0,1030.7 L1908.3,1031.1 L1910.5,1031.4 L1912.7,1031.7 L1914.9,1032.0 L1917.1,1032.3 L1919.3,1032.6 L1921.5,1032.8 L1923.7,1033.1 L1925.9,1033.3 L1928.1,1033.5 L1930.3,1033.8 L1932.5,1034.0 L1934.7,1034.2 L1936.9,1034.4 L1939.1,1034.5 L1941.3,1034.7 L1943.5,1034.9 L1945.8,1035.0 L1948.0,1035.2 L1950.2,1035.3 L1952.4,1035.5 L1954.6,1035.6 L1956.8,1035.7 L1959.0,1035.8 L1961.2,1035.9 L1963.4,1036.1 L1965.6,1036.2 L1967.8,1036.3 L1970.0,1036.4 L1972.2,1036.4 L1974.4,1036.5 L1976.6,1036.6 L1978.8,1036.7 L1981.0,1036.8 L1983.3,1036.8 L1985.5,1036.9 L1987.7,1037.0 L1989.9,1037.0 L1992.1,1037.1 L1994.3,1037.1 L1996.5,1037.2 L1998.7,1037.2 L2000.9,1037.3 L2003.1,1037.3 L2005.3,1037.4 L2007.5,1037.4 L2009.7,1037.5 L2011.9,1037.5 L2014.1,1037.5 L2016.3,1037.6" fill="none" stroke="#1f77b4" stroke-width="3" stroke-linejoin="round" stroke-linecap="round" />
<rect x="1452.7" y="580.6" width="563.7" height="461.4" fill="none" stroke="#000" stroke-width="2.2"/>
<line x1="1452.7" y1="1042" x2="1452.7" y2="1050.4" stroke="#000" stroke-width="2" />
<line x1="1593.6" y1="1042" x2="1593.6" y2="1050.4" stroke="#000" stroke-width="2" />
<line x1="1734.5" y1="1042" x2="1734.5" y2="1050.4" stroke="#000" stroke-width="2" />
<line x1="1875.4" y1="1042" x2="1875.4" y2="1050.4" stroke="#000" stroke-width="2" />
<line x1="2016.3" y1="1042" x2="2016.3" y2="1050.4" stroke="#000" stroke-width="2" />
<line x1="1523.2" y1="1042" x2="1523.2" y2="1046.4" stroke="#000" stroke-width="2" />
<line x1="1664.1" y1="1042" x2="1664.1" y2="1046.4" stroke="#000" stroke-width="2" />
<line x1="1805" y1="1042" x2="1805" y2="1046.4" stroke="#000" stroke-width="2" />
<line x1="1945.9" y1="1042" x2="1945.9" y2="1046.4" stroke="#000" stroke-width="2" />
<text x="1452.7" y="1075.7" font-size="21.6" text-anchor="middle" font-weight="bold" fill="#000" >0</text>
<text x="1593.6" y="1075.7" font-size="21.6" text-anchor="middle" font-weight="bold" fill="#000" >30</text>
<text x="1734.5" y="1075.7" font-size="21.6" text-anchor="middle" font-weight="bold" fill="#000" >60</text>
<text x="1875.4" y="1075.7" font-size="21.6" text-anchor="middle" font-weight="bold" fill="#000" >90</text>
<text x="2016.3" y="1075.7" font-size="21.6" text-anchor="middle" font-weight="bold" fill="#000" >120</text>
<line x1="1444.3" y1="1042" x2="1452.7" y2="1042" stroke="#000" stroke-width="2" />
<line x1="1444.3" y1="949.4" x2="1452.7" y2="949.4" stroke="#000" stroke-width="2" />
<line x1="1444.3" y1="856.8" x2="1452.7" y2="856.8" stroke="#000" stroke-width="2" />
<line x1="1444.3" y1="764.2" x2="1452.7" y2="764.2" stroke="#000" stroke-width="2" />
<line x1="1444.3" y1="671.6" x2="1452.7" y2="671.6" stroke="#000" stroke-width="2" />
<line x1="1448.3" y1="995.7" x2="1452.7" y2="995.7" stroke="#000" stroke-width="2" />
<line x1="1448.3" y1="903.1" x2="1452.7" y2="903.1" stroke="#000" stroke-width="2" />
<line x1="1448.3" y1="810.5" x2="1452.7" y2="810.5" stroke="#000" stroke-width="2" />
<line x1="1448.3" y1="717.9" x2="1452.7" y2="717.9" stroke="#000" stroke-width="2" />
<line x1="1448.3" y1="625.3" x2="1452.7" y2="625.3" stroke="#000" stroke-width="2" />
<text x="1436.9" y="1048.4" font-size="21.6" text-anchor="end" font-weight="bold" fill="#000" >0.0</text>
<text x="1436.9" y="955.8" font-size="21.6" text-anchor="end" font-weight="bold" fill="#000" >0.5</text>
<text x="1436.9" y="863.2" font-size="21.6" text-anchor="end" font-weight="bold" fill="#000" >1.0</text>
<text x="1436.9" y="770.6" font-size="21.6" text-anchor="end" font-weight="bold" fill="#000" >1.5</text>
<text x="1436.9" y="678" font-size="21.6" text-anchor="end" font-weight="bold" fill="#000" >2.0</text>
<text x="1382.2" y="604.8" font-size="38" text-anchor="start" font-weight="bold" fill="#000" >(f)</text>
<text x="1736" y="1100.7" font-size="26.5" text-anchor="middle" font-weight="bold" fill="#000" >Time (s)</text>
<text transform="translate(1396.6,822) rotate(-90)" font-size="26" font-weight="bold" text-anchor="middle">Photocurrent Density (μA cm<tspan dy="-10" font-size="17">-2</tspan><tspan dy="10">)</tspan></text>
<line x1="1473.3" y1="609.8" x2="1531.7" y2="609.8" stroke="#2ca02c" stroke-width="3" />
<line x1="1473.3" y1="647.5" x2="1531.7" y2="647.5" stroke="#ff1a1a" stroke-width="3" />
<line x1="1473.3" y1="685.3" x2="1531.7" y2="685.3" stroke="#1f77b4" stroke-width="3" />
<text x="1540.2" y="618.4" font-size="24.8" text-anchor="start" font-weight="bold" fill="#000" >SADF</text>
<text x="1540.2" y="656.1" font-size="24.8" font-weight="bold">SADF-2H<tspan dy="-10" font-size="17">2+</tspan></text>
<text x="1540.2" y="693.9" font-size="25.2" font-weight="bold">SA-SADF-H<tspan dy="-10" font-size="17">+</tspan></text>
<text x="1847.5" y="697.3" font-size="25.1" text-anchor="start" font-weight="bold" fill="#000" >Light off</text>
<text x="1500.8" y="796.9" font-size="25" text-anchor="start" font-weight="bold" fill="#000" >Light on</text>
<text x="1494.9" y="1025.2" font-size="24.5" text-anchor="start" font-weight="bold" fill="#000" >Dark</text>
<text x="1847.5" y="762.6" font-size="25.5" font-weight="bold" fill="#1f77b4">21.0 μC cm<tspan dy="-10" font-size="17">-2</tspan></text>
<text x="1847.5" y="951.4" font-size="25.5" font-weight="bold" fill="#ff1a1a">9.72 μC cm<tspan dy="-10" font-size="17">-2</tspan></text>
<text x="1847.5" y="994.3" font-size="25.5" font-weight="bold" fill="#2ca02c">2.03 μC cm<tspan dy="-10" font-size="17">-2</tspan></text>
<defs><clipPath id="gclip"><rect x="116.2" y="1115.4" width="557.1" height="455.6"/></clipPath>
<filter id="gblur" x="-5%" y="-5%" width="110%" height="110%"><feGaussianBlur stdDeviation="5 6"/></filter>
<linearGradient id="kg0" gradientUnits="userSpaceOnUse" x1="116.2" y1="0" x2="673.3" y2="0"><stop offset="0.018" stop-color="#af6229"/><stop offset="0.054" stop-color="#a8522e"/><stop offset="0.089" stop-color="#94384a"/><stop offset="0.125" stop-color="#842a57"/><stop offset="0.161" stop-color="#7a2060"/><stop offset="0.196" stop-color="#661665"/><stop offset="0.232" stop-color="#5f1366"/><stop offset="0.268" stop-color="#520f66"/><stop offset="0.304" stop-color="#3e0d62"/><stop offset="0.339" stop-color="#380c60"/><stop offset="0.375" stop-color="#450e63"/><stop offset="0.411" stop-color="#581068"/><stop offset="0.446" stop-color="#94384a"/><stop offset="0.482" stop-color="#af6229"/><stop offset="0.518" stop-color="#be7e24"/><stop offset="0.554" stop-color="#c48a22"/><stop offset="0.589" stop-color="#cca82c"/><stop offset="0.625" stop-color="#d1b637"/><stop offset="0.661" stop-color="#cfb233"/><stop offset="0.696" stop-color="#d4c03e"/><stop offset="0.732" stop-color="#d4c03e"/><stop offset="0.768" stop-color="#d4c03e"/><stop offset="0.804" stop-color="#d4c03e"/><stop offset="0.839" stop-color="#d7c846"/><stop offset="0.875" stop-color="#cfb233"/><stop offset="0.911" stop-color="#cca82c"/><stop offset="0.946" stop-color="#c48a22"/><stop offset="0.982" stop-color="#a04839"/></linearGradient>
<linearGradient id="kg1" gradientUnits="userSpaceOnUse" x1="116.2" y1="0" x2="673.3" y2="0"><stop offset="0.018" stop-color="#cca82c"/><stop offset="0.054" stop-color="#be7e24"/><stop offset="0.089" stop-color="#a8522e"/><stop offset="0.125" stop-color="#94384a"/><stop offset="0.161" stop-color="#7a2060"/><stop offset="0.196" stop-color="#5f1366"/><stop offset="0.232" stop-color="#581068"/><stop offset="0.268" stop-color="#581068"/><stop offset="0.304" stop-color="#520f66"/><stop offset="0.339" stop-color="#581068"/><stop offset="0.375" stop-color="#7a2060"/><stop offset="0.411" stop-color="#a8522e"/><stop offset="0.446" stop-color="#be7e24"/><stop offset="0.482" stop-color="#c48a22"/><stop offset="0.518" stop-color="#c99c28"/><stop offset="0.554" stop-color="#cca82c"/><stop offset="0.589" stop-color="#cca82c"/><stop offset="0.625" stop-color="#d1b637"/><stop offset="0.661" stop-color="#c79626"/><stop offset="0.696" stop-color="#cca82c"/><stop offset="0.732" stop-color="#d4c03e"/><stop offset="0.768" stop-color="#d1b637"/><stop offset="0.804" stop-color="#d4c03e"/><stop offset="0.839" stop-color="#d4c03e"/><stop offset="0.875" stop-color="#d4c03e"/><stop offset="0.911" stop-color="#d1b637"/><stop offset="0.946" stop-color="#cca82c"/><stop offset="0.982" stop-color="#a8522e"/></linearGradient>
<linearGradient id="kg2" gradientUnits="userSpaceOnUse" x1="116.2" y1="0" x2="673.3" y2="0"><stop offset="0.018" stop-color="#d7c846"/><stop offset="0.054" stop-color="#cca82c"/><stop offset="0.089" stop-color="#be7e24"/><stop offset="0.125" stop-color="#a8522e"/><stop offset="0.161" stop-color="#94384a"/><stop offset="0.196" stop-color="#7a2060"/><stop offset="0.232" stop-color="#5f1366"/><stop offset="0.268" stop-color="#581068"/><stop offset="0.304" stop-color="#7a2060"/><stop offset="0.339" stop-color="#a8522e"/><stop offset="0.375" stop-color="#be7e24"/><stop offset="0.411" stop-color="#c48a22"/><stop offset="0.446" stop-color="#c99c28"/><stop offset="0.482" stop-color="#cca82c"/><stop offset="0.518" stop-color="#c48a22"/><stop offset="0.554" stop-color="#cca82c"/><stop offset="0.589" stop-color="#c79626"/><stop offset="0.625" stop-color="#d1b637"/><stop offset="0.661" stop-color="#cca82c"/><stop offset="0.696" stop-color="#c79626"/><stop offset="0.732" stop-color="#d1b637"/><stop offset="0.768" stop-color="#d4c03e"/><stop offset="0.804" stop-color="#d4c03e"/><stop offset="0.839" stop-color="#d4c03e"/><stop offset="0.875" stop-color="#d4c03e"/><stop offset="0.911" stop-color="#d4c03e"/><stop offset="0.946" stop-color="#d1b637"/><stop offset="0.982" stop-color="#af6229"/></linearGradient>
<linearGradient id="kg3" gradientUnits="userSpaceOnUse" x1="116.2" y1="0" x2="673.3" y2="0"><stop offset="0.018" stop-color="#d9cc4a"/><stop offset="0.054" stop-color="#d9cc4a"/><stop offset="0.089" stop-color="#d1b637"/><stop offset="0.125" stop-color="#c48a22"/><stop offset="0.161" stop-color="#af6229"/><stop offset="0.196" stop-color="#94384a"/><stop offset="0.232" stop-color="#842a57"/><stop offset="0.268" stop-color="#7a2060"/><stop offset="0.304" stop-color="#a04839"/><stop offset="0.339" stop-color="#be7e24"/><stop offset="0.375" stop-color="#cca82c"/><stop offset="0.411" stop-color="#d1b637"/><stop offset="0.446" stop-color="#c79626"/><stop offset="0.482" stop-color="#cca82c"/><stop offset="0.518" stop-color="#c48a22"/><stop offset="0.554" stop-color="#cca82c"/><stop offset="0.589" stop-color="#d1b637"/><stop offset="0.625" stop-color="#c79626"/><stop offset="0.661" stop-color="#cca82c"/><stop offset="0.696" stop-color="#d4c03e"/><stop offset="0.732" stop-color="#d4c03e"/><stop offset="0.768" stop-color="#d1b637"/><stop offset="0.804" stop-color="#d4c03e"/><stop offset="0.839" stop-color="#d4c03e"/><stop offset="0.875" stop-color="#d4c03e"/><stop offset="0.911" stop-color="#d4c03e"/><stop offset="0.946" stop-color="#d1b637"/><stop offset="0.982" stop-color="#b46c26"/></linearGradient>
<linearGradient id="kg4" gradientUnits="userSpaceOnUse" x1="116.2" y1="0" x2="673.3" y2="0"><stop offset="0.018" stop-color="#d7c846"/><stop offset="0.054" stop-color="#d7c846"/><stop offset="0.089" stop-color="#d1b637"/><stop offset="0.125" stop-color="#b46c26"/><stop offset="0.161" stop-color="#983d44"/><stop offset="0.196" stop-color="#842a57"/><stop offset="0.232" stop-color="#a04839"/><stop offset="0.268" stop-color="#8f334e"/><stop offset="0.304" stop-color="#a04839"/><stop offset="0.339" stop-color="#c48a22"/><stop offset="0.375" stop-color="#cca82c"/><stop offset="0.411" stop-color="#c79626"/><stop offset="0.446" stop-color="#cca82c"/><stop offset="0.482" stop-color="#cca82c"/><stop offset="0.518" stop-color="#d1b637"/><stop offset="0.554" stop-color="#cead30"/><stop offset="0.589" stop-color="#d4c03e"/><stop offset="0.625" stop-color="#dad04e"/><stop offset="0.661" stop-color="#d7c846"/><stop offset="0.696" stop-color="#d4c03e"/><stop offset="0.732" stop-color="#d4c03e"/><stop offset="0.768" stop-color="#d4c03e"/><stop offset="0.804" stop-color="#d4c03e"/><stop offset="0.839" stop-color="#d1b637"/><stop offset="0.875" stop-color="#cca82c"/><stop offset="0.911" stop-color="#c99c28"/><stop offset="0.946" stop-color="#c48a22"/><stop offset="0.982" stop-color="#af6229"/></linearGradient>
<linearGradient id="kg5" gradientUnits="userSpaceOnUse" x1="116.2" y1="0" x2="673.3" y2="0"><stop offset="0.018" stop-color="#d7c846"/><stop offset="0.054" stop-color="#d4c03e"/><stop offset="0.089" stop-color="#cead30"/><stop offset="0.125" stop-color="#af6229"/><stop offset="0.161" stop-color="#a8522e"/><stop offset="0.196" stop-color="#a8522e"/><stop offset="0.232" stop-color="#be7e24"/><stop offset="0.268" stop-color="#c48a22"/><stop offset="0.304" stop-color="#c99c28"/><stop offset="0.339" stop-color="#d1b637"/><stop offset="0.375" stop-color="#cead30"/><stop offset="0.411" stop-color="#d1b637"/><stop offset="0.446" stop-color="#d1b637"/><stop offset="0.482" stop-color="#cead30"/><stop offset="0.518" stop-color="#d1b637"/><stop offset="0.554" stop-color="#d4c03e"/><stop offset="0.589" stop-color="#d4c03e"/><stop offset="0.625" stop-color="#dad04e"/><stop offset="0.661" stop-color="#d9cc4a"/><stop offset="0.696" stop-color="#d7c846"/><stop offset="0.732" stop-color="#d7c846"/><stop offset="0.768" stop-color="#d4c03e"/><stop offset="0.804" stop-color="#d4c03e"/><stop offset="0.839" stop-color="#c99c28"/><stop offset="0.875" stop-color="#c48a22"/><stop offset="0.911" stop-color="#b77225"/><stop offset="0.946" stop-color="#af6229"/><stop offset="0.982" stop-color="#94384a"/></linearGradient>
<linearGradient id="kg6" gradientUnits="userSpaceOnUse" x1="116.2" y1="0" x2="673.3" y2="0"><stop offset="0.018" stop-color="#d4c03e"/><stop offset="0.054" stop-color="#d7c846"/><stop offset="0.089" stop-color="#d4c03e"/><stop offset="0.125" stop-color="#cca82c"/><stop offset="0.161" stop-color="#c48a22"/><stop offset="0.196" stop-color="#c79626"/><stop offset="0.232" stop-color="#cca82c"/><stop offset="0.268" stop-color="#d1b637"/><stop offset="0.304" stop-color="#d4c03e"/><stop offset="0.339" stop-color="#cead30"/><stop offset="0.375" stop-color="#c48a22"/><stop offset="0.411" stop-color="#b77225"/><stop offset="0.446" stop-color="#af6229"/><stop offset="0.482" stop-color="#a8522e"/><stop offset="0.518" stop-color="#af6229"/><stop offset="0.554" stop-color="#c48a22"/><stop offset="0.589" stop-color="#d4c03e"/><stop offset="0.625" stop-color="#d9cc4a"/><stop offset="0.661" stop-color="#d9cc4a"/><stop offset="0.696" stop-color="#d4c03e"/><stop offset="0.732" stop-color="#d4c03e"/><stop offset="0.768" stop-color="#cead30"/><stop offset="0.804" stop-color="#c48a22"/><stop offset="0.839" stop-color="#b26728"/><stop offset="0.875" stop-color="#a8522e"/><stop offset="0.911" stop-color="#94384a"/><stop offset="0.946" stop-color="#7a2060"/><stop offset="0.982" stop-color="#581068"/></linearGradient>
<linearGradient id="kg7" gradientUnits="userSpaceOnUse" x1="116.2" y1="0" x2="673.3" y2="0"><stop offset="0.018" stop-color="#d4c03e"/><stop offset="0.054" stop-color="#d1b637"/><stop offset="0.089" stop-color="#d4c03e"/><stop offset="0.125" stop-color="#d4c03e"/><stop offset="0.161" stop-color="#cead30"/><stop offset="0.196" stop-color="#d1b637"/><stop offset="0.232" stop-color="#cead30"/><stop offset="0.268" stop-color="#d4c03e"/><stop offset="0.304" stop-color="#d7c846"/><stop offset="0.339" stop-color="#d4c03e"/><stop offset="0.375" stop-color="#c48a22"/><stop offset="0.411" stop-color="#af6229"/><stop offset="0.446" stop-color="#a8522e"/><stop offset="0.482" stop-color="#a04839"/><stop offset="0.518" stop-color="#a8522e"/><stop offset="0.554" stop-color="#be7e24"/><stop offset="0.589" stop-color="#d4c03e"/><stop offset="0.625" stop-color="#d7c846"/><stop offset="0.661" stop-color="#d7c846"/><stop offset="0.696" stop-color="#d1b637"/><stop offset="0.732" stop-color="#c48a22"/><stop offset="0.768" stop-color="#b46c26"/><stop offset="0.804" stop-color="#a8522e"/><stop offset="0.839" stop-color="#94384a"/><stop offset="0.875" stop-color="#7a2060"/><stop offset="0.911" stop-color="#5f1366"/><stop offset="0.946" stop-color="#4b0e65"/><stop offset="0.982" stop-color="#450e63"/></linearGradient>
<linearGradient id="kg8" gradientUnits="userSpaceOnUse" x1="116.2" y1="0" x2="673.3" y2="0"><stop offset="0.018" stop-color="#cfb233"/><stop offset="0.054" stop-color="#d7c846"/><stop offset="0.089" stop-color="#d7c846"/><stop offset="0.125" stop-color="#d4c03e"/><stop offset="0.161" stop-color="#cead30"/><stop offset="0.196" stop-color="#d4c03e"/><stop offset="0.232" stop-color="#cfb233"/><stop offset="0.268" stop-color="#c79626"/><stop offset="0.304" stop-color="#e0d95e"/><stop offset="0.339" stop-color="#d7c846"/><stop offset="0.375" stop-color="#b46c26"/><stop offset="0.411" stop-color="#a8522e"/><stop offset="0.446" stop-color="#a04839"/><stop offset="0.482" stop-color="#a44d34"/><stop offset="0.518" stop-color="#a8522e"/><stop offset="0.554" stop-color="#be7e24"/><stop offset="0.589" stop-color="#d4c03e"/><stop offset="0.625" stop-color="#d9cc4a"/><stop offset="0.661" stop-color="#d9cc4a"/><stop offset="0.696" stop-color="#d4c03e"/><stop offset="0.732" stop-color="#b46c26"/><stop offset="0.768" stop-color="#a44d34"/><stop offset="0.804" stop-color="#9c423f"/><stop offset="0.839" stop-color="#a04839"/><stop offset="0.875" stop-color="#7a2060"/><stop offset="0.911" stop-color="#5f1366"/><stop offset="0.946" stop-color="#4b0e65"/><stop offset="0.982" stop-color="#3e0d62"/></linearGradient>
<linearGradient id="kg9" gradientUnits="userSpaceOnUse" x1="116.2" y1="0" x2="673.3" y2="0"><stop offset="0.018" stop-color="#d4c03e"/><stop offset="0.054" stop-color="#d7c846"/><stop offset="0.089" stop-color="#d9cc4a"/><stop offset="0.125" stop-color="#d7c846"/><stop offset="0.161" stop-color="#d4c03e"/><stop offset="0.196" stop-color="#d7c846"/><stop offset="0.232" stop-color="#cead30"/><stop offset="0.268" stop-color="#c48a22"/><stop offset="0.304" stop-color="#e2db64"/><stop offset="0.339" stop-color="#d7c846"/><stop offset="0.375" stop-color="#a8522e"/><stop offset="0.411" stop-color="#a04839"/><stop offset="0.446" stop-color="#9c423f"/><stop offset="0.482" stop-color="#a44d34"/><stop offset="0.518" stop-color="#a8522e"/><stop offset="0.554" stop-color="#c48a22"/><stop offset="0.589" stop-color="#d7c846"/><stop offset="0.625" stop-color="#d9cc4a"/><stop offset="0.661" stop-color="#d9cc4a"/><stop offset="0.696" stop-color="#cfb233"/><stop offset="0.732" stop-color="#af6229"/><stop offset="0.768" stop-color="#94384a"/><stop offset="0.804" stop-color="#7a2060"/><stop offset="0.839" stop-color="#6c1a63"/><stop offset="0.875" stop-color="#5f1366"/><stop offset="0.911" stop-color="#520f66"/><stop offset="0.946" stop-color="#450e63"/><stop offset="0.982" stop-color="#380c60"/></linearGradient>
<linearGradient id="kg10" gradientUnits="userSpaceOnUse" x1="116.2" y1="0" x2="673.3" y2="0"><stop offset="0.018" stop-color="#d4c03e"/><stop offset="0.054" stop-color="#d9cc4a"/><stop offset="0.089" stop-color="#d9cc4a"/><stop offset="0.125" stop-color="#d9cc4a"/><stop offset="0.161" stop-color="#d4c03e"/><stop offset="0.196" stop-color="#d7c846"/><stop offset="0.232" stop-color="#cfb233"/><stop offset="0.268" stop-color="#cca82c"/><stop offset="0.304" stop-color="#e2db64"/><stop offset="0.339" stop-color="#d4c03e"/><stop offset="0.375" stop-color="#a8522e"/><stop offset="0.411" stop-color="#a04839"/><stop offset="0.446" stop-color="#a44d34"/><stop offset="0.482" stop-color="#a8522e"/><stop offset="0.518" stop-color="#ad5c2b"/><stop offset="0.554" stop-color="#c48a22"/><stop offset="0.589" stop-color="#d4c03e"/><stop offset="0.625" stop-color="#d9cc4a"/><stop offset="0.661" stop-color="#d7c846"/><stop offset="0.696" stop-color="#cca82c"/><stop offset="0.732" stop-color="#a8522e"/><stop offset="0.768" stop-color="#842a57"/><stop offset="0.804" stop-color="#5f1366"/><stop offset="0.839" stop-color="#520f66"/><stop offset="0.875" stop-color="#4b0e65"/><stop offset="0.911" stop-color="#450e63"/><stop offset="0.946" stop-color="#3e0d62"/><stop offset="0.982" stop-color="#380c60"/></linearGradient>
<linearGradient id="kg11" gradientUnits="userSpaceOnUse" x1="116.2" y1="0" x2="673.3" y2="0"><stop offset="0.018" stop-color="#c48a22"/><stop offset="0.054" stop-color="#cead30"/><stop offset="0.089" stop-color="#d4c03e"/><stop offset="0.125" stop-color="#d4c03e"/><stop offset="0.161" stop-color="#cfb233"/><stop offset="0.196" stop-color="#d4c03e"/><stop offset="0.232" stop-color="#cead30"/><stop offset="0.268" stop-color="#cead30"/><stop offset="0.304" stop-color="#dad04e"/><stop offset="0.339" stop-color="#d4c03e"/><stop offset="0.375" stop-color="#a8522e"/><stop offset="0.411" stop-color="#a44d34"/><stop offset="0.446" stop-color="#a8522e"/><stop offset="0.482" stop-color="#af6229"/><stop offset="0.518" stop-color="#b26728"/><stop offset="0.554" stop-color="#c48a22"/><stop offset="0.589" stop-color="#d4c03e"/><stop offset="0.625" stop-color="#d9cc4a"/><stop offset="0.661" stop-color="#d7c846"/><stop offset="0.696" stop-color="#c48a22"/><stop offset="0.732" stop-color="#9c423f"/><stop offset="0.768" stop-color="#731d62"/><stop offset="0.804" stop-color="#581068"/><stop offset="0.839" stop-color="#4b0e65"/><stop offset="0.875" stop-color="#450e63"/><stop offset="0.911" stop-color="#3e0d62"/><stop offset="0.946" stop-color="#380c60"/><stop offset="0.982" stop-color="#330b5d"/></linearGradient>
<linearGradient id="kg12" gradientUnits="userSpaceOnUse" x1="116.2" y1="0" x2="673.3" y2="0"><stop offset="0.018" stop-color="#983d44"/><stop offset="0.054" stop-color="#b46c26"/><stop offset="0.089" stop-color="#cca82c"/><stop offset="0.125" stop-color="#c79626"/><stop offset="0.161" stop-color="#c48a22"/><stop offset="0.196" stop-color="#cca82c"/><stop offset="0.232" stop-color="#d4c03e"/><stop offset="0.268" stop-color="#d7c846"/><stop offset="0.304" stop-color="#d9cc4a"/><stop offset="0.339" stop-color="#cead30"/><stop offset="0.375" stop-color="#af6229"/><stop offset="0.411" stop-color="#a8522e"/><stop offset="0.446" stop-color="#a8522e"/><stop offset="0.482" stop-color="#a8522e"/><stop offset="0.518" stop-color="#a8522e"/><stop offset="0.554" stop-color="#be7e24"/><stop offset="0.589" stop-color="#d4c03e"/><stop offset="0.625" stop-color="#d9cc4a"/><stop offset="0.661" stop-color="#d1b637"/><stop offset="0.696" stop-color="#b46c26"/><stop offset="0.732" stop-color="#8f334e"/><stop offset="0.768" stop-color="#661665"/><stop offset="0.804" stop-color="#520f66"/><stop offset="0.839" stop-color="#4b0e65"/><stop offset="0.875" stop-color="#450e63"/><stop offset="0.911" stop-color="#3e0d62"/><stop offset="0.946" stop-color="#380c60"/><stop offset="0.982" stop-color="#330b5d"/></linearGradient>
<linearGradient id="kg13" gradientUnits="userSpaceOnUse" x1="116.2" y1="0" x2="673.3" y2="0"><stop offset="0.018" stop-color="#842a57"/><stop offset="0.054" stop-color="#a8522e"/><stop offset="0.089" stop-color="#cca82c"/><stop offset="0.125" stop-color="#c48a22"/><stop offset="0.161" stop-color="#b77225"/><stop offset="0.196" stop-color="#c48a22"/><stop offset="0.232" stop-color="#d4c03e"/><stop offset="0.268" stop-color="#d7c846"/><stop offset="0.304" stop-color="#d7c846"/><stop offset="0.339" stop-color="#d4c03e"/><stop offset="0.375" stop-color="#cca82c"/><stop offset="0.411" stop-color="#c48a22"/><stop offset="0.446" stop-color="#c48a22"/><stop offset="0.482" stop-color="#b46c26"/><stop offset="0.518" stop-color="#be7e24"/><stop offset="0.554" stop-color="#cca82c"/><stop offset="0.589" stop-color="#d7c846"/><stop offset="0.625" stop-color="#d9cc4a"/><stop offset="0.661" stop-color="#d4c03e"/><stop offset="0.696" stop-color="#af6229"/><stop offset="0.732" stop-color="#842a57"/><stop offset="0.768" stop-color="#5f1366"/><stop offset="0.804" stop-color="#520f66"/><stop offset="0.839" stop-color="#4b0e65"/><stop offset="0.875" stop-color="#450e63"/><stop offset="0.911" stop-color="#3e0d62"/><stop offset="0.946" stop-color="#380c60"/><stop offset="0.982" stop-color="#2e0a5a"/></linearGradient>
<linearGradient id="kg14" gradientUnits="userSpaceOnUse" x1="116.2" y1="0" x2="673.3" y2="0"><stop offset="0.018" stop-color="#661665"/><stop offset="0.054" stop-color="#a04839"/><stop offset="0.089" stop-color="#c48a22"/><stop offset="0.125" stop-color="#cca82c"/><stop offset="0.161" stop-color="#cca82c"/><stop offset="0.196" stop-color="#d4c03e"/><stop offset="0.232" stop-color="#d7c846"/><stop offset="0.268" stop-color="#d9cc4a"/><stop offset="0.304" stop-color="#dcd452"/><stop offset="0.339" stop-color="#d9cc4a"/><stop offset="0.375" stop-color="#d7c846"/><stop offset="0.411" stop-color="#d9cc4a"/><stop offset="0.446" stop-color="#d9cc4a"/><stop offset="0.482" stop-color="#d4c03e"/><stop offset="0.518" stop-color="#d4c03e"/><stop offset="0.554" stop-color="#d7c846"/><stop offset="0.589" stop-color="#d9cc4a"/><stop offset="0.625" stop-color="#d9cc4a"/><stop offset="0.661" stop-color="#cead30"/><stop offset="0.696" stop-color="#a8522e"/><stop offset="0.732" stop-color="#7f255c"/><stop offset="0.768" stop-color="#5f1366"/><stop offset="0.804" stop-color="#520f66"/><stop offset="0.839" stop-color="#4b0e65"/><stop offset="0.875" stop-color="#4b0e65"/><stop offset="0.911" stop-color="#450e63"/><stop offset="0.946" stop-color="#3e0d62"/><stop offset="0.982" stop-color="#2e0a5a"/></linearGradient>
<linearGradient id="kg15" gradientUnits="userSpaceOnUse" x1="116.2" y1="0" x2="673.3" y2="0"><stop offset="0.018" stop-color="#4b0e65"/><stop offset="0.054" stop-color="#842a57"/><stop offset="0.089" stop-color="#b46c26"/><stop offset="0.125" stop-color="#c48a22"/><stop offset="0.161" stop-color="#cca82c"/><stop offset="0.196" stop-color="#d1b637"/><stop offset="0.232" stop-color="#d4c03e"/><stop offset="0.268" stop-color="#d7c846"/><stop offset="0.304" stop-color="#d7c846"/><stop offset="0.339" stop-color="#d7c846"/><stop offset="0.375" stop-color="#d4c03e"/><stop offset="0.411" stop-color="#d7c846"/><stop offset="0.446" stop-color="#d9cc4a"/><stop offset="0.482" stop-color="#d7c846"/><stop offset="0.518" stop-color="#d9cc4a"/><stop offset="0.554" stop-color="#d9cc4a"/><stop offset="0.589" stop-color="#d9cc4a"/><stop offset="0.625" stop-color="#d7c846"/><stop offset="0.661" stop-color="#cead30"/><stop offset="0.696" stop-color="#a44d34"/><stop offset="0.732" stop-color="#7f255c"/><stop offset="0.768" stop-color="#5f1366"/><stop offset="0.804" stop-color="#520f66"/><stop offset="0.839" stop-color="#4b0e65"/><stop offset="0.875" stop-color="#4b0e65"/><stop offset="0.911" stop-color="#450e63"/><stop offset="0.946" stop-color="#3e0d62"/><stop offset="0.982" stop-color="#2e0a5a"/></linearGradient>
<linearGradient id="kg16" gradientUnits="userSpaceOnUse" x1="116.2" y1="0" x2="673.3" y2="0"><stop offset="0.018" stop-color="#380c60"/><stop offset="0.054" stop-color="#4b0e65"/><stop offset="0.089" stop-color="#8a2e53"/><stop offset="0.125" stop-color="#b46c26"/><stop offset="0.161" stop-color="#c48a22"/><stop offset="0.196" stop-color="#cca82c"/><stop offset="0.232" stop-color="#d4c03e"/><stop offset="0.268" stop-color="#d4c03e"/><stop offset="0.304" stop-color="#d4c03e"/><stop offset="0.339" stop-color="#d7c846"/><stop offset="0.375" stop-color="#d4c03e"/><stop offset="0.411" stop-color="#d4c03e"/><stop offset="0.446" stop-color="#d4c03e"/><stop offset="0.482" stop-color="#d4c03e"/><stop offset="0.518" stop-color="#d4c03e"/><stop offset="0.554" stop-color="#d9cc4a"/><stop offset="0.589" stop-color="#d9cc4a"/><stop offset="0.625" stop-color="#d4c03e"/><stop offset="0.661" stop-color="#c99c28"/><stop offset="0.696" stop-color="#a04839"/><stop offset="0.732" stop-color="#7a2060"/><stop offset="0.768" stop-color="#581068"/><stop offset="0.804" stop-color="#4b0e65"/><stop offset="0.839" stop-color="#4b0e65"/><stop offset="0.875" stop-color="#450e63"/><stop offset="0.911" stop-color="#450e63"/><stop offset="0.946" stop-color="#3e0d62"/><stop offset="0.982" stop-color="#2e0a5a"/></linearGradient>
<linearGradient id="kg17" gradientUnits="userSpaceOnUse" x1="116.2" y1="0" x2="673.3" y2="0"><stop offset="0.018" stop-color="#2e0a5a"/><stop offset="0.054" stop-color="#380c60"/><stop offset="0.089" stop-color="#4b0e65"/><stop offset="0.125" stop-color="#842a57"/><stop offset="0.161" stop-color="#a8522e"/><stop offset="0.196" stop-color="#be7e24"/><stop offset="0.232" stop-color="#c79626"/><stop offset="0.268" stop-color="#cca82c"/><stop offset="0.304" stop-color="#c79626"/><stop offset="0.339" stop-color="#cca82c"/><stop offset="0.375" stop-color="#caa22a"/><stop offset="0.411" stop-color="#cca82c"/><stop offset="0.446" stop-color="#c79626"/><stop offset="0.482" stop-color="#cca82c"/><stop offset="0.518" stop-color="#c99c28"/><stop offset="0.554" stop-color="#d4c03e"/><stop offset="0.589" stop-color="#d7c846"/><stop offset="0.625" stop-color="#d4c03e"/><stop offset="0.661" stop-color="#cca82c"/><stop offset="0.696" stop-color="#a8522e"/><stop offset="0.732" stop-color="#8a2e53"/><stop offset="0.768" stop-color="#5f1366"/><stop offset="0.804" stop-color="#520f66"/><stop offset="0.839" stop-color="#4b0e65"/><stop offset="0.875" stop-color="#450e63"/><stop offset="0.911" stop-color="#3e0d62"/><stop offset="0.946" stop-color="#330b5d"/><stop offset="0.982" stop-color="#2a0a56"/></linearGradient>
<linearGradient id="kg18" gradientUnits="userSpaceOnUse" x1="116.2" y1="0" x2="673.3" y2="0"><stop offset="0.018" stop-color="#2a0a56"/><stop offset="0.054" stop-color="#2a0a56"/><stop offset="0.089" stop-color="#330b5d"/><stop offset="0.125" stop-color="#4b0e65"/><stop offset="0.161" stop-color="#7a2060"/><stop offset="0.196" stop-color="#a8522e"/><stop offset="0.232" stop-color="#be7e24"/><stop offset="0.268" stop-color="#c48a22"/><stop offset="0.304" stop-color="#c48a22"/><stop offset="0.339" stop-color="#c48a22"/><stop offset="0.375" stop-color="#b46c26"/><stop offset="0.411" stop-color="#be7e24"/><stop offset="0.446" stop-color="#c48a22"/><stop offset="0.482" stop-color="#be7e24"/><stop offset="0.518" stop-color="#c48a22"/><stop offset="0.554" stop-color="#cca82c"/><stop offset="0.589" stop-color="#d4c03e"/><stop offset="0.625" stop-color="#d4c03e"/><stop offset="0.661" stop-color="#cca82c"/><stop offset="0.696" stop-color="#af6229"/><stop offset="0.732" stop-color="#8f334e"/><stop offset="0.768" stop-color="#5f1366"/><stop offset="0.804" stop-color="#520f66"/><stop offset="0.839" stop-color="#4b0e65"/><stop offset="0.875" stop-color="#450e63"/><stop offset="0.911" stop-color="#330b5d"/><stop offset="0.946" stop-color="#2a0a56"/><stop offset="0.982" stop-color="#250953"/></linearGradient>
<linearGradient id="kg19" gradientUnits="userSpaceOnUse" x1="116.2" y1="0" x2="673.3" y2="0"><stop offset="0.018" stop-color="#250953"/><stop offset="0.054" stop-color="#250953"/><stop offset="0.089" stop-color="#250953"/><stop offset="0.125" stop-color="#330b5d"/><stop offset="0.161" stop-color="#520f66"/><stop offset="0.196" stop-color="#842a57"/><stop offset="0.232" stop-color="#b46c26"/><stop offset="0.268" stop-color="#c48a22"/><stop offset="0.304" stop-color="#c48a22"/><stop offset="0.339" stop-color="#b46c26"/><stop offset="0.375" stop-color="#a8522e"/><stop offset="0.411" stop-color="#9c423f"/><stop offset="0.446" stop-color="#a8522e"/><stop offset="0.482" stop-color="#be7e24"/><stop offset="0.518" stop-color="#c48a22"/><stop offset="0.554" stop-color="#cca82c"/><stop offset="0.589" stop-color="#d1b637"/><stop offset="0.625" stop-color="#d4c03e"/><stop offset="0.661" stop-color="#cead30"/><stop offset="0.696" stop-color="#be7e24"/><stop offset="0.732" stop-color="#94384a"/><stop offset="0.768" stop-color="#661665"/><stop offset="0.804" stop-color="#520f66"/><stop offset="0.839" stop-color="#4b0e65"/><stop offset="0.875" stop-color="#3e0d62"/><stop offset="0.911" stop-color="#2e0a5a"/><stop offset="0.946" stop-color="#250953"/><stop offset="0.982" stop-color="#250953"/></linearGradient>
<linearGradient id="kg20" gradientUnits="userSpaceOnUse" x1="116.2" y1="0" x2="673.3" y2="0"><stop offset="0.018" stop-color="#200850"/><stop offset="0.054" stop-color="#1d074a"/><stop offset="0.089" stop-color="#1d074a"/><stop offset="0.125" stop-color="#200850"/><stop offset="0.161" stop-color="#330b5d"/><stop offset="0.196" stop-color="#6c1a63"/><stop offset="0.232" stop-color="#be7e24"/><stop offset="0.268" stop-color="#c48a22"/><stop offset="0.304" stop-color="#caa22a"/><stop offset="0.339" stop-color="#be7e24"/><stop offset="0.375" stop-color="#b26728"/><stop offset="0.411" stop-color="#94384a"/><stop offset="0.446" stop-color="#a04839"/><stop offset="0.482" stop-color="#be7e24"/><stop offset="0.518" stop-color="#c48a22"/><stop offset="0.554" stop-color="#c48a22"/><stop offset="0.589" stop-color="#d1b637"/><stop offset="0.625" stop-color="#d4c03e"/><stop offset="0.661" stop-color="#cead30"/><stop offset="0.696" stop-color="#be7e24"/><stop offset="0.732" stop-color="#94384a"/><stop offset="0.768" stop-color="#5f1366"/><stop offset="0.804" stop-color="#520f66"/><stop offset="0.839" stop-color="#4b0e65"/><stop offset="0.875" stop-color="#3e0d62"/><stop offset="0.911" stop-color="#330b5d"/><stop offset="0.946" stop-color="#250953"/><stop offset="0.982" stop-color="#250953"/></linearGradient>
<linearGradient id="kg21" gradientUnits="userSpaceOnUse" x1="116.2" y1="0" x2="673.3" y2="0"><stop offset="0.018" stop-color="#250953"/><stop offset="0.054" stop-color="#1d074a"/><stop offset="0.089" stop-color="#1d074a"/><stop offset="0.125" stop-color="#1d074a"/><stop offset="0.161" stop-color="#2e0a5a"/><stop offset="0.196" stop-color="#581068"/><stop offset="0.232" stop-color="#b77225"/><stop offset="0.268" stop-color="#c48a22"/><stop offset="0.304" stop-color="#be7e24"/><stop offset="0.339" stop-color="#b46c26"/><stop offset="0.375" stop-color="#94384a"/><stop offset="0.411" stop-color="#842a57"/><stop offset="0.446" stop-color="#94384a"/><stop offset="0.482" stop-color="#b46c26"/><stop offset="0.518" stop-color="#be7e24"/><stop offset="0.554" stop-color="#cca82c"/><stop offset="0.589" stop-color="#d1b637"/><stop offset="0.625" stop-color="#cead30"/><stop offset="0.661" stop-color="#c48a22"/><stop offset="0.696" stop-color="#b46c26"/><stop offset="0.732" stop-color="#8f334e"/><stop offset="0.768" stop-color="#5f1366"/><stop offset="0.804" stop-color="#520f66"/><stop offset="0.839" stop-color="#4b0e65"/><stop offset="0.875" stop-color="#450e63"/><stop offset="0.911" stop-color="#330b5d"/><stop offset="0.946" stop-color="#2a0a56"/><stop offset="0.982" stop-color="#250953"/></linearGradient>
<linearGradient id="kg22" gradientUnits="userSpaceOnUse" x1="116.2" y1="0" x2="673.3" y2="0"><stop offset="0.018" stop-color="#250953"/><stop offset="0.054" stop-color="#200850"/><stop offset="0.089" stop-color="#200850"/><stop offset="0.125" stop-color="#200850"/><stop offset="0.161" stop-color="#330b5d"/><stop offset="0.196" stop-color="#6c1a63"/><stop offset="0.232" stop-color="#b46c26"/><stop offset="0.268" stop-color="#be7e24"/><stop offset="0.304" stop-color="#be7e24"/><stop offset="0.339" stop-color="#af6229"/><stop offset="0.375" stop-color="#983d44"/><stop offset="0.411" stop-color="#a04839"/><stop offset="0.446" stop-color="#a8522e"/><stop offset="0.482" stop-color="#b26728"/><stop offset="0.518" stop-color="#be7e24"/><stop offset="0.554" stop-color="#c48a22"/><stop offset="0.589" stop-color="#c79626"/><stop offset="0.625" stop-color="#c48a22"/><stop offset="0.661" stop-color="#b77225"/><stop offset="0.696" stop-color="#a8522e"/><stop offset="0.732" stop-color="#842a57"/><stop offset="0.768" stop-color="#5f1366"/><stop offset="0.804" stop-color="#520f66"/><stop offset="0.839" stop-color="#4b0e65"/><stop offset="0.875" stop-color="#450e63"/><stop offset="0.911" stop-color="#380c60"/><stop offset="0.946" stop-color="#2e0a5a"/><stop offset="0.982" stop-color="#2a0a56"/></linearGradient>
</defs>
<g clip-path="url(#gclip)"><g filter="url(#gblur)">
<rect x="96.2" y="1095.4" width="597.0999999999999" height="41.0" fill="url(#kg0)"/>
<rect x="96.2" y="1135.4" width="597.0999999999999" height="21.0" fill="url(#kg1)"/>
<rect x="96.2" y="1155.4" width="597.0999999999999" height="21.0" fill="url(#kg2)"/>
<rect x="96.2" y="1175.3" width="597.0999999999999" height="21.0" fill="url(#kg3)"/>
<rect x="96.2" y="1195.3" width="597.0999999999999" height="21.0" fill="url(#kg4)"/>
<rect x="96.2" y="1215.3" width="597.0999999999999" height="21.0" fill="url(#kg5)"/>
<rect x="96.2" y="1235.3" width="597.0999999999999" height="21.0" fill="url(#kg6)"/>
<rect x="96.2" y="1255.3" width="597.0999999999999" height="21.0" fill="url(#kg7)"/>
<rect x="96.2" y="1275.3" width="597.0999999999999" height="21.0" fill="url(#kg8)"/>
<rect x="96.2" y="1295.2" width="597.0999999999999" height="21.0" fill="url(#kg9)"/>
<rect x="96.2" y="1315.2" width="597.0999999999999" height="21.0" fill="url(#kg10)"/>
<rect x="96.2" y="1335.2" width="597.0999999999999" height="21.0" fill="url(#kg11)"/>
<rect x="96.2" y="1355.2" width="597.0999999999999" height="21.0" fill="url(#kg12)"/>
<rect x="96.2" y="1375.2" width="597.0999999999999" height="21.0" fill="url(#kg13)"/>
<rect x="96.2" y="1395.2" width="597.0999999999999" height="21.0" fill="url(#kg14)"/>
<rect x="96.2" y="1415.1" width="597.0999999999999" height="21.0" fill="url(#kg15)"/>
<rect x="96.2" y="1435.1" width="597.0999999999999" height="21.0" fill="url(#kg16)"/>
<rect x="96.2" y="1455.1" width="597.0999999999999" height="21.0" fill="url(#kg17)"/>
<rect x="96.2" y="1475.1" width="597.0999999999999" height="21.0" fill="url(#kg18)"/>
<rect x="96.2" y="1495.1" width="597.0999999999999" height="21.0" fill="url(#kg19)"/>
<rect x="96.2" y="1515.0" width="597.0999999999999" height="21.0" fill="url(#kg20)"/>
<rect x="96.2" y="1535.0" width="597.0999999999999" height="21.0" fill="url(#kg21)"/>
<rect x="96.2" y="1555.0" width="597.0999999999999" height="51.0" fill="url(#kg22)"/>
</g></g>
<text x="44.1" y="1151.9" font-size="38" text-anchor="start" font-weight="bold" fill="#000" >(g)</text>
<text x="147" y="1165" font-size="34" font-weight="bold" fill="#fff">SA-SADF-H<tspan dy="-13" font-size="22">+</tspan></text>
<text x="186" y="1511" font-size="37.8" font-weight="bold" fill="#fff">Δ E=90 mV</text>
<text x="530" y="1495.5" font-size="37.2" font-weight="bold" fill="#fff">2 μm</text>
<rect x="548.3" y="1518.2" width="70.6" height="8.8" fill="#fff"/>
<line x1="419.5" y1="1522.6" x2="515.2" y2="1444.6" stroke="#fff" stroke-width="3"/>
<path d="M412.9,1526.3 L416.0,1523.0 L419.5,1520.4 L418.1,1511.6 L416.0,1505.0 L414.4,1496.9 L418.0,1492.0 L421.8,1486.6 L420.5,1478.0 L418.1,1471.8 L410.7,1457.1 L404.0,1446.0 L398.9,1435.1 L397.5,1429.2 L403.0,1430.5 L410.0,1431.4 L410.5,1426.0 L407.8,1420.3 L404.8,1411.5 L412.2,1411.5 L425.0,1417.0 L440.1,1424.8 L455.0,1433.0 L466.6,1440.9 L476.0,1446.0 L485.8,1448.3 L493.1,1446.8 L496.1,1440.9 L502.0,1438.5 L509.3,1438.0 L514.0,1440.5 L517.4,1443.9" fill="none" stroke="#ff1010" stroke-width="3.6" stroke-linejoin="round" stroke-linecap="round" />
<defs><linearGradient id="cbar" x1="0" y1="0" x2="0" y2="1"><stop offset="0" stop-color="#fcf8e4"/><stop offset="0.1" stop-color="#f6f0c4"/><stop offset="0.2" stop-color="#ece08a"/><stop offset="0.3" stop-color="#d8c040"/><stop offset="0.4" stop-color="#c8a030"/><stop offset="0.5" stop-color="#b87a30"/><stop offset="0.58" stop-color="#a85a35"/><stop offset="0.66" stop-color="#8a3a4a"/><stop offset="0.74" stop-color="#6a2060"/><stop offset="0.84" stop-color="#4a1460"/><stop offset="0.93" stop-color="#2a0c58"/><stop offset="1" stop-color="#1e0a50"/></linearGradient></defs>
<rect x="595.1" y="1150.8" width="56.4" height="258.8" fill="url(#cbar)" stroke="#111" stroke-width="2.2"/>
<text x="625" y="1150" font-size="24" font-weight="bold" text-anchor="middle">mV</text>
<text x="625" y="1188" font-size="25" font-weight="bold" text-anchor="middle">415</text>
<text x="625" y="1296.6" font-size="25" font-weight="bold" text-anchor="middle" fill="#fff">315</text>
<text x="625" y="1407.8" font-size="25" font-weight="bold" text-anchor="middle" fill="#fff">215</text>
<defs><clipPath id="hb0"><rect x="855.8" y="1498.2" width="63.2" height="66.6"/></clipPath></defs>
<path d="M789.2,1564.8L855.8,1498.2M796.5,1564.8L863.0,1498.2M803.7,1564.8L870.3,1498.2M811.0,1564.8L877.5,1498.2M818.2,1564.8L884.8,1498.2M825.5,1564.8L892.0,1498.2M832.7,1564.8L899.3,1498.2M840.0,1564.8L906.5,1498.2M847.2,1564.8L913.8,1498.2M854.5,1564.8L921.0,1498.2M861.7,1564.8L928.3,1498.2M869.0,1564.8L935.5,1498.2M876.2,1564.8L942.8,1498.2M883.5,1564.8L950.0,1498.2M890.7,1564.8L957.3,1498.2M898.0,1564.8L964.5,1498.2M905.2,1564.8L971.8,1498.2M912.5,1564.8L979.0,1498.2M919.7,1564.8L986.3,1498.2" stroke="#2ca02c" stroke-width="1.8" clip-path="url(#hb0)"/>
<defs><clipPath id="hb1"><rect x="1039.3" y="1301.2" width="63.6" height="263.6"/></clipPath></defs>
<path d="M775.7,1564.8L1039.3,1301.2M783.0,1564.8L1046.5,1301.2M790.2,1564.8L1053.8,1301.2M797.5,1564.8L1061.0,1301.2M804.7,1564.8L1068.3,1301.2M812.0,1564.8L1075.5,1301.2M819.2,1564.8L1082.8,1301.2M826.5,1564.8L1090.0,1301.2M833.7,1564.8L1097.3,1301.2M841.0,1564.8L1104.5,1301.2M848.2,1564.8L1111.8,1301.2M855.5,1564.8L1119.0,1301.2M862.7,1564.8L1126.3,1301.2M870.0,1564.8L1133.5,1301.2M877.2,1564.8L1140.8,1301.2M884.5,1564.8L1148.0,1301.2M891.7,1564.8L1155.3,1301.2M899.0,1564.8L1162.5,1301.2M906.2,1564.8L1169.8,1301.2M913.5,1564.8L1177.0,1301.2M920.7,1564.8L1184.3,1301.2M928.0,1564.8L1191.5,1301.2M935.2,1564.8L1198.8,1301.2M942.5,1564.8L1206.0,1301.2M949.7,1564.8L1213.3,1301.2M957.0,1564.8L1220.5,1301.2M964.2,1564.8L1227.8,1301.2M971.5,1564.8L1235.0,1301.2M978.7,1564.8L1242.3,1301.2M986.0,1564.8L1249.5,1301.2M993.2,1564.8L1256.8,1301.2M1000.5,1564.8L1264.0,1301.2M1007.7,1564.8L1271.3,1301.2M1015.0,1564.8L1278.5,1301.2M1022.2,1564.8L1285.8,1301.2M1029.5,1564.8L1293.0,1301.2M1036.7,1564.8L1300.3,1301.2M1044.0,1564.8L1307.5,1301.2M1051.2,1564.8L1314.8,1301.2M1058.5,1564.8L1322.0,1301.2M1065.7,1564.8L1329.3,1301.2M1073.0,1564.8L1336.5,1301.2M1080.2,1564.8L1343.8,1301.2M1087.5,1564.8L1351.0,1301.2M1094.7,1564.8L1358.3,1301.2M1102.0,1564.8L1365.5,1301.2" stroke="#ff2020" stroke-width="1.8" clip-path="url(#hb1)"/>
<defs><clipPath id="hb2"><rect x="1223.9" y="1206.6" width="63.2" height="358.2"/></clipPath></defs>
<path d="M865.7,1564.8L1223.9,1206.6M872.9,1564.8L1231.2,1206.6M880.2,1564.8L1238.4,1206.6M887.4,1564.8L1245.7,1206.6M894.7,1564.8L1252.9,1206.6M901.9,1564.8L1260.2,1206.6M909.2,1564.8L1267.4,1206.6M916.4,1564.8L1274.7,1206.6M923.7,1564.8L1281.9,1206.6M930.9,1564.8L1289.2,1206.6M938.2,1564.8L1296.4,1206.6M945.4,1564.8L1303.7,1206.6M952.7,1564.8L1310.9,1206.6M959.9,1564.8L1318.2,1206.6M967.2,1564.8L1325.4,1206.6M974.4,1564.8L1332.7,1206.6M981.7,1564.8L1339.9,1206.6M988.9,1564.8L1347.2,1206.6M996.2,1564.8L1354.4,1206.6M1003.4,1564.8L1361.7,1206.6M1010.7,1564.8L1368.9,1206.6M1017.9,1564.8L1376.2,1206.6M1025.2,1564.8L1383.4,1206.6M1032.4,1564.8L1390.7,1206.6M1039.7,1564.8L1397.9,1206.6M1046.9,1564.8L1405.2,1206.6M1054.2,1564.8L1412.4,1206.6M1061.4,1564.8L1419.7,1206.6M1068.7,1564.8L1426.9,1206.6M1075.9,1564.8L1434.2,1206.6M1083.2,1564.8L1441.4,1206.6M1090.4,1564.8L1448.7,1206.6M1097.7,1564.8L1455.9,1206.6M1104.9,1564.8L1463.2,1206.6M1112.2,1564.8L1470.4,1206.6M1119.4,1564.8L1477.7,1206.6M1126.7,1564.8L1484.9,1206.6M1133.9,1564.8L1492.2,1206.6M1141.2,1564.8L1499.4,1206.6M1148.4,1564.8L1506.7,1206.6M1155.7,1564.8L1513.9,1206.6M1162.9,1564.8L1521.2,1206.6M1170.2,1564.8L1528.4,1206.6M1177.4,1564.8L1535.7,1206.6M1184.7,1564.8L1542.9,1206.6M1191.9,1564.8L1550.2,1206.6M1199.2,1564.8L1557.4,1206.6M1206.4,1564.8L1564.7,1206.6M1213.7,1564.8L1571.9,1206.6M1220.9,1564.8L1579.2,1206.6M1228.2,1564.8L1586.4,1206.6M1235.4,1564.8L1593.7,1206.6M1242.7,1564.8L1600.9,1206.6M1249.9,1564.8L1608.2,1206.6M1257.2,1564.8L1615.4,1206.6M1264.4,1564.8L1622.7,1206.6M1271.7,1564.8L1629.9,1206.6M1278.9,1564.8L1637.2,1206.6M1286.2,1564.8L1644.4,1206.6" stroke="#2a7ab8" stroke-width="1.8" clip-path="url(#hb2)"/>
<rect x="795.3" y="1124.6" width="563.6" height="440.2" fill="none" stroke="#000" stroke-width="2.2"/>
<line x1="788.5" y1="1564.8" x2="795.3" y2="1564.8" stroke="#000" stroke-width="2" />
<line x1="788.5" y1="1454.7" x2="795.3" y2="1454.7" stroke="#000" stroke-width="2" />
<line x1="788.5" y1="1344.7" x2="795.3" y2="1344.7" stroke="#000" stroke-width="2" />
<line x1="788.5" y1="1234.6" x2="795.3" y2="1234.6" stroke="#000" stroke-width="2" />
<line x1="788.5" y1="1124.6" x2="795.3" y2="1124.6" stroke="#000" stroke-width="2" />
<text x="781.1" y="1570.8" font-size="20.5" text-anchor="end" font-weight="bold" fill="#000" >0</text>
<text x="781.1" y="1460.7" font-size="20.5" text-anchor="end" font-weight="bold" fill="#000" >2</text>
<text x="781.1" y="1350.7" font-size="20.5" text-anchor="end" font-weight="bold" fill="#000" >4</text>
<text x="781.1" y="1240.6" font-size="20.5" text-anchor="end" font-weight="bold" fill="#000" >6</text>
<text x="781.1" y="1130.6" font-size="20.5" text-anchor="end" font-weight="bold" fill="#000" >8</text>
<text x="704.8" y="1151.7" font-size="38" text-anchor="start" font-weight="bold" fill="#000" >(h)</text>
<line x1="855" y1="1206.6" x2="1224" y2="1206.6" stroke="#3a85c6" stroke-width="2" stroke-dasharray="10,6"/>
<text x="1109.5" y="1178.6" font-size="25.8" text-anchor="middle" font-weight="bold" fill="#3a85c6" >Giant internal electric field</text>
<line x1="887" y1="1216" x2="887" y2="1488" stroke="#2ca02c" stroke-width="2" stroke-dasharray="8,5"/>
<polygon points="887,1207.5 883.5,1217 890.5,1217" fill="#2ca02c"/>
<polygon points="887,1497.7 883.7,1488 890.3,1488" fill="#2ca02c"/>
<line x1="1071.4" y1="1216" x2="1071.4" y2="1292" stroke="#ff2020" stroke-width="2" stroke-dasharray="8,5"/>
<polygon points="1071.4,1207.5 1068,1217 1074.8,1217" fill="#ff2020"/>
<polygon points="1071.4,1301 1068,1291.5 1074.8,1291.5" fill="#ff2020"/>
<text x="1078" y="1264" font-size="25.2" text-anchor="start" font-weight="bold" fill="#000" >1.4 times</text>
<text x="905.3" y="1363.2" font-size="25.4" text-anchor="start" font-weight="bold" fill="#000" >6.4 times</text>
<text x="895.1" y="1590.5" font-size="25.1" text-anchor="middle" font-weight="bold" fill="#000" >SADF</text>
<text x="1004.5" y="1590.5" font-size="25.6" font-weight="bold">SADF-2H<tspan dy="-10" font-size="17">2+</tspan></text>
<text x="1168.5" y="1590.5" font-size="24.9" font-weight="bold">SA-SADF-H<tspan dy="-10" font-size="17">+</tspan></text>
<text x="0" y="0" transform="translate(753.3,1343.5) rotate(-90)" font-size="25.6" text-anchor="middle" font-weight="bold" fill="#000">Internal electric intensity</text>
<rect x="864" y="1628" width="81" height="3" fill="#e6e6e6"/>
<rect x="1105" y="1628" width="33" height="3" fill="#e6e6e6"/>
<path d="M1874.5,1369.8a4.5,4.5 0 1,0 9,0a4.5,4.5 0 1,0 -9,0M1830.2,1353.6a4.5,4.5 0 1,0 9,0a4.5,4.5 0 1,0 -9,0M1779.5,1342.6a4.5,4.5 0 1,0 9,0a4.5,4.5 0 1,0 -9,0M1725.4,1339.2a4.5,4.5 0 1,0 9,0a4.5,4.5 0 1,0 -9,0M1671.3,1344.2a4.5,4.5 0 1,0 9,0a4.5,4.5 0 1,0 -9,0M1622.9,1356.0a4.5,4.5 0 1,0 9,0a4.5,4.5 0 1,0 -9,0M1580.2,1373.5a4.5,4.5 0 1,0 9,0a4.5,4.5 0 1,0 -9,0M1545.3,1394.3a4.5,4.5 0 1,0 9,0a4.5,4.5 0 1,0 -9,0M1518.1,1415.4a4.5,4.5 0 1,0 9,0a4.5,4.5 0 1,0 -9,0M1497.9,1435.9a4.5,4.5 0 1,0 9,0a4.5,4.5 0 1,0 -9,0M1482.5,1455.1a4.5,4.5 0 1,0 9,0a4.5,4.5 0 1,0 -9,0M1471.7,1471.9a4.5,4.5 0 1,0 9,0a4.5,4.5 0 1,0 -9,0M1464.0,1487.0a4.5,4.5 0 1,0 9,0a4.5,4.5 0 1,0 -9,0M1459.3,1499.1a4.5,4.5 0 1,0 9,0a4.5,4.5 0 1,0 -9,0M1454.9,1509.8a4.5,4.5 0 1,0 9,0a4.5,4.5 0 1,0 -9,0M1452.3,1518.2a4.5,4.5 0 1,0 9,0a4.5,4.5 0 1,0 -9,0M1450.2,1526.0a4.5,4.5 0 1,0 9,0a4.5,4.5 0 1,0 -9,0M1449.2,1533.4a4.5,4.5 0 1,0 9,0a4.5,4.5 0 1,0 -9,0M1448.6,1541.8a4.5,4.5 0 1,0 9,0a4.5,4.5 0 1,0 -9,0M1447.9,1550.2a4.5,4.5 0 1,0 9,0a4.5,4.5 0 1,0 -9,0M1447.5,1556.9a4.5,4.5 0 1,0 9,0a4.5,4.5 0 1,0 -9,0" fill="#2ca02c"/>
<path d="M1800.0,1520.6a4.5,4.5 0 1,0 9,0a4.5,4.5 0 1,0 -9,0M1797.3,1512.5a4.5,4.5 0 1,0 9,0a4.5,4.5 0 1,0 -9,0M1792.2,1502.5a4.5,4.5 0 1,0 9,0a4.5,4.5 0 1,0 -9,0M1784.5,1491.4a4.5,4.5 0 1,0 9,0a4.5,4.5 0 1,0 -9,0M1774.8,1478.9a4.5,4.5 0 1,0 9,0a4.5,4.5 0 1,0 -9,0M1760.3,1465.5a4.5,4.5 0 1,0 9,0a4.5,4.5 0 1,0 -9,0M1741.8,1452.1a4.5,4.5 0 1,0 9,0a4.5,4.5 0 1,0 -9,0M1717.6,1439.3a4.5,4.5 0 1,0 9,0a4.5,4.5 0 1,0 -9,0M1689.8,1429.2a4.5,4.5 0 1,0 9,0a4.5,4.5 0 1,0 -9,0M1657.5,1422.5a4.5,4.5 0 1,0 9,0a4.5,4.5 0 1,0 -9,0M1622.9,1420.5a4.5,4.5 0 1,0 9,0a4.5,4.5 0 1,0 -9,0M1588.6,1424.2a4.5,4.5 0 1,0 9,0a4.5,4.5 0 1,0 -9,0M1557.4,1431.9a4.5,4.5 0 1,0 9,0a4.5,4.5 0 1,0 -9,0M1530.5,1443.0a4.5,4.5 0 1,0 9,0a4.5,4.5 0 1,0 -9,0M1508.4,1456.8a4.5,4.5 0 1,0 9,0a4.5,4.5 0 1,0 -9,0M1491.6,1469.9a4.5,4.5 0 1,0 9,0a4.5,4.5 0 1,0 -9,0M1478.8,1483.0a4.5,4.5 0 1,0 9,0a4.5,4.5 0 1,0 -9,0M1469.7,1495.1a4.5,4.5 0 1,0 9,0a4.5,4.5 0 1,0 -9,0M1462.3,1505.8a4.5,4.5 0 1,0 9,0a4.5,4.5 0 1,0 -9,0M1458.3,1514.9a4.5,4.5 0 1,0 9,0a4.5,4.5 0 1,0 -9,0M1455.6,1522.6a4.5,4.5 0 1,0 9,0a4.5,4.5 0 1,0 -9,0M1452.9,1529.3a4.5,4.5 0 1,0 9,0a4.5,4.5 0 1,0 -9,0M1451.2,1536.7a4.5,4.5 0 1,0 9,0a4.5,4.5 0 1,0 -9,0M1449.6,1546.8a4.5,4.5 0 1,0 9,0a4.5,4.5 0 1,0 -9,0M1448.2,1556.9a4.5,4.5 0 1,0 9,0a4.5,4.5 0 1,0 -9,0M1447.5,1561.9a4.5,4.5 0 1,0 9,0a4.5,4.5 0 1,0 -9,0" fill="#ff7f0e"/>
<path d="M1447.3,1558.9a4.5,4.5 0 1,0 9,0a4.5,4.5 0 1,0 -9,0M1447.5,1556.4a4.5,4.5 0 1,0 9,0a4.5,4.5 0 1,0 -9,0M1448.0,1553.9a4.5,4.5 0 1,0 9,0a4.5,4.5 0 1,0 -9,0M1448.7,1551.4a4.5,4.5 0 1,0 9,0a4.5,4.5 0 1,0 -9,0M1449.6,1548.9a4.5,4.5 0 1,0 9,0a4.5,4.5 0 1,0 -9,0M1450.7,1546.5a4.5,4.5 0 1,0 9,0a4.5,4.5 0 1,0 -9,0M1452.0,1544.2a4.5,4.5 0 1,0 9,0a4.5,4.5 0 1,0 -9,0M1453.5,1541.9a4.5,4.5 0 1,0 9,0a4.5,4.5 0 1,0 -9,0M1456.1,1538.5a4.5,4.5 0 1,0 9,0a4.5,4.5 0 1,0 -9,0M1462.0,1533.0a4.5,4.5 0 1,0 9,0a4.5,4.5 0 1,0 -9,0M1469.1,1528.4a4.5,4.5 0 1,0 9,0a4.5,4.5 0 1,0 -9,0M1477.2,1524.8a4.5,4.5 0 1,0 9,0a4.5,4.5 0 1,0 -9,0M1486.0,1522.4a4.5,4.5 0 1,0 9,0a4.5,4.5 0 1,0 -9,0M1495.1,1521.3a4.5,4.5 0 1,0 9,0a4.5,4.5 0 1,0 -9,0M1504.4,1521.6a4.5,4.5 0 1,0 9,0a4.5,4.5 0 1,0 -9,0M1513.5,1523.1a4.5,4.5 0 1,0 9,0a4.5,4.5 0 1,0 -9,0M1522.0,1525.8a4.5,4.5 0 1,0 9,0a4.5,4.5 0 1,0 -9,0M1529.8,1529.7a4.5,4.5 0 1,0 9,0a4.5,4.5 0 1,0 -9,0M1536.6,1534.7a4.5,4.5 0 1,0 9,0a4.5,4.5 0 1,0 -9,0M1542.0,1540.5a4.5,4.5 0 1,0 9,0a4.5,4.5 0 1,0 -9,0M1544.4,1544.0a4.5,4.5 0 1,0 9,0a4.5,4.5 0 1,0 -9,0M1545.8,1546.4a4.5,4.5 0 1,0 9,0a4.5,4.5 0 1,0 -9,0M1546.9,1548.9a4.5,4.5 0 1,0 9,0a4.5,4.5 0 1,0 -9,0M1547.9,1551.4a4.5,4.5 0 1,0 9,0a4.5,4.5 0 1,0 -9,0M1548.6,1554.0a4.5,4.5 0 1,0 9,0a4.5,4.5 0 1,0 -9,0M1549.0,1556.6a4.5,4.5 0 1,0 9,0a4.5,4.5 0 1,0 -9,0M1549.3,1559.3a4.5,4.5 0 1,0 9,0a4.5,4.5 0 1,0 -9,0" fill="#1f77b4"/>
<rect x="1451.4" y="1124.2" width="564.7" height="438.7" fill="none" stroke="#000" stroke-width="2.2"/>
<line x1="1451.4" y1="1562.9" x2="1451.4" y2="1571.3" stroke="#000" stroke-width="2" />
<line x1="1545.5" y1="1562.9" x2="1545.5" y2="1571.3" stroke="#000" stroke-width="2" />
<line x1="1639.6" y1="1562.9" x2="1639.6" y2="1571.3" stroke="#000" stroke-width="2" />
<line x1="1733.8" y1="1562.9" x2="1733.8" y2="1571.3" stroke="#000" stroke-width="2" />
<line x1="1827.9" y1="1562.9" x2="1827.9" y2="1571.3" stroke="#000" stroke-width="2" />
<line x1="1922" y1="1562.9" x2="1922" y2="1571.3" stroke="#000" stroke-width="2" />
<line x1="2016.1" y1="1562.9" x2="2016.1" y2="1571.3" stroke="#000" stroke-width="2" />
<text x="1451.4" y="1596.6" font-size="22" text-anchor="middle" font-weight="bold" fill="#000" >0</text>
<text x="1545.5" y="1596.6" font-size="22" text-anchor="middle" font-weight="bold" fill="#000" >100</text>
<text x="1639.6" y="1596.6" font-size="22" text-anchor="middle" font-weight="bold" fill="#000" >200</text>
<text x="1733.8" y="1596.6" font-size="22" text-anchor="middle" font-weight="bold" fill="#000" >300</text>
<text x="1827.9" y="1596.6" font-size="22" text-anchor="middle" font-weight="bold" fill="#000" >400</text>
<text x="1922" y="1596.6" font-size="22" text-anchor="middle" font-weight="bold" fill="#000" >500</text>
<text x="2016.1" y="1596.6" font-size="22" text-anchor="middle" font-weight="bold" fill="#000" >600</text>
<line x1="1443" y1="1562.9" x2="1451.4" y2="1562.9" stroke="#000" stroke-width="2" />
<line x1="1443" y1="1488.5" x2="1451.4" y2="1488.5" stroke="#000" stroke-width="2" />
<line x1="1443" y1="1414" x2="1451.4" y2="1414" stroke="#000" stroke-width="2" />
<line x1="1443" y1="1339.6" x2="1451.4" y2="1339.6" stroke="#000" stroke-width="2" />
<line x1="1443" y1="1265.1" x2="1451.4" y2="1265.1" stroke="#000" stroke-width="2" />
<line x1="1443" y1="1190.7" x2="1451.4" y2="1190.7" stroke="#000" stroke-width="2" />
<text x="1435.6" y="1569.3" font-size="22" text-anchor="end" font-weight="bold" fill="#000" >0</text>
<text x="1435.6" y="1494.9" font-size="22" text-anchor="end" font-weight="bold" fill="#000" >100</text>
<text x="1435.6" y="1420.4" font-size="22" text-anchor="end" font-weight="bold" fill="#000" >200</text>
<text x="1435.6" y="1346" font-size="22" text-anchor="end" font-weight="bold" fill="#000" >300</text>
<text x="1435.6" y="1271.5" font-size="22" text-anchor="end" font-weight="bold" fill="#000" >400</text>
<text x="1435.6" y="1197.1" font-size="22" text-anchor="end" font-weight="bold" fill="#000" >500</text>
<text x="1382.2" y="1151.7" font-size="38" text-anchor="start" font-weight="bold" fill="#000" >(i)</text>
<text x="1733" y="1617.3" font-size="25.5" font-weight="bold" text-anchor="middle">Z' (kΩ)</text>
<text transform="translate(1391,1344) rotate(-90)" font-size="25" font-weight="bold" text-anchor="middle">-Z'' (kΩ)</text>
<text x="1822" y="1157.1" font-size="21.9" text-anchor="start" font-weight="bold" fill="#000" >Under Irradiation</text>
<circle cx="1829.6" cy="1176.6" r="4.4" fill="#2ca02c"/>
<circle cx="1829.6" cy="1206.8" r="4.4" fill="#ff7f0e"/>
<circle cx="1829.6" cy="1237.1" r="4.4" fill="#1f77b4"/>
<text x="1860.5" y="1182.3" font-size="21.6" text-anchor="start" font-weight="bold" fill="#000" >SADF</text>
<text x="1860.5" y="1214.2" font-size="21.6" font-weight="bold">SADF-2H<tspan dy="-8" font-size="14">2+</tspan></text>
<text x="1860.5" y="1244.5" font-size="21.6" font-weight="bold">SA-SADF-H<tspan dy="-8" font-size="14">+</tspan></text>
<path d="M1477.6,1247.1H1795.7M1618.7,1246.1V1195.7H1737.9V1247.1" stroke="#a6dc8c" stroke-width="2.6" fill="none"/>
<rect x="1529.6" y="1243.6" width="32" height="7" fill="#9cc2ea"/>
<rect x="1660" y="1243.6" width="32" height="7" fill="#9cc2ea"/>
<circle cx="1618.7" cy="1246.1" r="6.5" fill="#a6dc8c"/>
<path d="M1669,1190.5L1677,1195.7L1669,1200.9M1680,1190.5L1688,1195.7L1680,1200.9" stroke="#a6dc8c" stroke-width="3.6" fill="none"/>
<text x="1676" y="1180.6" font-size="20" font-weight="bold" text-anchor="middle" fill="#3a85c6">CPE</text>
<text x="1536.4" y="1234.4" font-size="20" font-weight="bold" fill="#3a85c6">R<tspan dy="4" font-size="13">Ω</tspan></text>
<text x="1667.4" y="1234.4" font-size="20" font-weight="bold" fill="#3a85c6">R<tspan dy="4" font-size="13">ct</tspan></text>
<text x="1686" y="1370.4" font-size="22.2" text-anchor="start" font-weight="bold" fill="#2ca02c" >602.1 kΩ</text>
<text x="1608.6" y="1459.5" font-size="22.2" text-anchor="start" font-weight="bold" fill="#ff7f0e" >396.6 kΩ</text>
<text x="1556" y="1528.3" font-size="22.2" text-anchor="start" font-weight="bold" fill="#1f77b4" >107.0 kΩ</text>
</svg>
</body></html>
